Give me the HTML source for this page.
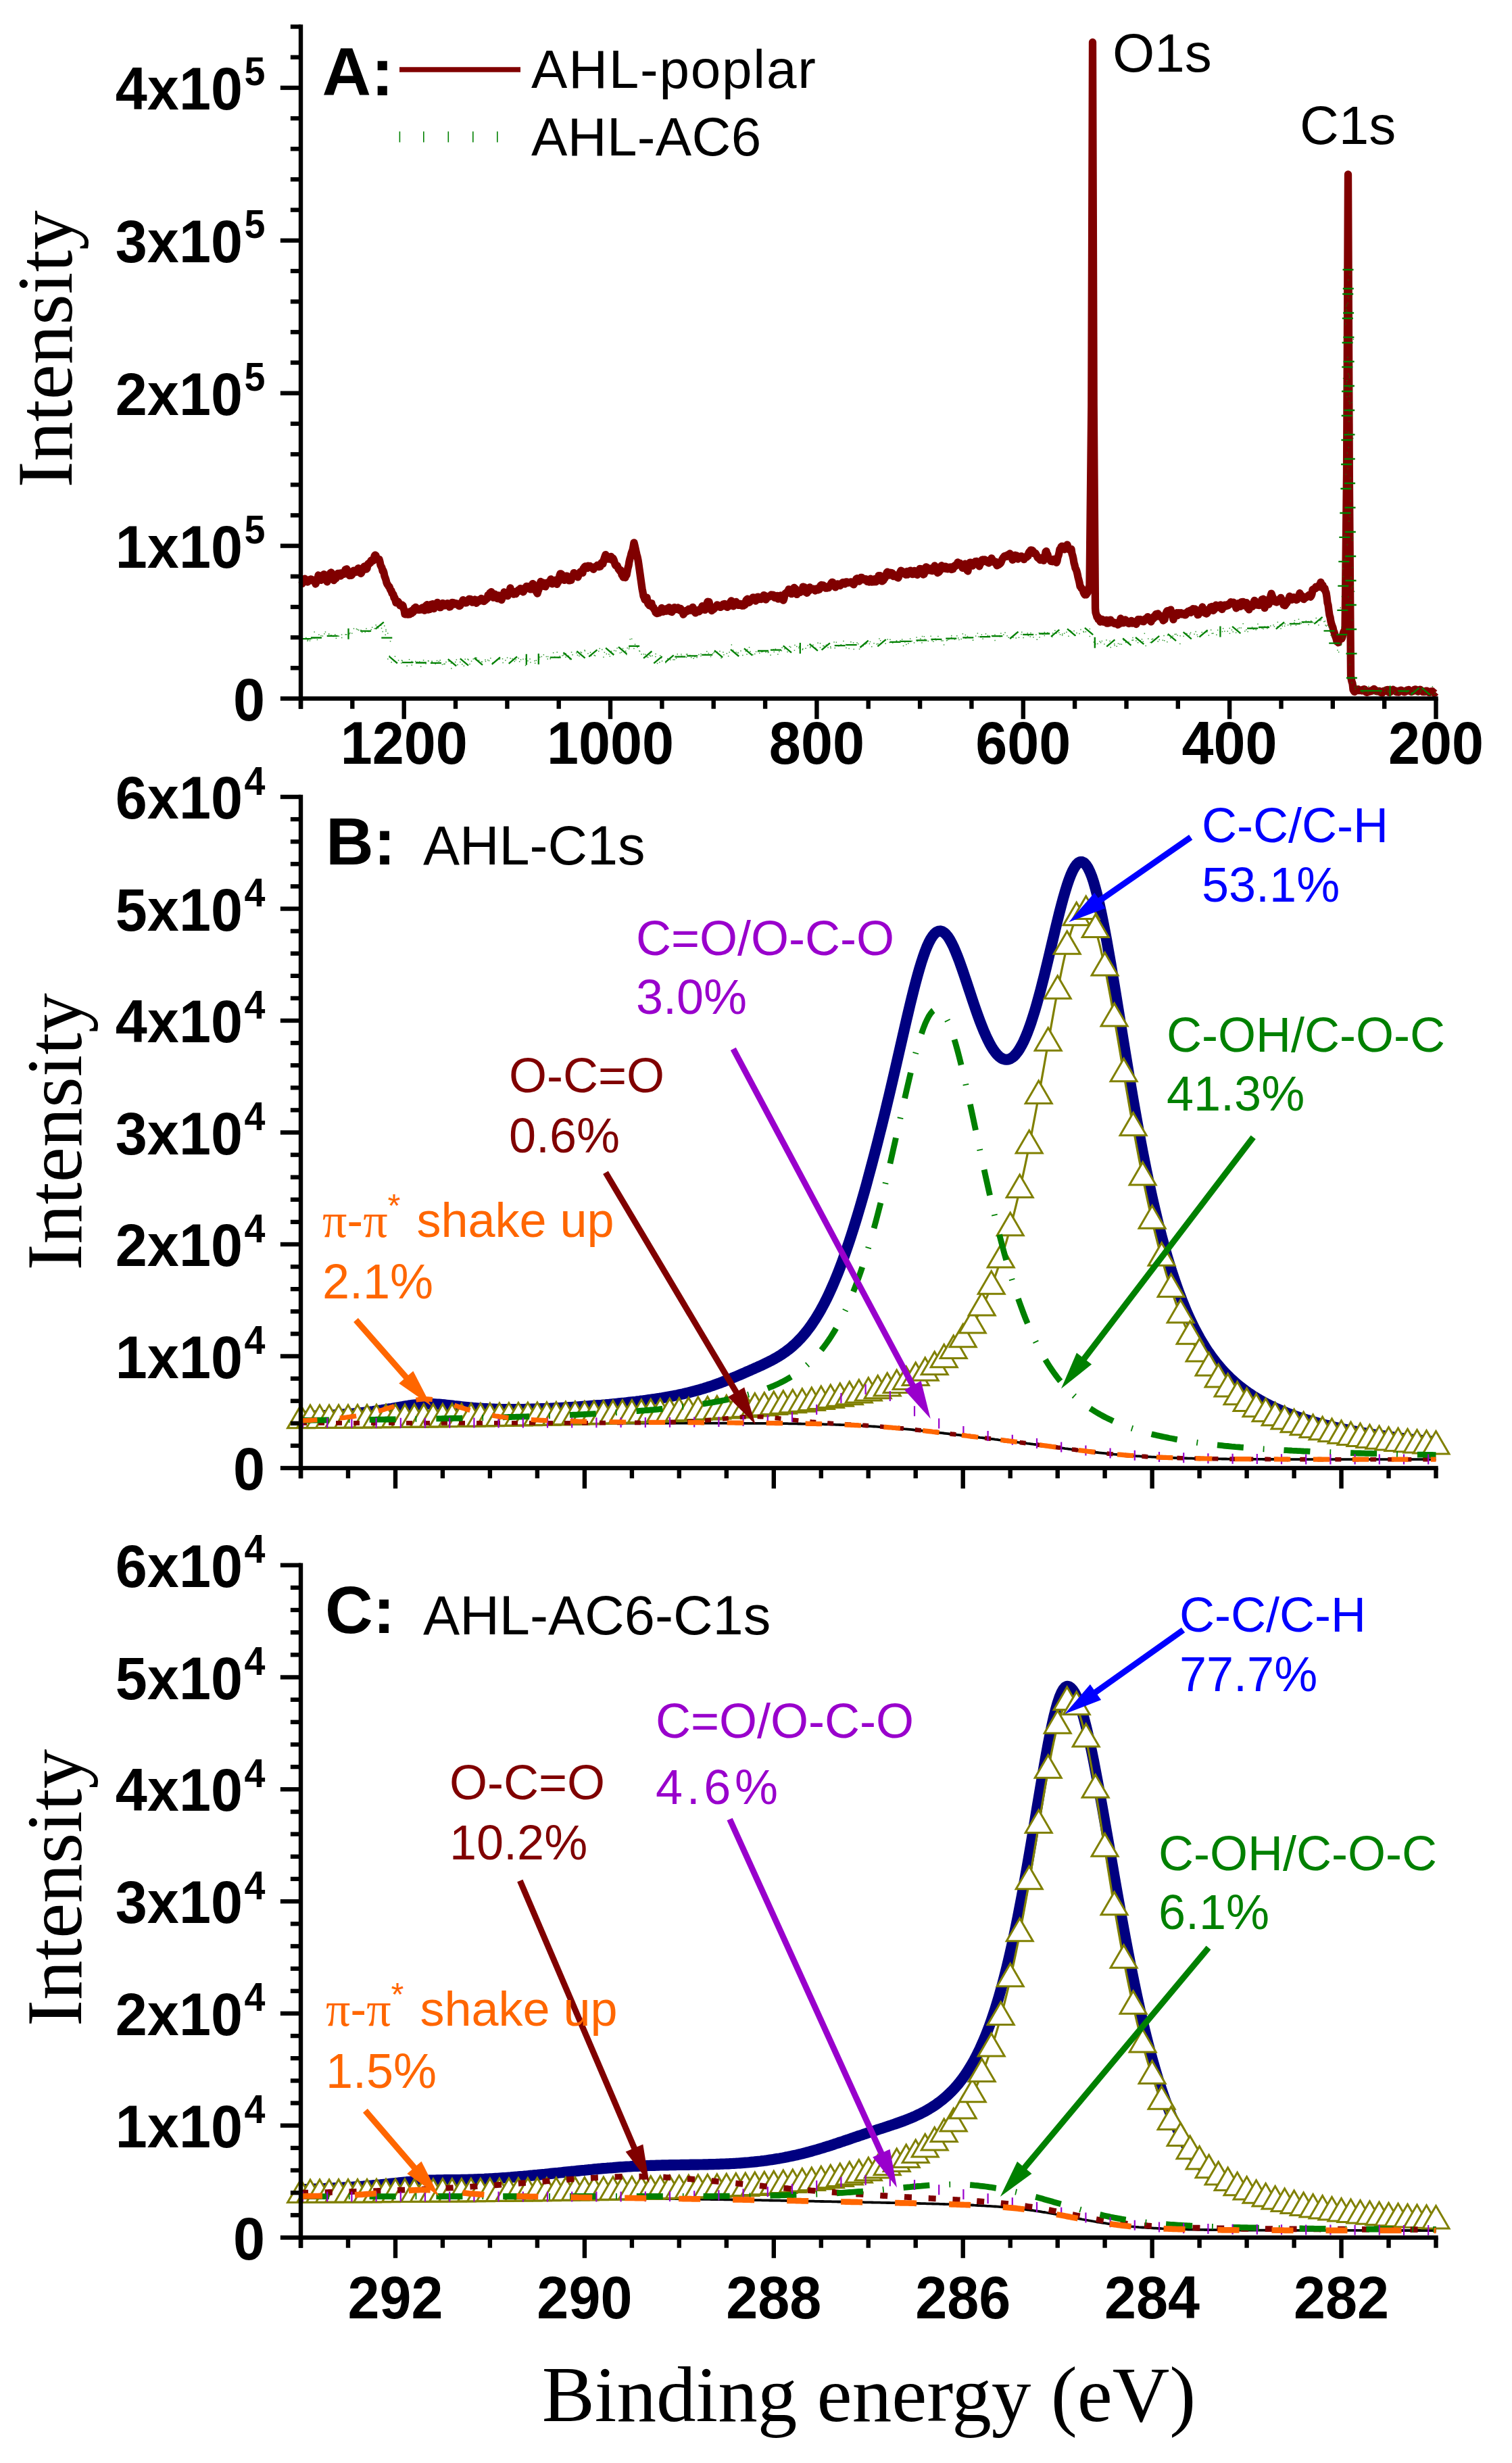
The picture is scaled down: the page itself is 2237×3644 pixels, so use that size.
<!DOCTYPE html>
<html lang="en"><head><meta charset="utf-8"><title>XPS spectra of AHL-poplar and AHL-AC6</title>
<style>html,body{margin:0;padding:0;background:#fff}svg{display:block}</style></head><body>
<svg width="2237" height="3644" viewBox="0 0 2237 3644">
<rect width="2237" height="3644" fill="#fff"/>
<polyline fill="none" stroke="#800000" stroke-width="11.3" stroke-linejoin="round" stroke-linecap="butt" points="445,863 446,862.9 447,863.5 448,859.3 449,860 450,859.8 451,856.1 452,859 453,859.8 454,858.7 455,861.1 456,860.2 457,858.7 458,859.2 459,857 460,856.9 461,857.4 462,858.1 463,857.9 464,859.6 465,859.5 466,858.3 467,864 468,861.1 469,858.4 470,858.2 471,851 472,852.5 473,854 474,853.2 475,858.4 476,853.8 477,855.1 478,852.7 479,849.7 480,850.1 481,851.4 482,857.4 483,857.7 484,860.8 485,857.9 486,855.7 487,854.8 488,850.4 489,847.6 490,847 491,851.7 492,854.6 493,856.5 494,858.7 495,855.2 496,854.7 497,855.8 498,852.2 499,851.1 500,848.4 501,848.5 502,848.4 503,850.6 504,852.1 505,847.9 506,847.7 507,848.3 508,848 509,849.4 510,847.4 511,842.7 512,842.6 513,841.9 514,846.1 515,847.1 516,847.5 517,851.5 518,851.3 519,851.2 520,851.3 521,849.9 522,846.9 523,844.2 524,844.5 525,844.5 526,845.2 527,846.4 528,844.8 529,842.1 530,840.7 531,843.8 532,846.1 533,847.6 534,848.5 535,846.9 536,843.9 537,842.1 538,839.6 539,837.9 540,841.1 541,842.1 542,842.1 543,840.9 544,835.3 545,833.9 546,834.6 547,832.5 548,832.7 549,829.2 550,828.8 551,829.4 552,829.4 553,827.6 554,822.8 555,821.1 556,821.8 557,825.3 558,825.6 559,827.3 560,827.4 561,827.6 562,831.1 563,836.2 564,838.1 565,840 566,844.6 567,844.5 568,847.6 569,852.8 570,855.1 571,858 572,862.2 573,864.4 574,865.6 575,867.4 576,868 577,870.9 578,873.2 579,873.8 580,877.8 581,878.2 582,879.8 583,884.5 584,884.3 585,888.4 586,891.8 587,890.5 588,890.7 589,890.2 590,891.7 591,893.3 592,895.9 593,894.9 594,896 595,895.1 596,895.8 597,900.1 598,902.5 599,908.8 600,907.3 601,908 602,908.8 603,908.3 604,909 605,908.1 606,908.9 607,904.6 608,906.6 609,907.4 610,903 611,906 612,903.2 613,899.8 614,899.3 615,898.4 616,899.7 617,902.3 618,901.8 619,901 620,902.4 621,901.6 622,900.8 623,902 624,899.5 625,899 626,901.5 627,902.3 628,903.1 629,899.3 630,896.4 631,895.5 632,894.7 633,899.4 634,902 635,899.4 636,901.4 637,898.1 638,894.2 639,898.6 640,893.6 641,895.8 642,900.5 643,897.2 644,897.5 645,897.9 646,893.9 647,891.3 648,893.3 649,892.8 650,895.5 651,898.8 652,898.6 653,896.9 654,894.4 655,892.4 656,893.9 657,893.6 658,896 659,895.5 660,893.4 661,893.8 662,892.6 663,894.3 664,895.4 665,898 666,897.8 667,896.3 668,894.2 669,891.3 670,892.6 671,891.6 672,893.1 673,894 674,892.6 675,892.8 676,894.3 677,893.1 678,893.8 679,896.4 680,896.6 681,895.7 682,894 683,892.5 684,890.2 685,887.6 686,890.3 687,889.8 688,891 689,892 690,891.9 691,890.8 692,889.3 693,888.7 694,886.2 695,886.7 696,886.4 697,889.2 698,889.4 699,891.2 700,890.6 701,888.1 702,887.8 703,887 704,889.6 705,892.3 706,889.2 707,888.6 708,888.8 709,887.3 710,889.1 711,888.8 712,885.4 713,886.2 714,886.8 715,888.3 716,889.7 717,887.3 718,888.1 719,887.1 720,885.2 721,885.5 722,880.5 723,880.3 724,880 725,877.1 726,877.7 727,875.7 728,877.7 729,880.8 730,884.2 731,882.6 732,878.9 733,880.3 734,880.1 735,881.7 736,885.7 737,882.5 738,880.8 739,882.3 740,883 741,884.4 742,887.6 743,884.7 744,882.1 745,881.6 746,876 747,877.2 748,878 749,877.8 750,880.1 751,881.7 752,878 753,875.6 754,874.4 755,870 756,874 757,876.7 758,876.2 759,876.9 760,879.1 761,877.4 762,877.4 763,878.7 764,874.9 765,876 766,875.6 767,873 768,872.7 769,872 770,870.6 771,874.2 772,874.3 773,873.8 774,875.8 775,874.1 776,871.5 777,869.5 778,870.2 779,867.3 780,868.8 781,868.5 782,867.6 783,869.5 784,871.5 785,871.9 786,869.6 787,868.5 788,863.6 789,864.2 790,866.9 791,869 792,873.4 793,872.9 794,876.3 795,878.1 796,874.8 797,872.1 798,867.5 799,864.1 800,860.5 801,864 802,863.5 803,861.8 804,866.2 805,867.4 806,866.6 807,867.9 808,865.5 809,862.2 810,862.8 811,863 812,862.8 813,860.1 814,860.6 815,856.8 816,857.6 817,863.8 818,862.5 819,862.8 820,859.9 821,858.6 822,858.2 823,860.7 824,864.3 825,861.9 826,861.1 827,858.4 828,851.5 829,848.8 830,848.9 831,849.8 832,855.1 833,857.1 834,857.1 835,858.3 836,855.9 837,855.3 838,852.1 839,852.1 840,853.2 841,854.2 842,858.9 843,858.8 844,858.3 845,858.4 846,853.3 847,851.9 848,851.9 849,847.6 850,851.8 851,849.6 852,850.2 853,851.8 854,850.9 855,853.8 856,851 857,848.9 858,846.7 859,845.7 860,846.1 861,847.1 862,847.6 863,841.3 864,840.3 865,838.6 866,837.8 867,840.6 868,839.4 869,840.6 870,837.2 871,837.9 872,838.1 873,837.6 874,838.4 875,839.4 876,839.8 877,840.8 878,842.3 879,839 880,839.6 881,838.9 882,838.1 883,838.3 884,836.2 885,836.4 886,838.7 887,837.3 888,838.1 889,835.5 890,832.5 891,833.9 892,834 893,829.3 894,826.3 895,823.3 896,820.6 897,823.3 898,822.5 899,824.4 900,827 901,824.3 902,825.7 903,825.8 904,823.5 905,828.3 906,827.4 907,826.2 908,828.1 909,831.2 910,835.1 911,836.8 912,837.3 913,836.7 914,839 915,842 916,842.4 917,844.6 918,843.4 919,846 920,850.5 921,849.8 922,854 923,852.5 924,853.9 925,854.5 926,850.6 927,851 928,845.7 929,840.3 930,836.9 931,830.7 932,826.5 933,823.4 934,819 935,816.1 936,813.9 937,808.5 938,802.8 939,806.9 940,811.2 941,815.9 942,820.3 943,823.8 944,828.6 945,835.1 946,842.3 947,849.4 948,856.6 949,863.7 950,870.9 951,875.8 952,881.9 953,883.9 954,887.2 955,886.4 956,884.7 957,884 958,890.6 959,893.6 960,894.6 961,896 962,892.2 963,892.6 964,892.7 965,898.1 966,899.1 967,898.9 968,902 969,902.2 970,906.1 971,907.1 972,907.5 973,906 974,905.2 975,906.9 976,904.9 977,902.5 978,901.9 979,899.5 980,903.1 981,905.2 982,903.1 983,904.5 984,901.3 985,901 986,904.1 987,902.2 988,899.9 989,900.6 990,898.7 991,901.2 992,904.9 993,904 994,905.5 995,903.7 996,903 997,901.8 998,898.6 999,901 1000,901.7 1001,899.8 1002,899.7 1003,899.1 1004,899.8 1005,901.8 1006,903.2 1007,900.3 1008,902.5 1009,904.3 1010,905.9 1011,909.2 1012,906.5 1013,906.6 1014,904.5 1015,904.5 1016,903 1017,904 1018,903.3 1019,901.1 1020,901.9 1021,901.8 1022,903.1 1023,902.7 1024,901.3 1025,898.3 1026,901.1 1027,903.6 1028,905.7 1029,906.9 1030,902.8 1031,903.1 1032,903.7 1033,904 1034,904.8 1035,904.5 1036,901.1 1037,901.3 1038,900.1 1039,896.6 1040,898 1041,897.2 1042,901.4 1043,902.4 1044,901.4 1045,898.9 1046,892.6 1047,890.1 1048,890.7 1049,890.5 1050,895.3 1051,900.4 1052,899 1053,903.5 1054,902 1055,901.4 1056,901.4 1057,900.1 1058,898.1 1059,897.2 1060,896.7 1061,894.8 1062,897.3 1063,896.4 1064,896.9 1065,898.2 1066,898.4 1067,895.7 1068,896.7 1069,896.5 1070,893.8 1071,896.6 1072,893.4 1073,894.6 1074,895.3 1075,894.4 1076,898.4 1077,895.7 1078,897 1079,895.3 1080,892.3 1081,890.2 1082,888.8 1083,892 1084,893.2 1085,896.8 1086,895.3 1087,892.1 1088,890.9 1089,890.3 1090,892.4 1091,893.7 1092,895.4 1093,894.1 1094,893.4 1095,895.4 1096,893.3 1097,893.8 1098,896.3 1099,894.2 1100,896.2 1101,894.7 1102,895.1 1103,891.1 1104,887.9 1105,887 1106,886.2 1107,890.2 1108,891.5 1109,890.9 1110,888.7 1111,888.1 1112,887.2 1113,886.6 1114,884 1115,884 1116,885.4 1117,887.8 1118,889.1 1119,885.7 1120,885.1 1121,883.1 1122,883.2 1123,886.6 1124,885.2 1125,885.1 1126,886.4 1127,886 1128,885.9 1129,882.5 1130,880.6 1131,880.8 1132,883.5 1133,887.1 1134,885.9 1135,884 1136,883.3 1137,882.3 1138,882.9 1139,882 1140,880.8 1141,880 1142,880.6 1143,881.1 1144,880.1 1145,883.3 1146,884.3 1147,882.2 1148,884 1149,883.8 1150,881.3 1151,886.1 1152,884.6 1153,885.6 1154,884.9 1155,881 1156,882.5 1157,883.7 1158,885.5 1159,888.2 1160,885.2 1161,879.4 1162,877.8 1163,878.5 1164,876.1 1165,877.2 1166,874.3 1167,871.8 1168,876.1 1169,874.7 1170,876.9 1171,878.7 1172,876.9 1173,876.7 1174,875.1 1175,869.4 1176,870.6 1177,871.2 1178,874.9 1179,879.4 1180,876.8 1181,877 1182,876.3 1183,875 1184,876.3 1185,874.3 1186,874.3 1187,872.4 1188,868.1 1189,869.5 1190,868.6 1191,873.2 1192,876.1 1193,874.7 1194,877.3 1195,873.9 1196,873.9 1197,874.1 1198,868.9 1199,870.8 1200,870.6 1201,871.3 1202,871.9 1203,871.9 1204,871.2 1205,872.9 1206,874 1207,871.7 1208,871.1 1209,870.9 1210,872.9 1211,872.3 1212,872.1 1213,868.7 1214,866.3 1215,865.7 1216,866.9 1217,868.8 1218,865.9 1219,867.5 1220,867.9 1221,867.6 1222,870.2 1223,870.2 1224,869.8 1225,868.3 1226,869.7 1227,867.3 1228,865.9 1229,864.5 1230,862.5 1231,861.3 1232,861.5 1233,864.6 1234,864.5 1235,867.6 1236,868.8 1237,867.3 1238,866.5 1239,863.8 1240,864.2 1241,864.8 1242,864.5 1243,866.5 1244,865.4 1245,864.5 1246,862.5 1247,861.7 1248,861.7 1249,862.4 1250,864 1251,861.7 1252,860.8 1253,860.9 1254,861.3 1255,862.2 1256,861.7 1257,861.7 1258,862.1 1259,860.9 1260,862.7 1261,863.3 1262,864.1 1263,864.9 1264,863.2 1265,859.9 1266,859.6 1267,856.2 1268,855.7 1269,856.8 1270,856.8 1271,860.1 1272,859 1273,857.1 1274,854.3 1275,854.4 1276,855.8 1277,857.7 1278,857.6 1279,856.9 1280,858.2 1281,856.6 1282,857.6 1283,860.4 1284,859.5 1285,860.4 1286,861.2 1287,857.2 1288,856.2 1289,859.3 1290,861.1 1291,859.4 1292,860.3 1293,860.8 1294,856.7 1295,859.7 1296,860.8 1297,856.7 1298,858.1 1299,857.5 1300,851.7 1301,852.9 1302,851.7 1303,853.1 1304,859.5 1305,859.9 1306,859.4 1307,858.5 1308,855.2 1309,855.6 1310,853.7 1311,850.9 1312,847.1 1313,846.2 1314,848.4 1315,849 1316,851 1317,848.9 1318,847.3 1319,847.6 1320,847.8 1321,850.9 1322,852.7 1323,851.7 1324,851.4 1325,850.9 1326,851 1327,852.6 1328,854.6 1329,855 1330,852.2 1331,850.3 1332,846.1 1333,844.2 1334,845.4 1335,845.3 1336,846.7 1337,846.9 1338,847.1 1339,847.2 1340,850.3 1341,847.3 1342,845.3 1343,850.2 1344,847.4 1345,848 1346,848.7 1347,844.1 1348,845.8 1349,847.8 1350,849.7 1351,849.3 1352,845.4 1353,844.5 1354,845.9 1355,847.9 1356,849.9 1357,850.5 1358,847.3 1359,845.3 1360,843.4 1361,841.4 1362,842.1 1363,841.7 1364,844.8 1365,848.2 1366,850 1367,849.6 1368,847 1369,842.7 1370,838.8 1371,839.1 1372,840.9 1373,842 1374,843.8 1375,843.8 1376,842.7 1377,841.1 1378,843.4 1379,844.7 1380,843.2 1381,842.8 1382,838.9 1383,837 1384,840.4 1385,843.3 1386,845.9 1387,847.4 1388,847 1389,846.4 1390,845.2 1391,843.1 1392,838.3 1393,836.7 1394,838.7 1395,837.9 1396,839.5 1397,841.2 1398,838.2 1399,838.2 1400,841.5 1401,840.8 1402,841.8 1403,841.5 1404,839.7 1405,839.1 1406,839 1407,841.7 1408,842.6 1409,842.2 1410,841.9 1411,838 1412,837.1 1413,837.9 1414,836 1415,836.5 1416,835.2 1417,832 1418,833.1 1419,834.7 1420,833.1 1421,835 1422,836.1 1423,837.2 1424,840.3 1425,839.9 1426,837.5 1427,835 1428,834.2 1429,838.1 1430,840.8 1431,843.9 1432,845 1433,838.5 1434,835.7 1435,832.3 1436,832.1 1437,837.3 1438,836.4 1439,837.1 1440,835.8 1441,832.2 1442,832.1 1443,830.8 1444,831.2 1445,830.4 1446,833.2 1447,834.3 1448,834 1449,837.8 1450,834.8 1451,833.2 1452,832.6 1453,828.2 1454,828 1455,829 1456,828.5 1457,828 1458,828.5 1459,829.5 1460,831.3 1461,830 1462,832.6 1463,833 1464,828.9 1465,829.6 1466,828 1467,825.8 1468,827.7 1469,831.3 1470,829.9 1471,830.8 1472,831.2 1473,831.1 1474,834.4 1475,836.8 1476,836.3 1477,834.4 1478,835.2 1479,833.4 1480,833.6 1481,832.1 1482,829.4 1483,827 1484,825.4 1485,824.9 1486,822.7 1487,823.9 1488,822.1 1489,822.7 1490,823.3 1491,821 1492,821.3 1493,821.3 1494,819 1495,822 1496,822.2 1497,824.7 1498,828.4 1499,825.3 1500,826.9 1501,824.7 1502,821.3 1503,822.5 1504,822 1505,823.8 1506,827.1 1507,825.8 1508,825.4 1509,825 1510,825.1 1511,822.8 1512,825.4 1513,824.1 1514,824.6 1515,827.7 1516,824.2 1517,824.4 1518,823.7 1519,824.3 1520,821.7 1521,822.6 1522,818 1523,816.2 1524,818 1525,813.8 1526,814.3 1527,814.1 1528,814.9 1529,817.7 1530,819 1531,818.1 1532,818.7 1533,820.2 1534,822.2 1535,824.7 1536,825.8 1537,825.6 1538,826.1 1539,828.6 1540,826.9 1541,825.4 1542,825.9 1543,826 1544,829.4 1545,826.4 1546,824 1547,816.5 1548,815.5 1549,819.8 1550,820.5 1551,826 1552,827.2 1553,827 1554,829 1555,830.4 1556,829.2 1557,830.8 1558,829.7 1559,827.3 1560,828.3 1561,829 1562,829 1563,832.3 1564,830.1 1565,824.5 1566,822 1567,817.7 1568,812.4 1569,812.5 1570,809 1571,808.1 1572,809.1 1573,808.3 1574,809.4 1575,812.8 1576,810.8 1577,809.7 1578,808 1579,805.9 1580,809.4 1581,811.7 1582,813.3 1583,812.9 1584,813.8 1585,812.4 1586,819.2 1587,822.3 1588,826.7 1589,832.8 1590,836.2 1591,840.7 1592,842.4 1593,845.2 1594,849.1 1595,854.1 1596,857.9 1597,861.9 1598,867.6 1599,868.4 1600,870.4 1601,871.5 1602,872 1603,876.3 1604,878.3 1605,879.8 1606,879.3 1607,879.9 1608,878.1 1609,877 1610,874 1611,869.9 1612,866 1613,771 1614,676 1614.8,600 1615,537.5 1616,225.2 1616.5,62.4 1617,225.2 1618,537.5 1618.2,600 1619,704.3 1620,834.8 1620.5,900 1621,906.2 1622,909.4 1623,913.1 1624,912.3 1625,916.5 1626,916.2 1627,915.1 1628,920 1629,916.2 1630,916.2 1631,919.3 1632,917.1 1633,920.2 1634,918.3 1635,918.3 1636,918.6 1637,917.3 1638,922.2 1639,922.2 1640,921.4 1641,921.6 1642,917.3 1643,917.2 1644,919.3 1645,919.8 1646,921.2 1647,920.4 1648,920.9 1649,922.6 1650,921.6 1651,922.2 1652,921.5 1653,921.7 1654,924.3 1655,923.1 1656,923 1657,918.4 1658,915 1659,916.1 1660,916.9 1661,920.7 1662,921.7 1663,919.3 1664,918.8 1665,916.9 1666,917.9 1667,920.3 1668,920.7 1669,921.9 1670,922.5 1671,921.3 1672,921.7 1673,919.7 1674,918.3 1675,922 1676,920.8 1677,919.6 1678,921.8 1679,920.3 1680,921.4 1681,923.5 1682,921.5 1683,919.4 1684,916.3 1685,918.3 1686,917.1 1687,916.5 1688,916.8 1689,917.2 1690,919.2 1691,919.2 1692,919.7 1693,917.4 1694,917.3 1695,915.2 1696,916.6 1697,915.3 1698,912.6 1699,914.5 1700,914.2 1701,917.2 1702,918.5 1703,919.8 1704,917.1 1705,914.9 1706,915.8 1707,912.3 1708,912.7 1709,913 1710,908.7 1711,910.3 1712,912 1713,907.8 1714,909.9 1715,910.4 1716,910.7 1717,911.3 1718,913.6 1719,913.8 1720,914.2 1721,918 1722,916.6 1723,916.7 1724,911.8 1725,907.6 1726,905.2 1727,903.7 1728,907.9 1729,907.1 1730,908 1731,906.3 1732,902.1 1733,907.3 1734,907.8 1735,912.4 1736,916.7 1737,912.7 1738,909.4 1739,909.9 1740,907.2 1741,906.7 1742,910.7 1743,907.4 1744,906.8 1745,907.9 1746,906.9 1747,906.7 1748,908.8 1749,908.7 1750,907.7 1751,908.4 1752,907.6 1753,909.8 1754,909.8 1755,908.5 1756,905.9 1757,906.4 1758,904.4 1759,904.8 1760,905.1 1761,903 1762,906.3 1763,903.2 1764,904.2 1765,900.6 1766,901.5 1767,903.3 1768,900.9 1769,902.5 1770,902.2 1771,905.2 1772,909.7 1773,909.4 1774,906.9 1775,906.9 1776,903.5 1777,904.1 1778,902.7 1779,898 1780,901 1781,902.4 1782,904.5 1783,907.2 1784,906.8 1785,908 1786,907.1 1787,905.5 1788,902 1789,901.2 1790,900.2 1791,898.2 1792,899.3 1793,897.4 1794,899.4 1795,903.3 1796,902.4 1797,900.9 1798,898.9 1799,895.2 1800,896 1801,897.9 1802,898.4 1803,897.6 1804,895.7 1805,896.9 1806,895 1807,898.7 1808,901.5 1809,898.8 1810,898.7 1811,897.7 1812,895.1 1813,895.2 1814,896.8 1815,895.2 1816,896.1 1817,895.8 1818,893.4 1819,894.2 1820,893.3 1821,890.7 1822,892.1 1823,891.8 1824,891.7 1825,891.2 1826,892.8 1827,894.3 1828,896.2 1829,899.9 1830,896.5 1831,895.4 1832,892.7 1833,895.6 1834,896.6 1835,897.4 1836,896.2 1837,890.6 1838,890.5 1839,890.4 1840,893.6 1841,895.9 1842,893.6 1843,894.2 1844,891.6 1845,893.6 1846,899.6 1847,898.9 1848,901.9 1849,897.1 1850,898.1 1851,897 1852,896.8 1853,897.4 1854,892.9 1855,890.5 1856,888.3 1857,889.6 1858,890 1859,894.1 1860,895.1 1861,895.3 1862,894.8 1863,895.7 1864,893.8 1865,895.2 1866,891.8 1867,887 1868,888.5 1869,886.1 1870,894.1 1871,899.5 1872,896.3 1873,894.6 1874,889.4 1875,887.9 1876,892.1 1877,894.2 1878,892 1879,887.6 1880,881.3 1881,878.1 1882,881 1883,883.5 1884,885.6 1885,888.2 1886,890 1887,888.8 1888,890.3 1889,891 1890,889 1891,888.8 1892,888.3 1893,886.4 1894,885.6 1895,884.4 1896,887.3 1897,889.3 1898,890.8 1899,894.9 1900,895.1 1901,895.9 1902,894.6 1903,890.9 1904,892 1905,888.5 1906,886.8 1907,885.6 1908,882.1 1909,883.8 1910,886.4 1911,887.4 1912,884.1 1913,883.9 1914,883.7 1915,884 1916,886.5 1917,886.8 1918,887.5 1919,887.2 1920,885 1921,883.1 1922,880.4 1923,877.5 1924,881 1925,880.6 1926,881.6 1927,884.7 1928,882.9 1929,886.7 1930,884.8 1931,883.3 1932,884.2 1933,882.8 1934,882.9 1935,881.6 1936,881.4 1937,880.2 1938,882.7 1939,883.1 1940,881.5 1941,878.8 1942,872.2 1943,871.8 1944,872 1945,870.4 1946,870.9 1947,868 1948,867.9 1949,867.6 1950,868.8 1951,868.4 1952,865.5 1953,864.6 1954,861.4 1955,864.4 1956,866.7 1957,865.8 1958,870.8 1959,871.5 1960,870.4 1961,874.9 1962,877 1963,883.1 1964,891.8 1965,895.1 1966,903.2 1967,910.1 1968,913.4 1969,919.6 1970,923.2 1971,926.2 1972,928.6 1973,933.4 1974,935.3 1975,939.6 1976,942.1 1977,945 1978,949.2 1979,948.2 1980,950.8 1981,945.9 1982,944.1 1983,945 1984,945.3 1985,944.9 1986,942.3 1987,938 1988,934.7 1989,933.7 1990,930 1991,838 1992,746 1992.5,700 1993,589.5 1994,368.5 1994.5,258 1995,380.8 1996,626.3 1996.3,700 1997,795.5 1998,931.8 1998.5,1000 1999,1003.8 2000,1008.4 2001,1011.4 2002,1020.3 2003,1022.2 2004,1023.5 2005,1021.7 2006,1019.9 2007,1020.6 2008,1020.1 2009,1019.8 2010,1021.7 2011,1020.5 2012,1021.1 2013,1021.5 2014,1021.1 2015,1022 2016,1021.1 2017,1020.1 2018,1019.7 2019,1019.8 2020,1023 2021,1023.8 2022,1024.4 2023,1024.2 2024,1022.6 2025,1022.9 2026,1022.3 2027,1023 2028,1022.4 2029,1022.5 2030,1022 2031,1020.5 2032,1020.9 2033,1019.4 2034,1020.8 2035,1021.9 2036,1021.6 2037,1022.9 2038,1022.8 2039,1022.9 2040,1022.6 2041,1022.4 2042,1023.9 2043,1024.3 2044,1024.9 2045,1025.1 2046,1023.1 2047,1022.5 2048,1022.1 2049,1022.4 2050,1022.3 2051,1020.8 2052,1020.7 2053,1020.5 2054,1022.5 2055,1024.4 2056,1024.2 2057,1023.7 2058,1021.7 2059,1021 2060,1021.1 2061,1020.3 2062,1021.1 2063,1021.3 2064,1021.8 2065,1022.9 2066,1023.8 2067,1023.8 2068,1023.7 2069,1024 2070,1021.9 2071,1022.3 2072,1022 2073,1021.1 2074,1022.1 2075,1022.6 2076,1022.7 2077,1023.7 2078,1023.8 2079,1022.1 2080,1023.1 2081,1022.1 2082,1021 2083,1021.4 2084,1020.4 2085,1021.3 2086,1021.7 2087,1023 2088,1023.5 2089,1022.8 2090,1022.8 2091,1022.1 2092,1020.8 2093,1020 2094,1019.9 2095,1020.2 2096,1021.4 2097,1022.7 2098,1023.1 2099,1021.5 2100,1021.2 2101,1020.2 2102,1020.8 2103,1022.1 2104,1022.2 2105,1023.5 2106,1023.2 2107,1023.3 2108,1023.6 2109,1023 2110,1022.1 2111,1022.2 2112,1022.8 2113,1023.7 2114,1024.4 2115,1024.5 2116,1023.5 2117,1023.1 2118,1022.9 2119,1022.7 2120,1024.1 2121,1024.3 2122,1025.5 2123,1025 2124,1023.9"/>
<path fill="none" stroke="#008000" stroke-width="1.5" stroke-opacity="0.8" d="M444.3 945.9h1.5M448.5 945h1.5M452 943.6h1.5M454.3 948.2h1.5M454.8 946.7h1.5M457.7 947.9h1.5M460.4 945.3h1.5M464.4 935.1h1.5M464 944.1h1.5M468.7 946.6h1.5M471.1 939.1h1.5M474.2 940.5h1.5M476.6 940.9h1.5M479.1 937.8h1.5M480.7 934.9h1.5M485.9 938.6h1.5M485.9 937.7h1.5M489.1 939.7h1.5M492.3 941.5h1.5M495 938.7h1.5M496.6 944.3h1.5M499.7 941h1.5M500.6 941.3h1.5M504.9 943.4h1.5M504.8 938.9h1.5M510.4 938.7h1.5M511.9 938.8h1.5M516.2 937.8h1.5M517.2 936.6h1.5M520 937h1.5M522.7 930.1h1.5M526.7 930.5h1.5M528.2 931.5h1.5M530 932.3h1.5M533.2 932.2h1.5M534.9 935.5h1.5M539.5 935.3h1.5M541.2 930.1h1.5M542.9 934.1h1.5M545.1 934.5h1.5M548.5 931.6h1.5M549.9 928.2h1.5M553.4 929.9h1.5M555.4 924.7h1.5M557.1 926.8h1.5M558.8 929.1h1.5M562.8 925.2h1.5M563.8 929.4h1.5M565.5 934.5h1.5M568 925.9h1.5M570.3 931.4h1.5M570.3 933.8h1.5M573 936.9h1.5M569.5 939.2h1.5M576.8 948.7h1.5M575.6 970.6h1.5M573.1 975.1h1.5M578.4 979.8h1.5M582.2 978.1h1.5M583.7 971.2h1.5M586.2 980.3h1.5M588.8 977.1h1.5M593 981.1h1.5M593.8 977h1.5M594.3 977.8h1.5M599.1 979.7h1.5M601.4 985.3h1.5M604.8 975.8h1.5M608.5 983.9h1.5M608.7 978.6h1.5M610.5 979.8h1.5M614.1 978.6h1.5M616.8 979.6h1.5M619.9 978.9h1.5M621.9 986.2h1.5M626.2 980.8h1.5M625.8 976.8h1.5M629.3 982h1.5M632.7 977.8h1.5M633.4 978h1.5M638.5 979.7h1.5M638.3 978.3h1.5M643.4 982.2h1.5M645.8 977.6h1.5M648.6 978.5h1.5M650.5 976.7h1.5M653.7 983.3h1.5M656 982.4h1.5M657.4 982.2h1.5M659.2 979.4h1.5M663.5 978.2h1.5M667 988.9h1.5M666.8 981.3h1.5M673 979.6h1.5M674.6 975.9h1.5M676.2 983.5h1.5M680.1 979.6h1.5M683 982.7h1.5M685.6 985.3h1.5M687.5 975.3h1.5M691.3 975.3h1.5M692.3 976.2h1.5M694.3 982.5h1.5M696.8 978.2h1.5M699.5 974.9h1.5M702.9 972.9h1.5M704.4 973.5h1.5M707.9 977.1h1.5M711.7 979.3h1.5M712.5 979.2h1.5M717.2 976.2h1.5M717.7 978.5h1.5M720.9 976.6h1.5M722.8 977.5h1.5M725.1 973.8h1.5M728.2 980.5h1.5M731.3 979h1.5M734.5 976.2h1.5M736.7 975.2h1.5M738.6 975.3h1.5M742.8 974.8h1.5M743.4 980.4h1.5M747.1 976.9h1.5M749.8 973h1.5M753.6 980.2h1.5M754.4 974h1.5M757.3 974.8h1.5M760.6 978.4h1.5M762.5 976.3h1.5M766.4 973.7h1.5M767.9 978.7h1.5M769.8 976h1.5M773.2 975.3h1.5M777 975h1.5M776.8 984.5h1.5M780.2 977.8h1.5M783.3 974.9h1.5M784.2 980.1h1.5M790.2 977.7h1.5M790.9 981.3h1.5M792.5 977.3h1.5M796.9 975h1.5M798 972.2h1.5M800.6 971.4h1.5M803.6 968.8h1.5M807.6 971.4h1.5M809.5 975.1h1.5M809.9 971.5h1.5M813.5 974.8h1.5M817.9 965.7h1.5M819.9 971.9h1.5M823.5 965h1.5M825.3 973.3h1.5M827.4 970.9h1.5M831.3 970h1.5M833 968.9h1.5M836.2 966.8h1.5M836.3 972.2h1.5M840.5 970.5h1.5M842.3 975h1.5M844.8 965.1h1.5M846.4 968.8h1.5M852 966h1.5M853.7 969.2h1.5M856.2 970.6h1.5M858.5 964.8h1.5M859.7 965.8h1.5M864.2 962.1h1.5M864.7 963h1.5M869.2 967h1.5M872 969.9h1.5M872.8 965.2h1.5M873.8 970.3h1.5M878.5 969.6h1.5M879.8 970.2h1.5M885 963.5h1.5M886.5 959.5h1.5M890 961.1h1.5M892.2 972.3h1.5M893.6 965.3h1.5M896.6 967.5h1.5M900.2 968.1h1.5M901.6 970.9h1.5M903.8 963.4h1.5M907.9 962.4h1.5M910.5 962.9h1.5M912.3 959h1.5M916.6 966.1h1.5M918.8 964.9h1.5M920.8 959.6h1.5M925 963.2h1.5M926.3 968.5h1.5M927.4 958.8h1.5M929.8 960h1.5M930.3 958.1h1.5M931.5 945.7h1.5M933.9 945.2h1.5M937.2 959.5h1.5M938.8 953.3h1.5M941.6 956.7h1.5M942.6 957.5h1.5M945.8 963.4h1.5M945.1 963.1h1.5M948.3 968.1h1.5M951.6 967.8h1.5M954 968.3h1.5M956.2 971.7h1.5M957.9 972.5h1.5M960.4 969.5h1.5M961.8 970.8h1.5M964.4 970.3h1.5M969.4 967.6h1.5M969.1 971.6h1.5M971.8 981.4h1.5M975.1 979.7h1.5M976 970h1.5M977.7 973.5h1.5M978.8 977.9h1.5M984 980.4h1.5M987.1 974.5h1.5M987.7 975.3h1.5M991.1 976.3h1.5M995.3 976h1.5M997.3 976.1h1.5M999.8 974.1h1.5M1001.5 967.7h1.5M1003.1 971.6h1.5M1007.7 970.4h1.5M1007.1 967.9h1.5M1014.9 968.1h1.5M1014.8 972.4h1.5M1016.2 967.9h1.5M1020 969.4h1.5M1021.9 972.7h1.5M1025.4 974.2h1.5M1027.3 971.8h1.5M1030.3 972.7h1.5M1033.1 968.4h1.5M1036.3 967.5h1.5M1036.2 970.4h1.5M1041.1 969h1.5M1042.6 968.2h1.5M1045 963.8h1.5M1047.6 966.5h1.5M1050.8 971.5h1.5M1053.8 967.1h1.5M1055.5 965.4h1.5M1056.7 964.2h1.5M1060.6 965.1h1.5M1064.2 963.4h1.5M1066.3 973.6h1.5M1069.2 964.9h1.5M1070.2 968.8h1.5M1074.6 966.8h1.5M1076.9 970.7h1.5M1078.4 964.9h1.5M1081.6 954h1.5M1083.9 962h1.5M1088.4 965.1h1.5M1091.2 965.6h1.5M1091.2 966.3h1.5M1095.2 963.1h1.5M1098.1 969.5h1.5M1102.6 963.6h1.5M1104.3 968h1.5M1104.9 960.9h1.5M1107.8 957.8h1.5M1109.3 963.7h1.5M1113.1 968.8h1.5M1116 967.4h1.5M1117.8 964.2h1.5M1120.7 964h1.5M1123 966.2h1.5M1126.1 964.5h1.5M1127.8 964.1h1.5M1132.3 965h1.5M1135.5 965.6h1.5M1136.3 964.7h1.5M1139.3 969.3h1.5M1143.7 960.9h1.5M1144.5 964.4h1.5M1146.6 960.3h1.5M1150.1 967.9h1.5M1152.1 964.1h1.5M1155.6 962.7h1.5M1156.4 958.3h1.5M1159.9 960h1.5M1161.6 959.6h1.5M1164.3 964.5h1.5M1167.4 956.4h1.5M1169 957.4h1.5M1174.7 962.2h1.5M1175.2 954.6h1.5M1178 956.6h1.5M1181.8 956.5h1.5M1181.1 958.4h1.5M1187 959.9h1.5M1186.6 961.3h1.5M1191.3 959.3h1.5M1194.4 954.9h1.5M1197.9 958.3h1.5M1198.4 956.4h1.5M1201.8 956.5h1.5M1202.2 954.2h1.5M1206.1 958.9h1.5M1209.3 951.3h1.5M1212.8 951.8h1.5M1212.7 958.1h1.5M1217.1 955.5h1.5M1218.6 955.9h1.5M1221.6 954.2h1.5M1224.3 957.9h1.5M1228.4 958.7h1.5M1228 956.8h1.5M1233.3 949.9h1.5M1234.5 958.7h1.5M1236.6 950.2h1.5M1240.1 955.8h1.5M1243.5 953.8h1.5M1245.7 954.9h1.5M1247.2 948.5h1.5M1251.2 958.5h1.5M1250.8 953.4h1.5M1255.4 959.5h1.5M1258.1 949.7h1.5M1261.8 951.1h1.5M1262.5 960.4h1.5M1267.3 951h1.5M1269.1 952.7h1.5M1270.8 960.3h1.5M1272.8 956.5h1.5M1276.3 955.6h1.5M1279.5 952.9h1.5M1281.5 952.1h1.5M1285.6 952.4h1.5M1286.7 949.5h1.5M1289 956.7h1.5M1292.3 951.8h1.5M1296.5 953h1.5M1298.3 952.6h1.5M1300.2 945.1h1.5M1301.9 947.8h1.5M1305.7 948.8h1.5M1309.4 952.2h1.5M1309.1 946.7h1.5M1312.5 946h1.5M1316.2 946.3h1.5M1315.4 950.6h1.5M1320 951.3h1.5M1325.6 948.3h1.5M1325.8 948h1.5M1328 949.7h1.5M1331.1 947.7h1.5M1333.9 946h1.5M1335.8 955.5h1.5M1338.1 949.9h1.5M1340 953.5h1.5M1343.2 952h1.5M1345.9 945h1.5M1348.6 948.4h1.5M1351.8 951h1.5M1355.4 942.9h1.5M1356.5 948.5h1.5M1361.1 944.9h1.5M1363.2 950.9h1.5M1363.8 941.5h1.5M1366.6 941.8h1.5M1367.7 945.7h1.5M1372.5 948.4h1.5M1376.4 941.3h1.5M1378.3 947.8h1.5M1380.2 949.3h1.5M1384.1 946.9h1.5M1383 945.2h1.5M1387.2 941.4h1.5M1392.2 948.1h1.5M1394.3 947.9h1.5M1395.8 954h1.5M1399.9 947.8h1.5M1400.9 947h1.5M1403 946.1h1.5M1406.9 943.2h1.5M1407 940.4h1.5M1411.7 946.1h1.5M1415 940.8h1.5M1417 944.1h1.5M1418.2 946.6h1.5M1421.4 945.5h1.5M1423.6 937.8h1.5M1427.6 939.4h1.5M1428.1 944.2h1.5M1430.7 941.5h1.5M1434.3 943.4h1.5M1438.9 947.1h1.5M1438.7 947.2h1.5M1442.9 941.1h1.5M1445.6 937h1.5M1446.9 942h1.5M1450.4 942.4h1.5M1451.6 939.1h1.5M1453.4 945.3h1.5M1457.7 937.7h1.5M1460.7 940.2h1.5M1463 941h1.5M1466.7 940.6h1.5M1468.9 940.6h1.5M1471.2 939h1.5M1471.3 947.6h1.5M1478 940.5h1.5M1478.8 941.8h1.5M1480.1 937h1.5M1484 938.9h1.5M1486.3 936h1.5M1489.3 940.8h1.5M1491.5 943.2h1.5M1494.7 943.9h1.5M1498.3 943.2h1.5M1497.9 940.9h1.5M1502.5 944h1.5M1505.5 935.5h1.5M1506.7 943.2h1.5M1510.3 938.6h1.5M1511 935.2h1.5M1513.4 943.5h1.5M1519.5 936.8h1.5M1520.6 940.4h1.5M1524.2 936.4h1.5M1523.5 942.1h1.5M1528.1 942.8h1.5M1532.1 938.9h1.5M1533.5 946.3h1.5M1537.3 942.7h1.5M1536.6 936.6h1.5M1542.1 938.2h1.5M1544.6 940.4h1.5M1544.6 935.4h1.5M1549.1 936.1h1.5M1551.5 937.2h1.5M1556.1 942.3h1.5M1556.8 936.8h1.5M1560.1 932.7h1.5M1562.3 936.9h1.5M1566.1 935.9h1.5M1567.8 938.8h1.5M1570.9 940h1.5M1571.1 938h1.5M1574 936.9h1.5M1577.2 935.2h1.5M1580.2 941.2h1.5M1582.7 932.7h1.5M1584.9 934.4h1.5M1588.3 933.6h1.5M1590.2 940.1h1.5M1592.2 936.4h1.5M1596.3 937.5h1.5M1598.2 931.4h1.5M1602.2 934.2h1.5M1602.7 935.3h1.5M1605.6 934.8h1.5M1610.3 934.1h1.5M1611.6 930.5h1.5M1611.6 941.5h1.5M1617.5 950h1.5M1620.2 952.7h1.5M1623.1 952.6h1.5M1626.5 948.9h1.5M1627.8 950.7h1.5M1629.6 948.4h1.5M1633.1 952.9h1.5M1636.2 947.1h1.5M1639 954.2h1.5M1641.4 948.6h1.5M1642.5 957.8h1.5M1648 952.8h1.5M1648.4 955.1h1.5M1651.5 956.2h1.5M1653.7 952.2h1.5M1656.1 952.9h1.5M1658.6 953.2h1.5M1661.9 947.2h1.5M1664.8 950.6h1.5M1665.1 949.5h1.5M1669.3 950.1h1.5M1674.3 947.2h1.5M1675.2 943.6h1.5M1675.8 947h1.5M1680.1 948h1.5M1682.8 950.8h1.5M1686.2 947.7h1.5M1688.7 945.7h1.5M1690.5 949.3h1.5M1692.6 937.3h1.5M1694.5 955.6h1.5M1698 945.1h1.5M1701.2 950.4h1.5M1703.4 946h1.5M1704.8 945.3h1.5M1706.9 947.2h1.5M1712.5 949h1.5M1713.4 942.2h1.5M1714.6 946.5h1.5M1719.6 947.2h1.5M1721.3 940.6h1.5M1722 947.7h1.5M1726.1 949.8h1.5M1726.8 940h1.5M1731 944h1.5M1734.5 941.1h1.5M1737.4 938.4h1.5M1739.3 938.3h1.5M1741.3 939.9h1.5M1745.1 952.6h1.5M1745.4 940.7h1.5M1750.4 941.2h1.5M1754.1 937.3h1.5M1755.5 937.9h1.5M1758.5 940.5h1.5M1759.9 937.9h1.5M1760.8 935.9h1.5M1766.3 938.2h1.5M1768.4 934.6h1.5M1771.2 941.7h1.5M1770.4 939.2h1.5M1777.5 935.5h1.5M1779.5 937.6h1.5M1781.4 936h1.5M1782.7 935.6h1.5M1785.1 934.8h1.5M1787.6 939.9h1.5M1790.9 932.1h1.5M1792.5 937.3h1.5M1794.2 937h1.5M1799.1 939.2h1.5M1800.9 932.2h1.5M1804.5 935h1.5M1807.7 934.5h1.5M1808.9 929.8h1.5M1811.1 934.1h1.5M1815.5 933.9h1.5M1818.7 937.2h1.5M1818.5 929.4h1.5M1821.7 932h1.5M1823.5 934.8h1.5M1827.9 936.1h1.5M1830.5 930.6h1.5M1832.7 928.9h1.5M1835.4 929h1.5M1838.4 922.8h1.5M1841.1 933.8h1.5M1843.2 931.8h1.5M1845.4 934.6h1.5M1849.8 930.2h1.5M1851.8 927.9h1.5M1853.6 931.1h1.5M1854.9 930.4h1.5M1857.5 931.7h1.5M1860.2 923.2h1.5M1861.8 928.8h1.5M1866.4 929.5h1.5M1868.3 930.6h1.5M1870.5 927.2h1.5M1875 927.1h1.5M1874.2 929.7h1.5M1879 925.9h1.5M1883.3 924.8h1.5M1884.6 927h1.5M1889.6 920.5h1.5M1889.2 927.2h1.5M1893 924.5h1.5M1894.3 929.9h1.5M1896.5 926.2h1.5M1899.9 926.2h1.5M1900.5 923h1.5M1904.8 924.7h1.5M1908.9 925.5h1.5M1910.4 923.5h1.5M1914 921.3h1.5M1914.7 918.2h1.5M1916.7 925.3h1.5M1920.7 916.2h1.5M1922.6 921.1h1.5M1924.5 922.5h1.5M1927.4 921.2h1.5M1931.6 918.8h1.5M1934.7 919.5h1.5M1935.3 924.2h1.5M1938.9 918.4h1.5M1940.4 920.1h1.5M1942 921.1h1.5M1946.5 914.4h1.5M1947.5 921.1h1.5M1950.2 924.7h1.5M1952.3 918.3h1.5M1953.8 917h1.5M1958.1 919.7h1.5M1959.7 918.9h1.5M1963.1 925h1.5M1961.6 926.3h1.5M1960.3 925.1h1.5M1965.9 927.9h1.5M1965.7 927.7h1.5M1967.7 934.4h1.5M1968.3 939.7h1.5M1970.9 941h1.5M1978.1 961.9h1.5M1979.9 964.7h1.5M1981.5 951.9h1.5M1983.4 954.4h1.5M1984 953.3h1.5M1986.1 944.1h1.5M1984.2 928h1.5M1982.5 899.3h1.5M1984.6 882.4h1.5M1986.7 852.9h1.5M1986.6 841.3h1.5M1988.9 827.7h1.5M1988.8 791.7h1.5M1990.6 701.8h1.5M1993.4 693.5h1.5M1990.1 686.2h1.5M1997.4 678.9h1.5M1992.5 670.3h1.5M1989.4 644.8h1.5M1994.5 639.6h1.5M1995.2 593.7h1.5M1991.9 587h1.5M1995.1 570.6h1.5M1991.1 566.4h1.5M1992.1 563.4h1.5M1991.9 562.8h1.5M1986.8 559.7h1.5M1995.9 556.3h1.5M1994.1 553.2h1.5M1998.4 544.7h1.5M1995.6 537.8h1.5M1991.1 457.8h1.5M1990.9 453.3h1.5M1991.7 451.1h1.5M1994.1 440.5h1.5M1997.3 399.9h1.5M1996.5 406.2h1.5M1994.1 414.2h1.5M1998.6 442.4h1.5M1993.4 448.4h1.5M1991.6 460.3h1.5M1993.5 462.1h1.5M1989.8 479.3h1.5M2001.6 501.9h1.5M1993.2 528.8h1.5M1999.3 535.1h1.5M1995.6 558.7h1.5M1995.9 573.2h1.5M1988.2 574.6h1.5M1996.1 586.1h1.5M1999.3 595.5h1.5M1996.3 596.9h1.5M1995.5 605.9h1.5M1995.6 609.4h1.5M1995.1 623.4h1.5M1990.6 638.1h1.5M2001 648.6h1.5M1994.5 662.3h1.5M1997.1 707.3h1.5M1998.7 715.1h1.5M1997 719.2h1.5M1997.3 741.3h1.5M1996.6 764h1.5M1995 771.2h1.5M2000.7 795.5h1.5M2000.1 799.3h1.5M1992.6 806.1h1.5M2000 839.7h1.5M1998.2 854.3h1.5M2001.3 867.3h1.5M1999 870h1.5M2002.9 875h1.5M1994 883h1.5M1998 888.4h1.5M1999.7 917.4h1.5M2001.4 930.9h1.5M1996.2 957.6h1.5M1996.3 982.9h1.5M1999.3 1010h1.5M2004.6 1019.7h1.5M2003.8 1016.8h1.5M2006.1 1013.7h1.5M2007.8 1017h1.5M2013.1 1022.7h1.5M2015.5 1024.2h1.5M2018.1 1017.6h1.5M2019.7 1022.7h1.5M2023.2 1025.3h1.5M2024.1 1015.6h1.5M2030.5 1021h1.5M2031.5 1022h1.5M2032.1 1026.4h1.5M2036 1026.7h1.5M2039.1 1018.8h1.5M2041.5 1025.2h1.5M2042.8 1022.7h1.5M2047.7 1018.1h1.5M2048.2 1022.7h1.5M2052.5 1021.9h1.5M2053.8 1024h1.5M2055.9 1023.6h1.5M2059.9 1021.6h1.5M2062.4 1026.1h1.5M2063.2 1024h1.5M2067.4 1021.4h1.5M2069.6 1026.2h1.5M2072.4 1021.4h1.5M2073.3 1021.9h1.5M2077.6 1019.4h1.5M2080.3 1024h1.5M2084 1021.6h1.5M2087.6 1025.8h1.5M2088.4 1024.5h1.5M2090.7 1020.7h1.5M2093.5 1022.9h1.5M2095.8 1027.7h1.5M2100.6 1024.5h1.5M2101.6 1020.7h1.5M2101.6 1022.6h1.5M2106.9 1027.4h1.5M2111 1023.8h1.5M2112.9 1026.6h1.5M2113.8 1025.7h1.5M2117 1028.1h1.5M2118.6 1015.7h1.5M2121.8 1026.1h1.5"/>
<path fill="none" stroke="#008000" stroke-width="2.3" d="M444 945.2L460 945.2M459.9 943.5L475.9 943.5M483.7 940.9L499.7 940.9M515.5 945.7L515.5 929.7M533.1 933.6L549.1 933.6M555.5 930.7L567.8 920.4M564.3 943.6L580.3 943.6M575.7 971.1L587.9 981.3M594.9 980.2L610.9 980.2M614.9 980.5L630.9 980.5M636.9 980.9L652.9 980.9M662.8 975.1L675.1 985.4M680.8 974.4L693 984.7M701.8 973.5L714 983.8M727.7 982.8L740 972.5M752.7 981.8L765 971.5M778.8 983.8L778.8 967.8M796.8 983.1L796.8 967.1M813.7 972.6L829.7 972.6M833.4 965.5L845.7 975.8M853.3 963.3L865.6 973.6M871.2 971.6L883.5 961.3M896.1 958.7L908.3 969M915 957.2L927.3 967.5M930.2 955.8L946.2 955.8M952.1 973.8L964.4 963.5M967.3 981.4L979.6 971.1M984.5 979.6L996.7 969.3M998.3 971.6L1014.3 971.6M1016.2 970.3L1032.2 970.3M1038.2 968.8L1054.2 968.8M1057 962.4L1069.2 972.7M1080.9 960.8L1093.2 971M1100.9 959.4L1113.1 969.7M1121 963L1137 963M1139.9 961.6L1155.9 961.6M1158.7 955.3L1171 965.6M1183.8 967.1L1183.8 951.1M1197.6 952.6L1209.9 962.9M1215.6 961.7L1227.9 951.4M1234.7 955.2L1250.7 955.2M1251.7 954.1L1267.7 954.1M1272.5 958L1284.7 947.7M1298.4 956.3L1310.7 946.1M1316.5 949.9L1332.5 949.9M1332.5 948.9L1348.5 948.9M1355.4 947.4L1371.4 947.4M1377.4 945.9L1393.4 945.9M1399.3 944.6L1415.3 944.6M1424.3 943.3L1440.3 943.3M1449.3 942.1L1465.3 942.1M1467.3 941.1L1483.3 941.1M1494.1 945L1506.4 934.7M1513.2 938.8L1529.2 938.8M1537.2 937.5L1553.2 937.5M1555 941.9L1567.3 931.6M1579 930.3L1591.2 940.6M1604.9 928.9L1617.2 939.2M1619.8 958.8L1619.8 942.8M1637.2 956.7L1649.4 946.4M1661.1 944.5L1673.4 954.8M1680 943L1692.3 953.2M1702.9 951.1L1715.2 940.8M1727.8 937.8L1740 948.1M1750.6 935.1L1762.8 945.3M1774.4 942.5L1786.7 932.2M1805.4 942.5L1805.4 926.5M1823.1 926.9L1835.4 937.2M1845.1 929.7L1861.1 929.7M1862.1 928L1878.1 928M1887.8 930.7L1900.1 920.5M1907.8 922.8L1923.8 922.8M1925.6 920.4L1941.6 920.4M1944.3 923.2L1956.6 912.9M1958.5 933.3L1974.5 933.3M1966.2 951.7L1982.2 951.7M1977.3 938.9L1993.3 938.9M1978.3 902.9L1994.3 902.9M1979.3 866.9L1995.3 866.9M1980.3 830.9L1996.3 830.9M1981.3 794.9L1997.3 794.9M1982.3 759L1998.3 759M1983.4 723L1999.4 723M1984.1 687L2000.1 687M1984.4 651L2000.4 651M1984.7 615L2000.7 615M1985 579L2001 579M1985.3 543L2001.3 543M1985.6 507L2001.6 507M1985.9 471L2001.9 471M1986.2 435L2002.2 435M1986.5 399L2002.5 399M1986.8 427L2002.8 427M1987.1 463L2003.1 463M1987.4 499L2003.4 499M1987.6 535L2003.6 535M1987.9 571L2003.9 571M1988.2 607L2004.2 607M1988.5 643L2004.5 643M1988.8 679L2004.8 679M1989.1 715L2005.1 715M1989.5 751L2005.5 751M1989.8 787L2005.8 787M1990.2 823L2006.2 823M1990.5 859L2006.5 859M1990.8 895L2006.8 895M1991.2 931L2007.2 931M1991.5 967L2007.5 967M1991.9 1003L2007.9 1003M2012.6 1022L2028.6 1022M2028.6 1022.2L2044.6 1022.2M2056.6 1030.4L2056.6 1014.4M2068.6 1022.5L2084.6 1022.5M2087.5 1027.8L2099.7 1017.6M2103.5 1017.7L2115.7 1028"/>
<rect x="441.8" y="36.3" width="6.4" height="1012.4"/>
<rect x="414.8" y="1030.3" width="1712.9" height="6.4"/>
<rect x="414.8" y="804.4" width="30.2" height="6.4"/>
<rect x="414.8" y="578.5" width="30.2" height="6.4"/>
<rect x="414.8" y="352.6" width="30.2" height="6.4"/>
<rect x="414.8" y="126.7" width="30.2" height="6.4"/>
<rect x="429.8" y="985.1" width="15.2" height="6.4"/>
<rect x="429.8" y="939.9" width="15.2" height="6.4"/>
<rect x="429.8" y="894.8" width="15.2" height="6.4"/>
<rect x="429.8" y="849.6" width="15.2" height="6.4"/>
<rect x="429.8" y="759.2" width="15.2" height="6.4"/>
<rect x="429.8" y="714" width="15.2" height="6.4"/>
<rect x="429.8" y="668.9" width="15.2" height="6.4"/>
<rect x="429.8" y="623.7" width="15.2" height="6.4"/>
<rect x="429.8" y="533.3" width="15.2" height="6.4"/>
<rect x="429.8" y="488.1" width="15.2" height="6.4"/>
<rect x="429.8" y="443" width="15.2" height="6.4"/>
<rect x="429.8" y="397.8" width="15.2" height="6.4"/>
<rect x="429.8" y="307.4" width="15.2" height="6.4"/>
<rect x="429.8" y="262.2" width="15.2" height="6.4"/>
<rect x="429.8" y="217.1" width="15.2" height="6.4"/>
<rect x="429.8" y="171.9" width="15.2" height="6.4"/>
<rect x="429.8" y="81.5" width="15.2" height="6.4"/>
<rect x="429.8" y="36.3" width="15.2" height="6.4"/>
<rect x="594.5" y="1033.5" width="6.4" height="30.3"/>
<rect x="899.8" y="1033.5" width="6.4" height="30.3"/>
<rect x="1205.2" y="1033.5" width="6.4" height="30.3"/>
<rect x="1510.6" y="1033.5" width="6.4" height="30.3"/>
<rect x="1815.9" y="1033.5" width="6.4" height="30.3"/>
<rect x="2121.3" y="1033.5" width="6.4" height="30.3"/>
<rect x="2045" y="1033.5" width="6.4" height="15.2"/>
<rect x="1968.6" y="1033.5" width="6.4" height="15.2"/>
<rect x="1892.3" y="1033.5" width="6.4" height="15.2"/>
<rect x="1739.6" y="1033.5" width="6.4" height="15.2"/>
<rect x="1663.3" y="1033.5" width="6.4" height="15.2"/>
<rect x="1586.9" y="1033.5" width="6.4" height="15.2"/>
<rect x="1434.2" y="1033.5" width="6.4" height="15.2"/>
<rect x="1357.9" y="1033.5" width="6.4" height="15.2"/>
<rect x="1281.5" y="1033.5" width="6.4" height="15.2"/>
<rect x="1128.9" y="1033.5" width="6.4" height="15.2"/>
<rect x="1052.5" y="1033.5" width="6.4" height="15.2"/>
<rect x="976.2" y="1033.5" width="6.4" height="15.2"/>
<rect x="823.5" y="1033.5" width="6.4" height="15.2"/>
<rect x="747.2" y="1033.5" width="6.4" height="15.2"/>
<rect x="670.8" y="1033.5" width="6.4" height="15.2"/>
<rect x="518.1" y="1033.5" width="6.4" height="15.2"/>
<rect x="441.8" y="1033.5" width="6.4" height="15.2"/>
<text transform="translate(392 1065.5) scale(0.95 1)" text-anchor="end" font-family='"Liberation Sans", Arial, Helvetica, sans-serif' font-weight="bold" font-size="89">0</text>
<text transform="translate(392.3 839.6) scale(0.95 1)" text-anchor="end" font-family='"Liberation Sans", Arial, Helvetica, sans-serif' font-weight="bold" font-size="89">1x10<tspan font-size="58.5" dx="2.6" dy="-35.5">5</tspan></text>
<text transform="translate(392.3 613.7) scale(0.95 1)" text-anchor="end" font-family='"Liberation Sans", Arial, Helvetica, sans-serif' font-weight="bold" font-size="89">2x10<tspan font-size="58.5" dx="2.6" dy="-35.5">5</tspan></text>
<text transform="translate(392.3 387.8) scale(0.95 1)" text-anchor="end" font-family='"Liberation Sans", Arial, Helvetica, sans-serif' font-weight="bold" font-size="89">3x10<tspan font-size="58.5" dx="2.6" dy="-35.5">5</tspan></text>
<text transform="translate(392.3 161.9) scale(0.95 1)" text-anchor="end" font-family='"Liberation Sans", Arial, Helvetica, sans-serif' font-weight="bold" font-size="89">4x10<tspan font-size="58.5" dx="2.6" dy="-35.5">5</tspan></text>
<text transform="translate(597.7 1130) scale(0.95 1)" text-anchor="middle" font-family='"Liberation Sans", Arial, Helvetica, sans-serif' font-weight="bold" font-size="89">1200</text>
<text transform="translate(903 1130) scale(0.95 1)" text-anchor="middle" font-family='"Liberation Sans", Arial, Helvetica, sans-serif' font-weight="bold" font-size="89">1000</text>
<text transform="translate(1208.4 1130) scale(0.95 1)" text-anchor="middle" font-family='"Liberation Sans", Arial, Helvetica, sans-serif' font-weight="bold" font-size="89">800</text>
<text transform="translate(1513.8 1130) scale(0.95 1)" text-anchor="middle" font-family='"Liberation Sans", Arial, Helvetica, sans-serif' font-weight="bold" font-size="89">600</text>
<text transform="translate(1819.1 1130) scale(0.95 1)" text-anchor="middle" font-family='"Liberation Sans", Arial, Helvetica, sans-serif' font-weight="bold" font-size="89">400</text>
<text transform="translate(2124.5 1130) scale(0.95 1)" text-anchor="middle" font-family='"Liberation Sans", Arial, Helvetica, sans-serif' font-weight="bold" font-size="89">200</text>
<text transform="translate(105.7 516.5) rotate(-90)" text-anchor="middle" font-family='"Liberation Serif", "Times New Roman", Times, serif' font-size="117.2">Intensity</text>
<text x="476.5" y="140.6" fill="#000" font-family='"Liberation Sans", Arial, Helvetica, sans-serif' font-size="100.5" font-weight="bold" text-anchor="start">A:</text>
<line x1="591" y1="103" x2="770" y2="103" stroke="#800000" stroke-width="7.5"/>
<path stroke="#008000" stroke-width="1.6" fill="none" d="M591.4 194.5V210.5M626.8 194.5V210.5M663.3 194.5V210.5M699.8 194.5V210.5M735.8 194.5V210.5"/>
<text x="786" y="130" font-family='"Liberation Sans", Arial, Helvetica, sans-serif' font-size="80" letter-spacing="1.8">AHL-poplar</text>
<text x="786" y="230" font-family='"Liberation Sans", Arial, Helvetica, sans-serif' font-size="80" letter-spacing="0.4">AHL-AC6</text>
<text x="1646" y="105.7" fill="#000" font-family='"Liberation Sans", Arial, Helvetica, sans-serif' font-size="80" font-weight="normal" text-anchor="start">O1s</text>
<text x="1923" y="213.3" fill="#000" font-family='"Liberation Sans", Arial, Helvetica, sans-serif' font-size="80" font-weight="normal" text-anchor="start">C1s</text>
<polyline fill="none" stroke="#000080" stroke-width="16.2" stroke-linejoin="round" points="445,2095.5 447.8,2095.5 450.6,2095.4 453.4,2095.3 456.2,2095.2 459,2095.1 461.8,2095 464.6,2094.8 467.4,2094.7 470.2,2094.6 473,2094.5 475.8,2094.4 478.6,2094.2 481.4,2094.1 484.2,2094 487,2093.8 489.8,2093.7 492.6,2093.5 495.4,2093.3 498.2,2093.2 501,2093 503.8,2092.8 506.6,2092.6 509.4,2092.4 512.2,2092.2 515,2092 517.8,2091.7 520.6,2091.5 523.4,2091.3 526.2,2091 529,2090.7 531.8,2090.4 534.6,2090.2 537.4,2089.9 540.2,2089.5 543,2089.2 545.8,2088.9 548.6,2088.5 551.4,2088.2 554.2,2087.8 557,2087.4 559.8,2087 562.6,2086.6 565.4,2086.1 568.2,2085.7 571,2085.3 573.8,2084.8 576.6,2084.3 579.4,2083.9 582.2,2083.4 585,2082.9 587.8,2082.4 590.6,2081.9 593.4,2081.4 596.2,2081 599,2080.5 601.8,2080.1 604.6,2079.6 607.4,2079.2 610.2,2078.8 612.9,2078.5 615.7,2078.2 618.5,2077.9 621.3,2077.6 624.1,2077.4 626.9,2077.3 629.7,2077.2 632.5,2077.1 635.3,2077.1 638.1,2077.1 640.9,2077.2 643.7,2077.3 646.5,2077.5 649.3,2077.7 652.1,2077.9 654.9,2078.2 657.7,2078.4 660.5,2078.7 663.3,2079 666.1,2079.3 668.9,2079.6 671.7,2080 674.5,2080.3 677.3,2080.6 680.1,2080.9 682.9,2081.2 685.7,2081.5 688.5,2081.8 691.3,2082.1 694.1,2082.4 696.9,2082.6 699.7,2082.9 702.5,2083.1 705.3,2083.3 708.1,2083.5 710.9,2083.7 713.7,2083.9 716.5,2084.1 719.3,2084.2 722.1,2084.4 724.9,2084.5 727.7,2084.6 730.5,2084.7 733.3,2084.8 736.1,2084.9 738.9,2084.9 741.7,2085 744.5,2085 747.3,2085.1 750.1,2085.1 752.9,2085.1 755.7,2085.1 758.5,2085.1 761.3,2085.1 764.1,2085.1 766.9,2085.1 769.7,2085 772.5,2085 775.3,2085 778.1,2084.9 780.9,2084.8 783.7,2084.8 786.5,2084.7 789.3,2084.6 792.1,2084.5 794.9,2084.4 797.7,2084.3 800.5,2084.2 803.3,2084.1 806.1,2084 808.9,2083.9 811.7,2083.8 814.5,2083.7 817.3,2083.5 820.1,2083.4 822.9,2083.3 825.7,2083.1 828.5,2083 831.3,2082.8 834.1,2082.7 836.9,2082.5 839.7,2082.4 842.5,2082.2 845.3,2082 848.1,2081.8 850.9,2081.7 853.7,2081.5 856.5,2081.3 859.3,2081.1 862.1,2080.9 864.9,2080.7 867.7,2080.5 870.5,2080.3 873.3,2080.1 876.1,2079.9 878.9,2079.7 881.7,2079.4 884.5,2079.2 887.3,2079 890.1,2078.8 892.9,2078.5 895.7,2078.3 898.5,2078 901.3,2077.8 904.1,2077.5 906.9,2077.2 909.7,2077 912.5,2076.7 915.3,2076.4 918.1,2076.1 920.9,2075.8 923.7,2075.6 926.5,2075.3 929.3,2074.9 932.1,2074.6 934.9,2074.3 937.7,2074 940.5,2073.7 943.3,2073.3 946.1,2073 948.8,2072.6 951.6,2072.3 954.4,2071.9 957.2,2071.5 960,2071.1 962.8,2070.7 965.6,2070.3 968.4,2069.9 971.2,2069.5 974,2069.1 976.8,2068.6 979.6,2068.2 982.4,2067.7 985.2,2067.2 988,2066.7 990.8,2066.2 993.6,2065.7 996.4,2065.2 999.2,2064.6 1002,2064.1 1004.8,2063.5 1007.6,2062.9 1010.4,2062.3 1013.2,2061.6 1016,2061 1018.8,2060.3 1021.6,2059.6 1024.4,2058.9 1027.2,2058.2 1030,2057.4 1032.8,2056.7 1035.6,2055.9 1038.4,2055 1041.2,2054.2 1044,2053.3 1046.8,2052.5 1049.6,2051.5 1052.4,2050.6 1055.2,2049.7 1058,2048.7 1060.8,2047.7 1063.6,2046.7 1066.4,2045.6 1069.2,2044.5 1072,2043.5 1074.8,2042.4 1077.6,2041.2 1080.4,2040.1 1083.2,2038.9 1086,2037.8 1088.8,2036.6 1091.6,2035.4 1094.4,2034.2 1097.2,2033 1100,2031.8 1102.8,2030.5 1105.6,2029.3 1108.4,2028.1 1111.2,2026.8 1114,2025.6 1116.8,2024.3 1119.6,2023.1 1122.4,2021.8 1125.2,2020.6 1128,2019.3 1130.8,2017.9 1133.6,2016.6 1136.4,2015.2 1139.2,2013.8 1142,2012.4 1144.8,2010.9 1147.6,2009.3 1150.4,2007.7 1153.2,2006 1156,2004.2 1158.8,2002.3 1161.6,2000.4 1164.4,1998.3 1167.2,1996.2 1170,1993.9 1172.8,1991.5 1175.6,1989 1178.4,1986.4 1181.2,1983.6 1184,1980.7 1186.8,1977.6 1189.6,1974.4 1192.4,1971 1195.2,1967.4 1198,1963.7 1200.8,1959.8 1203.6,1955.6 1206.4,1951.3 1209.2,1946.8 1212,1942.1 1214.8,1937.2 1217.6,1932 1220.4,1926.7 1223.2,1921.1 1226,1915.3 1228.8,1909.2 1231.6,1902.9 1234.4,1896.4 1237.2,1889.7 1240,1882.7 1242.8,1875.5 1245.6,1868 1248.4,1860.3 1251.2,1852.4 1254,1844.2 1256.8,1835.9 1259.6,1827.3 1262.4,1818.5 1265.2,1809.5 1268,1800.3 1270.8,1791 1273.6,1781.4 1276.4,1771.7 1279.2,1761.9 1282,1751.9 1284.7,1741.7 1287.5,1731.4 1290.3,1720.9 1293.1,1710.3 1295.9,1699.6 1298.7,1688.7 1301.5,1677.6 1304.3,1666.5 1307.1,1655.1 1309.9,1643.7 1312.7,1632 1315.5,1620.3 1318.3,1608.4 1321.1,1596.4 1323.9,1584.2 1326.7,1572 1329.5,1559.8 1332.3,1547.5 1335.1,1535.2 1337.9,1523 1340.7,1510.8 1343.5,1498.8 1346.3,1487 1349.1,1475.5 1351.9,1464.3 1354.7,1453.4 1357.5,1443.1 1360.3,1433.2 1363.1,1424 1365.9,1415.4 1368.7,1407.6 1371.5,1400.5 1374.3,1394.4 1377.1,1389.1 1379.9,1384.8 1382.7,1381.4 1385.5,1379.1 1388.3,1377.8 1391.1,1377.4 1393.9,1378.1 1396.7,1379.7 1399.5,1382.3 1402.3,1385.7 1405.1,1390 1407.9,1395.1 1410.7,1400.8 1413.5,1407.2 1416.3,1414.1 1419.1,1421.4 1421.9,1429.2 1424.7,1437.2 1427.5,1445.5 1430.3,1453.9 1433.1,1462.4 1435.9,1470.8 1438.7,1479.3 1441.5,1487.5 1444.3,1495.6 1447.1,1503.5 1449.9,1511.1 1452.7,1518.3 1455.5,1525.2 1458.3,1531.6 1461.1,1537.6 1463.9,1543.2 1466.7,1548.2 1469.5,1552.7 1472.3,1556.6 1475.1,1560 1477.9,1562.8 1480.7,1565 1483.5,1566.5 1486.3,1567.4 1489.1,1567.7 1491.9,1567.4 1494.7,1566.4 1497.5,1564.7 1500.3,1562.4 1503.1,1559.4 1505.9,1555.8 1508.7,1551.5 1511.5,1546.6 1514.3,1541.1 1517.1,1534.9 1519.9,1528.1 1522.7,1520.7 1525.5,1512.7 1528.3,1504.1 1531.1,1495.1 1533.9,1485.5 1536.7,1475.4 1539.5,1465 1542.3,1454.1 1545.1,1443 1547.9,1431.5 1550.7,1419.9 1553.5,1408.1 1556.3,1396.2 1559.1,1384.4 1561.9,1372.6 1564.7,1361.1 1567.5,1349.8 1570.3,1339 1573.1,1328.6 1575.9,1318.9 1578.7,1309.9 1581.5,1301.7 1584.3,1294.4 1587.1,1288.2 1589.9,1283.1 1592.7,1279.1 1595.5,1276.5 1598.3,1275.1 1601.1,1275.2 1603.9,1276.6 1606.7,1279.4 1609.5,1283.7 1612.3,1289.3 1615.1,1296.2 1617.9,1304.5 1620.6,1314 1623.4,1324.6 1626.2,1336.3 1629,1349 1631.8,1362.6 1634.6,1377 1637.4,1392.1 1640.2,1407.8 1643,1424 1645.8,1440.5 1648.6,1457.4 1651.4,1474.5 1654.2,1491.8 1657,1509.1 1659.8,1526.4 1662.6,1543.7 1665.4,1560.9 1668.2,1577.9 1671,1594.7 1673.8,1611.2 1676.6,1627.5 1679.4,1643.5 1682.2,1659.2 1685,1674.6 1687.8,1689.5 1690.6,1704.2 1693.4,1718.4 1696.2,1732.3 1699,1745.7 1701.8,1758.8 1704.6,1771.5 1707.4,1783.8 1710.2,1795.7 1713,1807.3 1715.8,1818.4 1718.6,1829.2 1721.4,1839.6 1724.2,1849.7 1727,1859.4 1729.8,1868.8 1732.6,1877.8 1735.4,1886.5 1738.2,1894.9 1741,1903 1743.8,1910.7 1746.6,1918.2 1749.4,1925.4 1752.2,1932.3 1755,1939 1757.8,1945.4 1760.6,1951.6 1763.4,1957.5 1766.2,1963.2 1769,1968.7 1771.8,1973.9 1774.6,1979 1777.4,1983.8 1780.2,1988.5 1783,1993 1785.8,1997.3 1788.6,2001.5 1791.4,2005.5 1794.2,2009.3 1797,2013 1799.8,2016.6 1802.6,2020 1805.4,2023.3 1808.2,2026.5 1811,2029.5 1813.8,2032.5 1816.6,2035.3 1819.4,2038.1 1822.2,2040.7 1825,2043.3 1827.8,2045.8 1830.6,2048.2 1833.4,2050.5 1836.2,2052.7 1839,2054.9 1841.8,2056.9 1844.6,2059 1847.4,2060.9 1850.2,2062.8 1853,2064.7 1855.8,2066.5 1858.6,2068.2 1861.4,2069.9 1864.2,2071.5 1867,2073.1 1869.8,2074.6 1872.6,2076.1 1875.4,2077.6 1878.2,2079 1881,2080.4 1883.8,2081.7 1886.6,2083 1889.4,2084.3 1892.2,2085.5 1895,2086.7 1897.8,2087.9 1900.6,2089 1903.4,2090.2 1906.2,2091.3 1909,2092.3 1911.8,2093.4 1914.6,2094.4 1917.4,2095.4 1920.2,2096.3 1923,2097.3 1925.8,2098.2 1928.6,2099.1 1931.4,2100 1934.2,2100.9 1937,2101.7 1939.8,2102.5 1942.6,2103.3 1945.4,2104.1 1948.2,2104.9 1951,2105.7 1953.8,2106.4 1956.5,2107.1 1959.3,2107.8 1962.1,2108.5 1964.9,2109.2 1967.7,2109.9 1970.5,2110.6 1973.3,2111.2 1976.1,2111.8 1978.9,2112.4 1981.7,2113 1984.5,2113.6 1987.3,2114.2 1990.1,2114.8 1992.9,2115.3 1995.7,2115.9 1998.5,2116.4 2001.3,2117 2004.1,2117.5 2006.9,2118 2009.7,2118.5 2012.5,2119 2015.3,2119.5 2018.1,2119.9 2020.9,2120.4 2023.7,2120.9 2026.5,2121.3 2029.3,2121.7 2032.1,2122.2 2034.9,2122.6 2037.7,2123 2040.5,2123.4 2043.3,2123.8 2046.1,2124.2 2048.9,2124.6 2051.7,2125 2054.5,2125.4 2057.3,2125.8 2060.1,2126.1 2062.9,2126.5 2065.7,2126.8 2068.5,2127.2 2071.3,2127.5 2074.1,2127.9 2076.9,2128.2 2079.7,2128.5 2082.5,2128.8 2085.3,2129.2 2088.1,2129.5 2090.9,2129.8 2093.7,2130.1 2096.5,2130.4 2099.3,2130.7 2102.1,2130.9 2104.9,2131.2 2107.7,2131.5 2110.5,2131.8 2113.3,2132 2116.1,2132.3 2118.9,2132.6 2121.7,2132.8 2124.5,2133.1"/>
<polyline fill="none" stroke="#000" stroke-width="3.8" points="445,2105.5 447.8,2105.5 450.6,2105.5 453.4,2105.5 456.2,2105.5 459,2105.5 461.8,2105.5 464.6,2105.5 467.4,2105.5 470.2,2105.5 473,2105.5 475.8,2105.5 478.6,2105.5 481.4,2105.5 484.2,2105.5 487,2105.5 489.8,2105.5 492.6,2105.5 495.4,2105.5 498.2,2105.5 501,2105.5 503.8,2105.5 506.6,2105.5 509.4,2105.5 512.2,2105.5 515,2105.5 517.8,2105.5 520.6,2105.5 523.4,2105.5 526.2,2105.5 529,2105.5 531.8,2105.5 534.6,2105.5 537.4,2105.5 540.2,2105.5 543,2105.5 545.8,2105.5 548.6,2105.5 551.4,2105.5 554.2,2105.5 557,2105.5 559.8,2105.5 562.6,2105.5 565.4,2105.5 568.2,2105.5 571,2105.5 573.8,2105.5 576.6,2105.5 579.4,2105.5 582.2,2105.5 585,2105.5 587.8,2105.5 590.6,2105.5 593.4,2105.5 596.2,2105.5 599,2105.5 601.8,2105.5 604.6,2105.5 607.4,2105.5 610.2,2105.5 612.9,2105.5 615.7,2105.5 618.5,2105.5 621.3,2105.5 624.1,2105.5 626.9,2105.5 629.7,2105.5 632.5,2105.5 635.3,2105.5 638.1,2105.5 640.9,2105.5 643.7,2105.5 646.5,2105.5 649.3,2105.5 652.1,2105.5 654.9,2105.5 657.7,2105.5 660.5,2105.5 663.3,2105.5 666.1,2105.5 668.9,2105.5 671.7,2105.5 674.5,2105.5 677.3,2105.5 680.1,2105.5 682.9,2105.5 685.7,2105.5 688.5,2105.5 691.3,2105.5 694.1,2105.5 696.9,2105.5 699.7,2105.5 702.5,2105.5 705.3,2105.5 708.1,2105.5 710.9,2105.5 713.7,2105.5 716.5,2105.5 719.3,2105.5 722.1,2105.5 724.9,2105.5 727.7,2105.5 730.5,2105.5 733.3,2105.5 736.1,2105.5 738.9,2105.5 741.7,2105.5 744.5,2105.5 747.3,2105.5 750.1,2105.5 752.9,2105.5 755.7,2105.5 758.5,2105.5 761.3,2105.5 764.1,2105.5 766.9,2105.5 769.7,2105.5 772.5,2105.5 775.3,2105.5 778.1,2105.5 780.9,2105.5 783.7,2105.5 786.5,2105.5 789.3,2105.5 792.1,2105.5 794.9,2105.5 797.7,2105.5 800.5,2105.5 803.3,2105.5 806.1,2105.5 808.9,2105.5 811.7,2105.5 814.5,2105.5 817.3,2105.5 820.1,2105.5 822.9,2105.5 825.7,2105.5 828.5,2105.5 831.3,2105.5 834.1,2105.5 836.9,2105.5 839.7,2105.5 842.5,2105.5 845.3,2105.5 848.1,2105.5 850.9,2105.5 853.7,2105.5 856.5,2105.5 859.3,2105.5 862.1,2105.5 864.9,2105.5 867.7,2105.5 870.5,2105.5 873.3,2105.5 876.1,2105.5 878.9,2105.5 881.7,2105.5 884.5,2105.5 887.3,2105.5 890.1,2105.5 892.9,2105.5 895.7,2105.5 898.5,2105.5 901.3,2105.5 904.1,2105.5 906.9,2105.5 909.7,2105.5 912.5,2105.5 915.3,2105.5 918.1,2105.5 920.9,2105.5 923.7,2105.5 926.5,2105.5 929.3,2105.5 932.1,2105.5 934.9,2105.5 937.7,2105.5 940.5,2105.5 943.3,2105.5 946.1,2105.5 948.8,2105.5 951.6,2105.5 954.4,2105.5 957.2,2105.5 960,2105.5 962.8,2105.5 965.6,2105.5 968.4,2105.5 971.2,2105.5 974,2105.5 976.8,2105.5 979.6,2105.5 982.4,2105.5 985.2,2105.5 988,2105.5 990.8,2105.5 993.6,2105.5 996.4,2105.5 999.2,2105.5 1002,2105.5 1004.8,2105.5 1007.6,2105.5 1010.4,2105.5 1013.2,2105.5 1016,2105.5 1018.8,2105.5 1021.6,2105.6 1024.4,2105.6 1027.2,2105.6 1030,2105.6 1032.8,2105.6 1035.6,2105.6 1038.4,2105.6 1041.2,2105.6 1044,2105.6 1046.8,2105.6 1049.6,2105.6 1052.4,2105.6 1055.2,2105.6 1058,2105.6 1060.8,2105.6 1063.6,2105.6 1066.4,2105.6 1069.2,2105.6 1072,2105.7 1074.8,2105.7 1077.6,2105.7 1080.4,2105.7 1083.2,2105.7 1086,2105.7 1088.8,2105.7 1091.6,2105.7 1094.4,2105.7 1097.2,2105.7 1100,2105.8 1102.8,2105.8 1105.6,2105.8 1108.4,2105.8 1111.2,2105.8 1114,2105.8 1116.8,2105.8 1119.6,2105.9 1122.4,2105.9 1125.2,2105.9 1128,2105.9 1130.8,2105.9 1133.6,2105.9 1136.4,2106 1139.2,2106 1142,2106 1144.8,2106 1147.6,2106.1 1150.4,2106.1 1153.2,2106.1 1156,2106.1 1158.8,2106.2 1161.6,2106.2 1164.4,2106.2 1167.2,2106.3 1170,2106.3 1172.8,2106.3 1175.6,2106.4 1178.4,2106.4 1181.2,2106.5 1184,2106.5 1186.8,2106.6 1189.6,2106.6 1192.4,2106.7 1195.2,2106.7 1198,2106.8 1200.8,2106.8 1203.6,2106.9 1206.4,2106.9 1209.2,2107 1212,2107.1 1214.8,2107.1 1217.6,2107.2 1220.4,2107.3 1223.2,2107.4 1226,2107.4 1228.8,2107.5 1231.6,2107.6 1234.4,2107.7 1237.2,2107.8 1240,2107.9 1242.8,2108 1245.6,2108.1 1248.4,2108.2 1251.2,2108.3 1254,2108.4 1256.8,2108.5 1259.6,2108.7 1262.4,2108.8 1265.2,2108.9 1268,2109 1270.8,2109.2 1273.6,2109.3 1276.4,2109.5 1279.2,2109.6 1282,2109.8 1284.7,2110 1287.5,2110.1 1290.3,2110.3 1293.1,2110.5 1295.9,2110.7 1298.7,2110.9 1301.5,2111.1 1304.3,2111.3 1307.1,2111.5 1309.9,2111.7 1312.7,2111.9 1315.5,2112.1 1318.3,2112.3 1321.1,2112.6 1323.9,2112.8 1326.7,2113.1 1329.5,2113.3 1332.3,2113.6 1335.1,2113.8 1337.9,2114.1 1340.7,2114.3 1343.5,2114.6 1346.3,2114.9 1349.1,2115.2 1351.9,2115.5 1354.7,2115.7 1357.5,2116 1360.3,2116.3 1363.1,2116.6 1365.9,2116.9 1368.7,2117.3 1371.5,2117.6 1374.3,2117.9 1377.1,2118.2 1379.9,2118.5 1382.7,2118.8 1385.5,2119.2 1388.3,2119.5 1391.1,2119.8 1393.9,2120.1 1396.7,2120.5 1399.5,2120.8 1402.3,2121.1 1405.1,2121.5 1407.9,2121.8 1410.7,2122.1 1413.5,2122.5 1416.3,2122.8 1419.1,2123.1 1421.9,2123.5 1424.7,2123.8 1427.5,2124.2 1430.3,2124.5 1433.1,2124.8 1435.9,2125.2 1438.7,2125.5 1441.5,2125.9 1444.3,2126.2 1447.1,2126.5 1449.9,2126.9 1452.7,2127.2 1455.5,2127.5 1458.3,2127.9 1461.1,2128.2 1463.9,2128.6 1466.7,2128.9 1469.5,2129.2 1472.3,2129.6 1475.1,2129.9 1477.9,2130.3 1480.7,2130.6 1483.5,2131 1486.3,2131.3 1489.1,2131.6 1491.9,2132 1494.7,2132.3 1497.5,2132.7 1500.3,2133 1503.1,2133.4 1505.9,2133.8 1508.7,2134.1 1511.5,2134.5 1514.3,2134.8 1517.1,2135.2 1519.9,2135.6 1522.7,2135.9 1525.5,2136.3 1528.3,2136.7 1531.1,2137 1533.9,2137.4 1536.7,2137.8 1539.5,2138.2 1542.3,2138.5 1545.1,2138.9 1547.9,2139.3 1550.7,2139.7 1553.5,2140 1556.3,2140.4 1559.1,2140.8 1561.9,2141.2 1564.7,2141.6 1567.5,2141.9 1570.3,2142.3 1573.1,2142.7 1575.9,2143.1 1578.7,2143.4 1581.5,2143.8 1584.3,2144.2 1587.1,2144.5 1589.9,2144.9 1592.7,2145.3 1595.5,2145.6 1598.3,2146 1601.1,2146.3 1603.9,2146.7 1606.7,2147 1609.5,2147.4 1612.3,2147.7 1615.1,2148 1617.9,2148.4 1620.6,2148.7 1623.4,2149 1626.2,2149.3 1629,2149.6 1631.8,2149.9 1634.6,2150.2 1637.4,2150.5 1640.2,2150.8 1643,2151 1645.8,2151.3 1648.6,2151.6 1651.4,2151.8 1654.2,2152.1 1657,2152.3 1659.8,2152.6 1662.6,2152.8 1665.4,2153 1668.2,2153.3 1671,2153.5 1673.8,2153.7 1676.6,2153.9 1679.4,2154.1 1682.2,2154.3 1685,2154.4 1687.8,2154.6 1690.6,2154.8 1693.4,2155 1696.2,2155.1 1699,2155.3 1701.8,2155.4 1704.6,2155.6 1707.4,2155.7 1710.2,2155.9 1713,2156 1715.8,2156.1 1718.6,2156.2 1721.4,2156.4 1724.2,2156.5 1727,2156.6 1729.8,2156.7 1732.6,2156.8 1735.4,2156.9 1738.2,2157 1741,2157.1 1743.8,2157.2 1746.6,2157.3 1749.4,2157.3 1752.2,2157.4 1755,2157.5 1757.8,2157.6 1760.6,2157.6 1763.4,2157.7 1766.2,2157.8 1769,2157.8 1771.8,2157.9 1774.6,2157.9 1777.4,2158 1780.2,2158.1 1783,2158.1 1785.8,2158.2 1788.6,2158.2 1791.4,2158.2 1794.2,2158.3 1797,2158.3 1799.8,2158.4 1802.6,2158.4 1805.4,2158.4 1808.2,2158.5 1811,2158.5 1813.8,2158.5 1816.6,2158.6 1819.4,2158.6 1822.2,2158.6 1825,2158.7 1827.8,2158.7 1830.6,2158.7 1833.4,2158.7 1836.2,2158.8 1839,2158.8 1841.8,2158.8 1844.6,2158.8 1847.4,2158.8 1850.2,2158.9 1853,2158.9 1855.8,2158.9 1858.6,2158.9 1861.4,2158.9 1864.2,2158.9 1867,2158.9 1869.8,2159 1872.6,2159 1875.4,2159 1878.2,2159 1881,2159 1883.8,2159 1886.6,2159 1889.4,2159 1892.2,2159 1895,2159.1 1897.8,2159.1 1900.6,2159.1 1903.4,2159.1 1906.2,2159.1 1909,2159.1 1911.8,2159.1 1914.6,2159.1 1917.4,2159.1 1920.2,2159.1 1923,2159.1 1925.8,2159.1 1928.6,2159.1 1931.4,2159.1 1934.2,2159.1 1937,2159.2 1939.8,2159.2 1942.6,2159.2 1945.4,2159.2 1948.2,2159.2 1951,2159.2 1953.8,2159.2 1956.5,2159.2 1959.3,2159.2 1962.1,2159.2 1964.9,2159.2 1967.7,2159.2 1970.5,2159.2 1973.3,2159.2 1976.1,2159.2 1978.9,2159.2 1981.7,2159.2 1984.5,2159.2 1987.3,2159.2 1990.1,2159.2 1992.9,2159.2 1995.7,2159.2 1998.5,2159.2 2001.3,2159.2 2004.1,2159.2 2006.9,2159.2 2009.7,2159.2 2012.5,2159.2 2015.3,2159.2 2018.1,2159.2 2020.9,2159.2 2023.7,2159.2 2026.5,2159.2 2029.3,2159.2 2032.1,2159.2 2034.9,2159.2 2037.7,2159.2 2040.5,2159.2 2043.3,2159.2 2046.1,2159.2 2048.9,2159.2 2051.7,2159.2 2054.5,2159.2 2057.3,2159.2 2060.1,2159.2 2062.9,2159.2 2065.7,2159.2 2068.5,2159.2 2071.3,2159.2 2074.1,2159.2 2076.9,2159.2 2079.7,2159.2 2082.5,2159.2 2085.3,2159.2 2088.1,2159.2 2090.9,2159.2 2093.7,2159.2 2096.5,2159.2 2099.3,2159.2 2102.1,2159.2 2104.9,2159.2 2107.7,2159.2 2110.5,2159.2 2113.3,2159.3 2116.1,2159.3 2118.9,2159.3 2121.7,2159.3 2124.5,2159.3"/>
<polyline fill="none" stroke="#808000" stroke-width="3.2" stroke-linejoin="round" points="445,2101.5 447.8,2101.5 450.6,2101.4 453.4,2101.4 456.2,2101.4 459,2101.4 461.8,2101.4 464.6,2101.3 467.4,2101.3 470.2,2101.3 473,2101.3 475.8,2101.3 478.6,2101.2 481.4,2101.2 484.2,2101.2 487,2101.2 489.8,2101.2 492.6,2101.1 495.4,2101.1 498.2,2101.1 501,2101.1 503.8,2101 506.6,2101 509.4,2101 512.2,2101 515,2101 517.8,2100.9 520.6,2100.9 523.4,2100.9 526.2,2100.9 529,2100.8 531.8,2100.8 534.6,2100.8 537.4,2100.8 540.2,2100.7 543,2100.7 545.8,2100.7 548.6,2100.7 551.4,2100.6 554.2,2100.6 557,2100.6 559.8,2100.6 562.6,2100.5 565.4,2100.5 568.2,2100.5 571,2100.5 573.8,2100.4 576.6,2100.4 579.4,2100.4 582.2,2100.3 585,2100.3 587.8,2100.3 590.6,2100.3 593.4,2100.2 596.2,2100.2 599,2100.2 601.8,2100.1 604.6,2100.1 607.4,2100.1 610.2,2100.1 612.9,2100 615.7,2100 618.5,2100 621.3,2099.9 624.1,2099.9 626.9,2099.9 629.7,2099.8 632.5,2099.8 635.3,2099.8 638.1,2099.7 640.9,2099.7 643.7,2099.7 646.5,2099.6 649.3,2099.6 652.1,2099.6 654.9,2099.5 657.7,2099.5 660.5,2099.5 663.3,2099.4 666.1,2099.4 668.9,2099.4 671.7,2099.3 674.5,2099.3 677.3,2099.3 680.1,2099.2 682.9,2099.2 685.7,2099.1 688.5,2099.1 691.3,2099.1 694.1,2099 696.9,2099 699.7,2098.9 702.5,2098.9 705.3,2098.9 708.1,2098.8 710.9,2098.8 713.7,2098.7 716.5,2098.7 719.3,2098.7 722.1,2098.6 724.9,2098.6 727.7,2098.5 730.5,2098.5 733.3,2098.4 736.1,2098.4 738.9,2098.3 741.7,2098.3 744.5,2098.3 747.3,2098.2 750.1,2098.2 752.9,2098.1 755.7,2098.1 758.5,2098 761.3,2098 764.1,2097.9 766.9,2097.9 769.7,2097.8 772.5,2097.8 775.3,2097.7 778.1,2097.7 780.9,2097.6 783.7,2097.6 786.5,2097.5 789.3,2097.4 792.1,2097.4 794.9,2097.3 797.7,2097.3 800.5,2097.2 803.3,2097.2 806.1,2097.1 808.9,2097.1 811.7,2097 814.5,2096.9 817.3,2096.9 820.1,2096.8 822.9,2096.8 825.7,2096.7 828.5,2096.6 831.3,2096.6 834.1,2096.5 836.9,2096.4 839.7,2096.4 842.5,2096.3 845.3,2096.2 848.1,2096.2 850.9,2096.1 853.7,2096 856.5,2096 859.3,2095.9 862.1,2095.8 864.9,2095.8 867.7,2095.7 870.5,2095.6 873.3,2095.5 876.1,2095.5 878.9,2095.4 881.7,2095.3 884.5,2095.2 887.3,2095.1 890.1,2095.1 892.9,2095 895.7,2094.9 898.5,2094.8 901.3,2094.7 904.1,2094.7 906.9,2094.6 909.7,2094.5 912.5,2094.4 915.3,2094.3 918.1,2094.2 920.9,2094.1 923.7,2094 926.5,2093.9 929.3,2093.9 932.1,2093.8 934.9,2093.7 937.7,2093.6 940.5,2093.5 943.3,2093.4 946.1,2093.3 948.8,2093.2 951.6,2093.1 954.4,2093 957.2,2092.9 960,2092.7 962.8,2092.6 965.6,2092.5 968.4,2092.4 971.2,2092.3 974,2092.2 976.8,2092.1 979.6,2092 982.4,2091.8 985.2,2091.7 988,2091.6 990.8,2091.5 993.6,2091.4 996.4,2091.2 999.2,2091.1 1002,2091 1004.8,2090.8 1007.6,2090.7 1010.4,2090.6 1013.2,2090.4 1016,2090.3 1018.8,2090.2 1021.6,2090 1024.4,2089.9 1027.2,2089.7 1030,2089.6 1032.8,2089.4 1035.6,2089.3 1038.4,2089.1 1041.2,2089 1044,2088.8 1046.8,2088.7 1049.6,2088.5 1052.4,2088.3 1055.2,2088.2 1058,2088 1060.8,2087.8 1063.6,2087.7 1066.4,2087.5 1069.2,2087.3 1072,2087.1 1074.8,2086.9 1077.6,2086.8 1080.4,2086.6 1083.2,2086.4 1086,2086.2 1088.8,2086 1091.6,2085.8 1094.4,2085.6 1097.2,2085.4 1100,2085.2 1102.8,2085 1105.6,2084.8 1108.4,2084.5 1111.2,2084.3 1114,2084.1 1116.8,2083.9 1119.6,2083.6 1122.4,2083.4 1125.2,2083.2 1128,2082.9 1130.8,2082.7 1133.6,2082.4 1136.4,2082.2 1139.2,2081.9 1142,2081.7 1144.8,2081.4 1147.6,2081.1 1150.4,2080.9 1153.2,2080.6 1156,2080.3 1158.8,2080 1161.6,2079.8 1164.4,2079.5 1167.2,2079.2 1170,2078.9 1172.8,2078.6 1175.6,2078.2 1178.4,2077.9 1181.2,2077.6 1184,2077.3 1186.8,2077 1189.6,2076.6 1192.4,2076.3 1195.2,2075.9 1198,2075.6 1200.8,2075.2 1203.6,2074.9 1206.4,2074.5 1209.2,2074.1 1212,2073.7 1214.8,2073.3 1217.6,2072.9 1220.4,2072.5 1223.2,2072.1 1226,2071.7 1228.8,2071.3 1231.6,2070.9 1234.4,2070.4 1237.2,2070 1240,2069.5 1242.8,2069.1 1245.6,2068.6 1248.4,2068.1 1251.2,2067.6 1254,2067.1 1256.8,2066.6 1259.6,2066.1 1262.4,2065.6 1265.2,2065 1268,2064.5 1270.8,2063.9 1273.6,2063.3 1276.4,2062.7 1279.2,2062.1 1282,2061.5 1284.7,2060.9 1287.5,2060.3 1290.3,2059.6 1293.1,2058.9 1295.9,2058.2 1298.7,2057.5 1301.5,2056.8 1304.3,2056.1 1307.1,2055.3 1309.9,2054.5 1312.7,2053.7 1315.5,2052.9 1318.3,2052.1 1321.1,2051.2 1323.9,2050.3 1326.7,2049.4 1329.5,2048.4 1332.3,2047.4 1335.1,2046.4 1337.9,2045.4 1340.7,2044.3 1343.5,2043.2 1346.3,2042 1349.1,2040.8 1351.9,2039.6 1354.7,2038.3 1357.5,2036.9 1360.3,2035.6 1363.1,2034.1 1365.9,2032.6 1368.7,2031.1 1371.5,2029.5 1374.3,2027.8 1377.1,2026 1379.9,2024.2 1382.7,2022.3 1385.5,2020.3 1388.3,2018.3 1391.1,2016.1 1393.9,2013.9 1396.7,2011.5 1399.5,2009.1 1402.3,2006.5 1405.1,2003.9 1407.9,2001.1 1410.7,1998.2 1413.5,1995.1 1416.3,1992 1419.1,1988.6 1421.9,1985.2 1424.7,1981.5 1427.5,1977.7 1430.3,1973.8 1433.1,1969.6 1435.9,1965.3 1438.7,1960.8 1441.5,1956 1444.3,1951.1 1447.1,1945.9 1449.9,1940.5 1452.7,1934.9 1455.5,1929.1 1458.3,1922.9 1461.1,1916.6 1463.9,1909.9 1466.7,1903 1469.5,1895.7 1472.3,1888.2 1475.1,1880.4 1477.9,1872.3 1480.7,1863.8 1483.5,1855 1486.3,1845.9 1489.1,1836.5 1491.9,1826.7 1494.7,1816.5 1497.5,1806 1500.3,1795.1 1503.1,1783.8 1505.9,1772.2 1508.7,1760.2 1511.5,1747.9 1514.3,1735.2 1517.1,1722.1 1519.9,1708.6 1522.7,1694.9 1525.5,1680.8 1528.3,1666.3 1531.1,1651.6 1533.9,1636.7 1536.7,1621.4 1539.5,1606 1542.3,1590.4 1545.1,1574.7 1547.9,1558.9 1550.7,1543 1553.5,1527.3 1556.3,1511.6 1559.1,1496.1 1561.9,1480.8 1564.7,1466 1567.5,1451.5 1570.3,1437.6 1573.1,1424.3 1575.9,1411.8 1578.7,1400.1 1581.5,1389.4 1584.3,1379.6 1587.1,1371.1 1589.9,1363.7 1592.7,1357.6 1595.5,1352.9 1598.3,1349.6 1601.1,1347.7 1603.9,1347.3 1606.7,1348.4 1609.5,1351 1612.3,1355 1615.1,1360.4 1617.9,1367.1 1620.6,1375.2 1623.4,1384.5 1626.2,1394.9 1629,1406.3 1631.8,1418.7 1634.6,1431.9 1637.4,1445.8 1640.2,1460.4 1643,1475.4 1645.8,1491 1648.6,1506.9 1651.4,1523 1654.2,1539.3 1657,1555.7 1659.8,1572.2 1662.6,1588.6 1665.4,1604.9 1668.2,1621.1 1671,1637.1 1673.8,1652.9 1676.6,1668.5 1679.4,1683.8 1682.2,1698.7 1685,1713.4 1687.8,1727.7 1690.6,1741.7 1693.4,1755.3 1696.2,1768.5 1699,1781.4 1701.8,1793.9 1704.6,1806 1707.4,1817.8 1710.2,1829.1 1713,1840.1 1715.8,1850.8 1718.6,1861.1 1721.4,1871 1724.2,1880.6 1727,1889.8 1729.8,1898.7 1732.6,1907.3 1735.4,1915.6 1738.2,1923.5 1741,1931.2 1743.8,1938.5 1746.6,1945.6 1749.4,1952.4 1752.2,1958.9 1755,1965.2 1757.8,1971.2 1760.6,1977 1763.4,1982.6 1766.2,1988 1769,1993.1 1771.8,1998 1774.6,2002.7 1777.4,2007.3 1780.2,2011.6 1783,2015.8 1785.8,2019.8 1788.6,2023.7 1791.4,2027.4 1794.2,2031 1797,2034.4 1799.8,2037.7 1802.6,2040.8 1805.4,2043.9 1808.2,2046.8 1811,2049.6 1813.8,2052.3 1816.6,2054.9 1819.4,2057.4 1822.2,2059.8 1825,2062.1 1827.8,2064.4 1830.6,2066.5 1833.4,2068.6 1836.2,2070.7 1839,2072.6 1841.8,2074.5 1844.6,2076.3 1847.4,2078.1 1850.2,2079.8 1853,2081.4 1855.8,2083 1858.6,2084.5 1861.4,2086 1864.2,2087.5 1867,2088.9 1869.8,2090.3 1872.6,2091.6 1875.4,2092.9 1878.2,2094.1 1881,2095.3 1883.8,2096.5 1886.6,2097.6 1889.4,2098.8 1892.2,2099.8 1895,2100.9 1897.8,2101.9 1900.6,2102.9 1903.4,2103.9 1906.2,2104.8 1909,2105.8 1911.8,2106.7 1914.6,2107.6 1917.4,2108.4 1920.2,2109.2 1923,2110.1 1925.8,2110.9 1928.6,2111.6 1931.4,2112.4 1934.2,2113.1 1937,2113.9 1939.8,2114.6 1942.6,2115.3 1945.4,2115.9 1948.2,2116.6 1951,2117.2 1953.8,2117.9 1956.5,2118.5 1959.3,2119.1 1962.1,2119.7 1964.9,2120.3 1967.7,2120.8 1970.5,2121.4 1973.3,2121.9 1976.1,2122.5 1978.9,2123 1981.7,2123.5 1984.5,2124 1987.3,2124.5 1990.1,2124.9 1992.9,2125.4 1995.7,2125.9 1998.5,2126.3 2001.3,2126.8 2004.1,2127.2 2006.9,2127.6 2009.7,2128 2012.5,2128.4 2015.3,2128.8 2018.1,2129.2 2020.9,2129.6 2023.7,2130 2026.5,2130.4 2029.3,2130.7 2032.1,2131.1 2034.9,2131.4 2037.7,2131.8 2040.5,2132.1 2043.3,2132.5 2046.1,2132.8 2048.9,2133.1 2051.7,2133.4 2054.5,2133.7 2057.3,2134 2060.1,2134.3 2062.9,2134.6 2065.7,2134.9 2068.5,2135.2 2071.3,2135.5 2074.1,2135.7 2076.9,2136 2079.7,2136.3 2082.5,2136.5 2085.3,2136.8 2088.1,2137 2090.9,2137.3 2093.7,2137.5 2096.5,2137.8 2099.3,2138 2102.1,2138.2 2104.9,2138.5 2107.7,2138.7 2110.5,2138.9 2113.3,2139.1 2116.1,2139.3 2118.9,2139.5 2121.7,2139.7 2124.5,2139.9"/>
<g fill="#fff" stroke="#808000" stroke-width="3" stroke-linejoin="miter"><path d="M425.5 2112.7L445 2079.2L464.5 2112.7Z"/><path d="M439.5 2112.6L459 2079.1L478.5 2112.6Z"/><path d="M453.5 2112.5L473 2079L492.5 2112.5Z"/><path d="M467.5 2112.4L487 2078.9L506.5 2112.4Z"/><path d="M481.5 2112.3L501 2078.8L520.5 2112.3Z"/><path d="M495.5 2112.2L515 2078.7L534.5 2112.2Z"/><path d="M509.5 2112L529 2078.5L548.5 2112Z"/><path d="M523.5 2111.9L543 2078.4L562.5 2111.9Z"/><path d="M537.5 2111.8L557 2078.3L576.5 2111.8Z"/><path d="M551.5 2111.7L571 2078.2L590.5 2111.7Z"/><path d="M565.5 2111.5L585 2078L604.5 2111.5Z"/><path d="M579.5 2111.4L599 2077.9L618.5 2111.4Z"/><path d="M593.5 2111.2L613 2077.7L632.5 2111.2Z"/><path d="M607.4 2111.1L626.9 2077.6L646.4 2111.1Z"/><path d="M621.4 2110.9L640.9 2077.4L660.4 2110.9Z"/><path d="M635.4 2110.7L654.9 2077.2L674.4 2110.7Z"/><path d="M649.4 2110.6L668.9 2077.1L688.4 2110.6Z"/><path d="M663.4 2110.4L682.9 2076.9L702.4 2110.4Z"/><path d="M677.4 2110.2L696.9 2076.7L716.4 2110.2Z"/><path d="M691.4 2110L710.9 2076.5L730.4 2110Z"/><path d="M705.4 2109.8L724.9 2076.3L744.4 2109.8Z"/><path d="M719.4 2109.5L738.9 2076L758.4 2109.5Z"/><path d="M733.4 2109.3L752.9 2075.8L772.4 2109.3Z"/><path d="M747.4 2109.1L766.9 2075.6L786.4 2109.1Z"/><path d="M761.4 2108.8L780.9 2075.3L800.4 2108.8Z"/><path d="M775.4 2108.5L794.9 2075L814.4 2108.5Z"/><path d="M789.4 2108.3L808.9 2074.8L828.4 2108.3Z"/><path d="M803.4 2108L822.9 2074.5L842.4 2108Z"/><path d="M817.4 2107.6L836.9 2074.1L856.4 2107.6Z"/><path d="M831.4 2107.3L850.9 2073.8L870.4 2107.3Z"/><path d="M845.4 2107L864.9 2073.5L884.4 2107Z"/><path d="M859.4 2106.6L878.9 2073.1L898.4 2106.6Z"/><path d="M873.4 2106.2L892.9 2072.7L912.4 2106.2Z"/><path d="M887.4 2105.8L906.9 2072.3L926.4 2105.8Z"/><path d="M901.4 2105.3L920.9 2071.8L940.4 2105.3Z"/><path d="M915.4 2104.9L934.9 2071.4L954.4 2104.9Z"/><path d="M929.4 2104.4L948.9 2070.9L968.4 2104.4Z"/><path d="M943.3 2103.8L962.8 2070.3L982.3 2103.8Z"/><path d="M957.3 2103.3L976.8 2069.8L996.3 2103.3Z"/><path d="M971.3 2102.7L990.8 2069.2L1010.3 2102.7Z"/><path d="M985.3 2102L1004.8 2068.5L1024.3 2102Z"/><path d="M999.3 2101.4L1018.8 2067.9L1038.3 2101.4Z"/><path d="M1013.3 2100.6L1032.8 2067.1L1052.3 2100.6Z"/><path d="M1027.3 2099.9L1046.8 2066.4L1066.3 2099.9Z"/><path d="M1041.3 2099L1060.8 2065.5L1080.3 2099Z"/><path d="M1055.3 2098.1L1074.8 2064.6L1094.3 2098.1Z"/><path d="M1069.3 2097.2L1088.8 2063.7L1108.3 2097.2Z"/><path d="M1083.3 2096.2L1102.8 2062.7L1122.3 2096.2Z"/><path d="M1097.3 2095.1L1116.8 2061.6L1136.3 2095.1Z"/><path d="M1111.3 2093.9L1130.8 2060.4L1150.3 2093.9Z"/><path d="M1125.3 2092.6L1144.8 2059.1L1164.3 2092.6Z"/><path d="M1139.3 2091.2L1158.8 2057.7L1178.3 2091.2Z"/><path d="M1153.3 2089.8L1172.8 2056.3L1192.3 2089.8Z"/><path d="M1167.3 2088.2L1186.8 2054.7L1206.3 2088.2Z"/><path d="M1181.3 2086.4L1200.8 2052.9L1220.3 2086.4Z"/><path d="M1195.3 2084.5L1214.8 2051L1234.3 2084.5Z"/><path d="M1209.3 2082.5L1228.8 2049L1248.3 2082.5Z"/><path d="M1223.3 2080.3L1242.8 2046.8L1262.3 2080.3Z"/><path d="M1237.3 2077.8L1256.8 2044.3L1276.3 2077.8Z"/><path d="M1251.3 2075.1L1270.8 2041.6L1290.3 2075.1Z"/><path d="M1265.3 2072.1L1284.8 2038.6L1304.3 2072.1Z"/><path d="M1279.2 2068.7L1298.7 2035.2L1318.2 2068.7Z"/><path d="M1293.2 2064.9L1312.7 2031.4L1332.2 2064.9Z"/><path d="M1307.2 2060.6L1326.7 2027.1L1346.2 2060.6Z"/><path d="M1321.2 2055.5L1340.7 2022L1360.2 2055.5Z"/><path d="M1335.2 2049.5L1354.7 2016L1374.2 2049.5Z"/><path d="M1349.2 2042.3L1368.7 2008.8L1388.2 2042.3Z"/><path d="M1363.2 2033.5L1382.7 2000L1402.2 2033.5Z"/><path d="M1377.2 2022.7L1396.7 1989.2L1416.2 2022.7Z"/><path d="M1391.2 2009.4L1410.7 1975.9L1430.2 2009.4Z"/><path d="M1405.2 1992.7L1424.7 1959.2L1444.2 1992.7Z"/><path d="M1419.2 1972L1438.7 1938.5L1458.2 1972Z"/><path d="M1433.2 1946.1L1452.7 1912.6L1472.2 1946.1Z"/><path d="M1447.2 1914.2L1466.7 1880.7L1486.2 1914.2Z"/><path d="M1461.2 1875L1480.7 1841.5L1500.2 1875Z"/><path d="M1475.2 1827.7L1494.7 1794.2L1514.2 1827.7Z"/><path d="M1489.2 1771.4L1508.7 1737.9L1528.2 1771.4Z"/><path d="M1503.2 1706.1L1522.7 1672.6L1542.2 1706.1Z"/><path d="M1517.2 1632.6L1536.7 1599.1L1556.2 1632.6Z"/><path d="M1531.2 1554.2L1550.7 1520.7L1570.2 1554.2Z"/><path d="M1545.2 1477.2L1564.7 1443.7L1584.2 1477.2Z"/><path d="M1559.2 1411.3L1578.7 1377.8L1598.2 1411.3Z"/><path d="M1573.2 1368.8L1592.7 1335.3L1612.2 1368.8Z"/><path d="M1587.2 1359.6L1606.7 1326.1L1626.2 1359.6Z"/><path d="M1601.2 1386.4L1620.7 1352.9L1640.2 1386.4Z"/><path d="M1615.1 1443.1L1634.6 1409.6L1654.1 1443.1Z"/><path d="M1629.1 1518.1L1648.6 1484.6L1668.1 1518.1Z"/><path d="M1643.1 1599.8L1662.6 1566.3L1682.1 1599.8Z"/><path d="M1657.1 1679.7L1676.6 1646.2L1696.1 1679.7Z"/><path d="M1671.1 1752.9L1690.6 1719.4L1710.1 1752.9Z"/><path d="M1685.1 1817.2L1704.6 1783.7L1724.1 1817.2Z"/><path d="M1699.1 1872.3L1718.6 1838.8L1738.1 1872.3Z"/><path d="M1713.1 1918.5L1732.6 1885L1752.1 1918.5Z"/><path d="M1727.1 1956.8L1746.6 1923.3L1766.1 1956.8Z"/><path d="M1741.1 1988.2L1760.6 1954.7L1780.1 1988.2Z"/><path d="M1755.1 2013.9L1774.6 1980.4L1794.1 2013.9Z"/><path d="M1769.1 2034.9L1788.6 2001.4L1808.1 2034.9Z"/><path d="M1783.1 2052L1802.6 2018.5L1822.1 2052Z"/><path d="M1797.1 2066.1L1816.6 2032.6L1836.1 2066.1Z"/><path d="M1811.1 2077.7L1830.6 2044.2L1850.1 2077.7Z"/><path d="M1825.1 2087.5L1844.6 2054L1864.1 2087.5Z"/><path d="M1839.1 2095.7L1858.6 2062.2L1878.1 2095.7Z"/><path d="M1853.1 2102.8L1872.6 2069.3L1892.1 2102.8Z"/><path d="M1867.1 2108.8L1886.6 2075.3L1906.1 2108.8Z"/><path d="M1881.1 2114.1L1900.6 2080.6L1920.1 2114.1Z"/><path d="M1895.1 2118.8L1914.6 2085.3L1934.1 2118.8Z"/><path d="M1909.1 2122.8L1928.6 2089.3L1948.1 2122.8Z"/><path d="M1923.1 2126.5L1942.6 2093L1962.1 2126.5Z"/><path d="M1937.1 2129.7L1956.6 2096.2L1976.1 2129.7Z"/><path d="M1951 2132.6L1970.5 2099.1L1990 2132.6Z"/><path d="M1965 2135.2L1984.5 2101.7L2004 2135.2Z"/><path d="M1979 2137.5L1998.5 2104L2018 2137.5Z"/><path d="M1993 2139.6L2012.5 2106.1L2032 2139.6Z"/><path d="M2007 2141.6L2026.5 2108.1L2046 2141.6Z"/><path d="M2021 2143.3L2040.5 2109.8L2060 2143.3Z"/><path d="M2035 2144.9L2054.5 2111.4L2074 2144.9Z"/><path d="M2049 2146.4L2068.5 2112.9L2088 2146.4Z"/><path d="M2063 2147.7L2082.5 2114.2L2102 2147.7Z"/><path d="M2077 2149L2096.5 2115.5L2116 2149Z"/><path d="M2091 2150.1L2110.5 2116.6L2130 2150.1Z"/><path d="M2105 2151.1L2124.5 2117.6L2144 2151.1Z"/></g>
<polyline fill="none" stroke="#800000" stroke-width="6.6" stroke-dasharray="9 17" points="445,2105.4 447.8,2105.4 450.6,2105.4 453.4,2105.4 456.2,2105.4 459,2105.4 461.8,2105.4 464.6,2105.4 467.4,2105.4 470.2,2105.4 473,2105.4 475.8,2105.4 478.6,2105.4 481.4,2105.4 484.2,2105.4 487,2105.4 489.8,2105.4 492.6,2105.4 495.4,2105.4 498.2,2105.4 501,2105.4 503.8,2105.4 506.6,2105.4 509.4,2105.4 512.2,2105.4 515,2105.4 517.8,2105.4 520.6,2105.4 523.4,2105.4 526.2,2105.4 529,2105.4 531.8,2105.4 534.6,2105.4 537.4,2105.4 540.2,2105.4 543,2105.4 545.8,2105.4 548.6,2105.4 551.4,2105.4 554.2,2105.4 557,2105.4 559.8,2105.4 562.6,2105.4 565.4,2105.4 568.2,2105.4 571,2105.4 573.8,2105.4 576.6,2105.4 579.4,2105.4 582.2,2105.4 585,2105.4 587.8,2105.4 590.6,2105.4 593.4,2105.4 596.2,2105.4 599,2105.4 601.8,2105.4 604.6,2105.4 607.4,2105.4 610.2,2105.4 612.9,2105.4 615.7,2105.4 618.5,2105.4 621.3,2105.4 624.1,2105.4 626.9,2105.4 629.7,2105.4 632.5,2105.4 635.3,2105.4 638.1,2105.4 640.9,2105.4 643.7,2105.4 646.5,2105.4 649.3,2105.4 652.1,2105.4 654.9,2105.4 657.7,2105.4 660.5,2105.4 663.3,2105.4 666.1,2105.4 668.9,2105.4 671.7,2105.4 674.5,2105.4 677.3,2105.4 680.1,2105.4 682.9,2105.4 685.7,2105.4 688.5,2105.4 691.3,2105.4 694.1,2105.4 696.9,2105.4 699.7,2105.4 702.5,2105.4 705.3,2105.4 708.1,2105.4 710.9,2105.4 713.7,2105.4 716.5,2105.3 719.3,2105.3 722.1,2105.3 724.9,2105.3 727.7,2105.3 730.5,2105.3 733.3,2105.3 736.1,2105.3 738.9,2105.3 741.7,2105.3 744.5,2105.3 747.3,2105.3 750.1,2105.3 752.9,2105.3 755.7,2105.3 758.5,2105.3 761.3,2105.3 764.1,2105.3 766.9,2105.3 769.7,2105.3 772.5,2105.3 775.3,2105.3 778.1,2105.3 780.9,2105.3 783.7,2105.3 786.5,2105.3 789.3,2105.3 792.1,2105.3 794.9,2105.3 797.7,2105.3 800.5,2105.3 803.3,2105.3 806.1,2105.3 808.9,2105.3 811.7,2105.3 814.5,2105.3 817.3,2105.3 820.1,2105.3 822.9,2105.3 825.7,2105.3 828.5,2105.2 831.3,2105.2 834.1,2105.2 836.9,2105.2 839.7,2105.2 842.5,2105.2 845.3,2105.2 848.1,2105.2 850.9,2105.2 853.7,2105.2 856.5,2105.2 859.3,2105.2 862.1,2105.2 864.9,2105.2 867.7,2105.2 870.5,2105.2 873.3,2105.2 876.1,2105.2 878.9,2105.2 881.7,2105.1 884.5,2105.1 887.3,2105.1 890.1,2105.1 892.9,2105.1 895.7,2105.1 898.5,2105.1 901.3,2105.1 904.1,2105.1 906.9,2105.1 909.7,2105.1 912.5,2105 915.3,2105 918.1,2105 920.9,2105 923.7,2105 926.5,2105 929.3,2105 932.1,2105 934.9,2104.9 937.7,2104.9 940.5,2104.9 943.3,2104.9 946.1,2104.9 948.8,2104.8 951.6,2104.8 954.4,2104.8 957.2,2104.8 960,2104.7 962.8,2104.7 965.6,2104.7 968.4,2104.6 971.2,2104.6 974,2104.6 976.8,2104.5 979.6,2104.5 982.4,2104.4 985.2,2104.3 988,2104.3 990.8,2104.2 993.6,2104.1 996.4,2104.1 999.2,2104 1002,2103.9 1004.8,2103.8 1007.6,2103.7 1010.4,2103.6 1013.2,2103.4 1016,2103.3 1018.8,2103.2 1021.6,2103 1024.4,2102.9 1027.2,2102.7 1030,2102.5 1032.8,2102.3 1035.6,2102.1 1038.4,2101.9 1041.2,2101.7 1044,2101.5 1046.8,2101.3 1049.6,2101 1052.4,2100.8 1055.2,2100.5 1058,2100.2 1060.8,2100 1063.6,2099.7 1066.4,2099.4 1069.2,2099.1 1072,2098.9 1074.8,2098.6 1077.6,2098.3 1080.4,2098 1083.2,2097.7 1086,2097.5 1088.8,2097.2 1091.6,2097 1094.4,2096.8 1097.2,2096.6 1100,2096.4 1102.8,2096.2 1105.6,2096.1 1108.4,2096 1111.2,2095.9 1114,2095.9 1116.8,2095.9 1119.6,2095.9 1122.4,2096 1125.2,2096.1 1128,2096.2 1130.8,2096.4 1133.6,2096.6 1136.4,2096.8 1139.2,2097 1142,2097.3 1144.8,2097.6 1147.6,2097.9 1150.4,2098.2 1153.2,2098.5 1156,2098.8 1158.8,2099.1 1161.6,2099.4 1164.4,2099.7 1167.2,2100.1 1170,2100.4 1172.8,2100.7 1175.6,2101 1178.4,2101.3 1181.2,2101.6 1184,2101.9 1186.8,2102.2 1189.6,2102.5 1192.4,2102.8 1195.2,2103.1 1198,2103.3 1200.8,2103.6 1203.6,2103.8 1206.4,2104.1 1209.2,2104.3 1212,2104.5 1214.8,2104.8 1217.6,2105 1220.4,2105.2 1223.2,2105.4 1226,2105.6 1228.8,2105.8 1231.6,2106 1234.4,2106.1 1237.2,2106.3 1240,2106.5 1242.8,2106.7 1245.6,2106.8 1248.4,2107 1251.2,2107.2 1254,2107.4 1256.8,2107.5 1259.6,2107.7 1262.4,2107.9 1265.2,2108 1268,2108.2 1270.8,2108.4 1273.6,2108.6 1276.4,2108.8 1279.2,2108.9 1282,2109.1 1284.7,2109.3 1287.5,2109.5 1290.3,2109.7 1293.1,2109.9 1295.9,2110.1 1298.7,2110.3 1301.5,2110.5 1304.3,2110.7 1307.1,2111 1309.9,2111.2 1312.7,2111.4 1315.5,2111.7 1318.3,2111.9 1321.1,2112.1 1323.9,2112.4 1326.7,2112.6 1329.5,2112.9 1332.3,2113.2 1335.1,2113.4 1337.9,2113.7 1340.7,2114 1343.5,2114.3 1346.3,2114.5 1349.1,2114.8 1351.9,2115.1 1354.7,2115.4 1357.5,2115.7 1360.3,2116 1363.1,2116.3 1365.9,2116.6 1368.7,2117 1371.5,2117.3 1374.3,2117.6 1377.1,2117.9 1379.9,2118.2 1382.7,2118.6 1385.5,2118.9 1388.3,2119.2 1391.1,2119.6 1393.9,2119.9 1396.7,2120.2 1399.5,2120.6 1402.3,2120.9 1405.1,2121.2 1407.9,2121.6 1410.7,2121.9 1413.5,2122.3 1416.3,2122.6 1419.1,2122.9 1421.9,2123.3 1424.7,2123.6 1427.5,2124 1430.3,2124.3 1433.1,2124.6 1435.9,2125 1438.7,2125.3 1441.5,2125.7 1444.3,2126 1447.1,2126.4 1449.9,2126.7 1452.7,2127 1455.5,2127.4 1458.3,2127.7 1461.1,2128.1 1463.9,2128.4 1466.7,2128.7 1469.5,2129.1 1472.3,2129.4 1475.1,2129.8 1477.9,2130.1 1480.7,2130.5 1483.5,2130.8 1486.3,2131.2 1489.1,2131.5 1491.9,2131.9 1494.7,2132.2 1497.5,2132.6 1500.3,2132.9 1503.1,2133.3 1505.9,2133.6 1508.7,2134 1511.5,2134.4 1514.3,2134.7 1517.1,2135.1 1519.9,2135.4 1522.7,2135.8 1525.5,2136.2 1528.3,2136.5 1531.1,2136.9 1533.9,2137.3 1536.7,2137.7 1539.5,2138 1542.3,2138.4 1545.1,2138.8 1547.9,2139.2 1550.7,2139.6 1553.5,2139.9 1556.3,2140.3 1559.1,2140.7 1561.9,2141.1 1564.7,2141.5 1567.5,2141.8 1570.3,2142.2 1573.1,2142.6 1575.9,2143 1578.7,2143.3 1581.5,2143.7 1584.3,2144.1 1587.1,2144.5 1589.9,2144.8 1592.7,2145.2 1595.5,2145.5 1598.3,2145.9 1601.1,2146.3 1603.9,2146.6 1606.7,2146.9 1609.5,2147.3 1612.3,2147.6 1615.1,2148 1617.9,2148.3 1620.6,2148.6 1623.4,2148.9 1626.2,2149.2 1629,2149.5 1631.8,2149.8 1634.6,2150.1 1637.4,2150.4 1640.2,2150.7 1643,2151 1645.8,2151.2 1648.6,2151.5 1651.4,2151.8 1654.2,2152 1657,2152.3 1659.8,2152.5 1662.6,2152.7 1665.4,2153 1668.2,2153.2 1671,2153.4 1673.8,2153.6 1676.6,2153.8 1679.4,2154 1682.2,2154.2 1685,2154.4 1687.8,2154.6 1690.6,2154.7 1693.4,2154.9 1696.2,2155.1 1699,2155.2 1701.8,2155.4 1704.6,2155.5 1707.4,2155.7 1710.2,2155.8 1713,2155.9 1715.8,2156.1 1718.6,2156.2 1721.4,2156.3 1724.2,2156.4 1727,2156.5 1729.8,2156.6 1732.6,2156.7 1735.4,2156.8 1738.2,2156.9 1741,2157 1743.8,2157.1 1746.6,2157.2 1749.4,2157.3 1752.2,2157.4 1755,2157.4 1757.8,2157.5 1760.6,2157.6 1763.4,2157.7 1766.2,2157.7 1769,2157.8 1771.8,2157.8 1774.6,2157.9 1777.4,2158 1780.2,2158 1783,2158.1 1785.8,2158.1 1788.6,2158.2 1791.4,2158.2 1794.2,2158.2 1797,2158.3 1799.8,2158.3 1802.6,2158.4 1805.4,2158.4 1808.2,2158.4 1811,2158.5 1813.8,2158.5 1816.6,2158.5 1819.4,2158.6 1822.2,2158.6 1825,2158.6 1827.8,2158.6 1830.6,2158.7 1833.4,2158.7 1836.2,2158.7 1839,2158.7 1841.8,2158.8 1844.6,2158.8 1847.4,2158.8 1850.2,2158.8 1853,2158.8 1855.8,2158.8 1858.6,2158.9 1861.4,2158.9 1864.2,2158.9 1867,2158.9 1869.8,2158.9 1872.6,2158.9 1875.4,2158.9 1878.2,2159 1881,2159 1883.8,2159 1886.6,2159 1889.4,2159 1892.2,2159 1895,2159 1897.8,2159 1900.6,2159 1903.4,2159 1906.2,2159.1 1909,2159.1 1911.8,2159.1 1914.6,2159.1 1917.4,2159.1 1920.2,2159.1 1923,2159.1 1925.8,2159.1 1928.6,2159.1 1931.4,2159.1 1934.2,2159.1 1937,2159.1 1939.8,2159.1 1942.6,2159.1 1945.4,2159.1 1948.2,2159.1 1951,2159.1 1953.8,2159.1 1956.5,2159.2 1959.3,2159.2 1962.1,2159.2 1964.9,2159.2 1967.7,2159.2 1970.5,2159.2 1973.3,2159.2 1976.1,2159.2 1978.9,2159.2 1981.7,2159.2 1984.5,2159.2 1987.3,2159.2 1990.1,2159.2 1992.9,2159.2 1995.7,2159.2 1998.5,2159.2 2001.3,2159.2 2004.1,2159.2 2006.9,2159.2 2009.7,2159.2 2012.5,2159.2 2015.3,2159.2 2018.1,2159.2 2020.9,2159.2 2023.7,2159.2 2026.5,2159.2 2029.3,2159.2 2032.1,2159.2 2034.9,2159.2 2037.7,2159.2 2040.5,2159.2 2043.3,2159.2 2046.1,2159.2 2048.9,2159.2 2051.7,2159.2 2054.5,2159.2 2057.3,2159.2 2060.1,2159.2 2062.9,2159.2 2065.7,2159.2 2068.5,2159.2 2071.3,2159.2 2074.1,2159.2 2076.9,2159.2 2079.7,2159.2 2082.5,2159.2 2085.3,2159.2 2088.1,2159.2 2090.9,2159.2 2093.7,2159.2 2096.5,2159.2 2099.3,2159.2 2102.1,2159.2 2104.9,2159.2 2107.7,2159.2 2110.5,2159.2 2113.3,2159.2 2116.1,2159.2 2118.9,2159.2 2121.7,2159.2 2124.5,2159.2"/>
<polyline fill="none" stroke="#008000" stroke-width="8.8" stroke-dasharray="39 29 1.8 29" stroke-dashoffset="96" points="445,2101.4 447.8,2101.4 450.6,2101.3 453.4,2101.3 456.2,2101.3 459,2101.3 461.8,2101.2 464.6,2101.2 467.4,2101.2 470.2,2101.2 473,2101.1 475.8,2101.1 478.6,2101.1 481.4,2101 484.2,2101 487,2101 489.8,2101 492.6,2100.9 495.4,2100.9 498.2,2100.9 501,2100.9 503.8,2100.8 506.6,2100.8 509.4,2100.8 512.2,2100.7 515,2100.7 517.8,2100.7 520.6,2100.6 523.4,2100.6 526.2,2100.6 529,2100.6 531.8,2100.5 534.6,2100.5 537.4,2100.5 540.2,2100.4 543,2100.4 545.8,2100.4 548.6,2100.3 551.4,2100.3 554.2,2100.3 557,2100.2 559.8,2100.2 562.6,2100.1 565.4,2100.1 568.2,2100.1 571,2100 573.8,2100 576.6,2100 579.4,2099.9 582.2,2099.9 585,2099.8 587.8,2099.8 590.6,2099.8 593.4,2099.7 596.2,2099.7 599,2099.7 601.8,2099.6 604.6,2099.6 607.4,2099.5 610.2,2099.5 612.9,2099.4 615.7,2099.4 618.5,2099.4 621.3,2099.3 624.1,2099.3 626.9,2099.2 629.7,2099.2 632.5,2099.1 635.3,2099.1 638.1,2099 640.9,2099 643.7,2098.9 646.5,2098.9 649.3,2098.8 652.1,2098.8 654.9,2098.7 657.7,2098.7 660.5,2098.6 663.3,2098.6 666.1,2098.5 668.9,2098.5 671.7,2098.4 674.5,2098.4 677.3,2098.3 680.1,2098.3 682.9,2098.2 685.7,2098.1 688.5,2098.1 691.3,2098 694.1,2098 696.9,2097.9 699.7,2097.8 702.5,2097.8 705.3,2097.7 708.1,2097.7 710.9,2097.6 713.7,2097.5 716.5,2097.5 719.3,2097.4 722.1,2097.3 724.9,2097.3 727.7,2097.2 730.5,2097.1 733.3,2097.1 736.1,2097 738.9,2096.9 741.7,2096.8 744.5,2096.8 747.3,2096.7 750.1,2096.6 752.9,2096.5 755.7,2096.5 758.5,2096.4 761.3,2096.3 764.1,2096.2 766.9,2096.1 769.7,2096.1 772.5,2096 775.3,2095.9 778.1,2095.8 780.9,2095.7 783.7,2095.6 786.5,2095.5 789.3,2095.5 792.1,2095.4 794.9,2095.3 797.7,2095.2 800.5,2095.1 803.3,2095 806.1,2094.9 808.9,2094.8 811.7,2094.7 814.5,2094.6 817.3,2094.5 820.1,2094.4 822.9,2094.3 825.7,2094.1 828.5,2094 831.3,2093.9 834.1,2093.8 836.9,2093.7 839.7,2093.6 842.5,2093.5 845.3,2093.3 848.1,2093.2 850.9,2093.1 853.7,2093 856.5,2092.8 859.3,2092.7 862.1,2092.6 864.9,2092.4 867.7,2092.3 870.5,2092.2 873.3,2092 876.1,2091.9 878.9,2091.7 881.7,2091.6 884.5,2091.4 887.3,2091.3 890.1,2091.1 892.9,2091 895.7,2090.8 898.5,2090.6 901.3,2090.5 904.1,2090.3 906.9,2090.1 909.7,2090 912.5,2089.8 915.3,2089.6 918.1,2089.4 920.9,2089.2 923.7,2089.1 926.5,2088.9 929.3,2088.7 932.1,2088.5 934.9,2088.3 937.7,2088.1 940.5,2087.8 943.3,2087.6 946.1,2087.4 948.8,2087.2 951.6,2087 954.4,2086.7 957.2,2086.5 960,2086.3 962.8,2086 965.6,2085.8 968.4,2085.5 971.2,2085.3 974,2085 976.8,2084.7 979.6,2084.5 982.4,2084.2 985.2,2083.9 988,2083.6 990.8,2083.3 993.6,2083 996.4,2082.7 999.2,2082.4 1002,2082.1 1004.8,2081.8 1007.6,2081.4 1010.4,2081.1 1013.2,2080.8 1016,2080.4 1018.8,2080 1021.6,2079.7 1024.4,2079.3 1027.2,2078.9 1030,2078.5 1032.8,2078.1 1035.6,2077.7 1038.4,2077.3 1041.2,2076.9 1044,2076.4 1046.8,2076 1049.6,2075.5 1052.4,2075.1 1055.2,2074.6 1058,2074.1 1060.8,2073.6 1063.6,2073.1 1066.4,2072.6 1069.2,2072 1072,2071.5 1074.8,2070.9 1077.6,2070.3 1080.4,2069.7 1083.2,2069.1 1086,2068.5 1088.8,2067.9 1091.6,2067.2 1094.4,2066.5 1097.2,2065.8 1100,2065.1 1102.8,2064.4 1105.6,2063.6 1108.4,2062.9 1111.2,2062.1 1114,2061.2 1116.8,2060.4 1119.6,2059.5 1122.4,2058.6 1125.2,2057.7 1128,2056.7 1130.8,2055.7 1133.6,2054.7 1136.4,2053.6 1139.2,2052.5 1142,2051.4 1144.8,2050.2 1147.6,2048.9 1150.4,2047.7 1153.2,2046.4 1156,2045 1158.8,2043.6 1161.6,2042.1 1164.4,2040.5 1167.2,2038.9 1170,2037.2 1172.8,2035.5 1175.6,2033.7 1178.4,2031.8 1181.2,2029.8 1184,2027.7 1186.8,2025.6 1189.6,2023.3 1192.4,2021 1195.2,2018.5 1198,2016 1200.8,2013.3 1203.6,2010.5 1206.4,2007.5 1209.2,2004.4 1212,2001.2 1214.8,1997.8 1217.6,1994.3 1220.4,1990.6 1223.2,1986.8 1226,1982.8 1228.8,1978.6 1231.6,1974.2 1234.4,1969.6 1237.2,1964.8 1240,1959.8 1242.8,1954.6 1245.6,1949.1 1248.4,1943.4 1251.2,1937.5 1254,1931.4 1256.8,1925 1259.6,1918.3 1262.4,1911.4 1265.2,1904.2 1268,1896.7 1270.8,1889 1273.6,1881 1276.4,1872.7 1279.2,1864.1 1282,1855.2 1284.7,1846.1 1287.5,1836.6 1290.3,1826.9 1293.1,1816.9 1295.9,1806.6 1298.7,1796 1301.5,1785.2 1304.3,1774.1 1307.1,1762.8 1309.9,1751.2 1312.7,1739.4 1315.5,1727.4 1318.3,1715.3 1321.1,1702.9 1323.9,1690.5 1326.7,1678 1329.5,1665.4 1332.3,1652.9 1335.1,1640.3 1337.9,1627.9 1340.7,1615.5 1343.5,1603.4 1346.3,1591.6 1349.1,1580.1 1351.9,1569 1354.7,1558.3 1357.5,1548.2 1360.3,1538.8 1363.1,1530 1365.9,1522 1368.7,1514.8 1371.5,1508.6 1374.3,1503.3 1377.1,1499.1 1379.9,1495.9 1382.7,1493.9 1385.5,1492.9 1388.3,1493.2 1391.1,1494.5 1393.9,1497 1396.7,1500.6 1399.5,1505.3 1402.3,1511 1405.1,1517.7 1407.9,1525.3 1410.7,1533.8 1413.5,1543 1416.3,1553 1419.1,1563.6 1421.9,1574.8 1424.7,1586.4 1427.5,1598.5 1430.3,1610.9 1433.1,1623.6 1435.9,1636.4 1438.7,1649.5 1441.5,1662.6 1444.3,1675.8 1447.1,1688.9 1449.9,1702 1452.7,1715.1 1455.5,1728 1458.3,1740.7 1461.1,1753.3 1463.9,1765.7 1466.7,1777.9 1469.5,1789.8 1472.3,1801.5 1475.1,1812.9 1477.9,1824.1 1480.7,1834.9 1483.5,1845.5 1486.3,1855.8 1489.1,1865.9 1491.9,1875.6 1494.7,1885 1497.5,1894.2 1500.3,1903 1503.1,1911.6 1505.9,1919.9 1508.7,1927.9 1511.5,1935.6 1514.3,1943.1 1517.1,1950.3 1519.9,1957.2 1522.7,1963.9 1525.5,1970.4 1528.3,1976.6 1531.1,1982.5 1533.9,1988.3 1536.7,1993.8 1539.5,1999.1 1542.3,2004.2 1545.1,2009.1 1547.9,2013.8 1550.7,2018.3 1553.5,2022.6 1556.3,2026.8 1559.1,2030.8 1561.9,2034.6 1564.7,2038.3 1567.5,2041.9 1570.3,2045.3 1573.1,2048.6 1575.9,2051.7 1578.7,2054.7 1581.5,2057.6 1584.3,2060.4 1587.1,2063.1 1589.9,2065.7 1592.7,2068.2 1595.5,2070.6 1598.3,2072.9 1601.1,2075.1 1603.9,2077.3 1606.7,2079.3 1609.5,2081.3 1612.3,2083.3 1615.1,2085.1 1617.9,2086.9 1620.6,2088.6 1623.4,2090.3 1626.2,2091.9 1629,2093.5 1631.8,2095 1634.6,2096.5 1637.4,2097.9 1640.2,2099.3 1643,2100.6 1645.8,2101.9 1648.6,2103.2 1651.4,2104.4 1654.2,2105.6 1657,2106.7 1659.8,2107.8 1662.6,2108.9 1665.4,2109.9 1668.2,2110.9 1671,2111.9 1673.8,2112.9 1676.6,2113.8 1679.4,2114.7 1682.2,2115.6 1685,2116.5 1687.8,2117.3 1690.6,2118.1 1693.4,2118.9 1696.2,2119.7 1699,2120.4 1701.8,2121.2 1704.6,2121.9 1707.4,2122.6 1710.2,2123.2 1713,2123.9 1715.8,2124.5 1718.6,2125.1 1721.4,2125.7 1724.2,2126.3 1727,2126.9 1729.8,2127.5 1732.6,2128 1735.4,2128.5 1738.2,2129.1 1741,2129.6 1743.8,2130.1 1746.6,2130.5 1749.4,2131 1752.2,2131.5 1755,2131.9 1757.8,2132.4 1760.6,2132.8 1763.4,2133.2 1766.2,2133.6 1769,2134 1771.8,2134.4 1774.6,2134.8 1777.4,2135.1 1780.2,2135.5 1783,2135.9 1785.8,2136.2 1788.6,2136.5 1791.4,2136.9 1794.2,2137.2 1797,2137.5 1799.8,2137.8 1802.6,2138.1 1805.4,2138.4 1808.2,2138.7 1811,2139 1813.8,2139.3 1816.6,2139.5 1819.4,2139.8 1822.2,2140.1 1825,2140.3 1827.8,2140.6 1830.6,2140.8 1833.4,2141 1836.2,2141.3 1839,2141.5 1841.8,2141.7 1844.6,2141.9 1847.4,2142.2 1850.2,2142.4 1853,2142.6 1855.8,2142.8 1858.6,2143 1861.4,2143.2 1864.2,2143.4 1867,2143.6 1869.8,2143.8 1872.6,2143.9 1875.4,2144.1 1878.2,2144.3 1881,2144.5 1883.8,2144.6 1886.6,2144.8 1889.4,2145 1892.2,2145.1 1895,2145.3 1897.8,2145.4 1900.6,2145.6 1903.4,2145.7 1906.2,2145.9 1909,2146 1911.8,2146.2 1914.6,2146.3 1917.4,2146.4 1920.2,2146.6 1923,2146.7 1925.8,2146.8 1928.6,2147 1931.4,2147.1 1934.2,2147.2 1937,2147.3 1939.8,2147.5 1942.6,2147.6 1945.4,2147.7 1948.2,2147.8 1951,2147.9 1953.8,2148 1956.5,2148.2 1959.3,2148.3 1962.1,2148.4 1964.9,2148.5 1967.7,2148.6 1970.5,2148.7 1973.3,2148.8 1976.1,2148.9 1978.9,2149 1981.7,2149.1 1984.5,2149.2 1987.3,2149.3 1990.1,2149.4 1992.9,2149.4 1995.7,2149.5 1998.5,2149.6 2001.3,2149.7 2004.1,2149.8 2006.9,2149.9 2009.7,2150 2012.5,2150 2015.3,2150.1 2018.1,2150.2 2020.9,2150.3 2023.7,2150.4 2026.5,2150.4 2029.3,2150.5 2032.1,2150.6 2034.9,2150.7 2037.7,2150.7 2040.5,2150.8 2043.3,2150.9 2046.1,2151 2048.9,2151 2051.7,2151.1 2054.5,2151.2 2057.3,2151.2 2060.1,2151.3 2062.9,2151.4 2065.7,2151.4 2068.5,2151.5 2071.3,2151.6 2074.1,2151.6 2076.9,2151.7 2079.7,2151.7 2082.5,2151.8 2085.3,2151.9 2088.1,2151.9 2090.9,2152 2093.7,2152 2096.5,2152.1 2099.3,2152.1 2102.1,2152.2 2104.9,2152.2 2107.7,2152.3 2110.5,2152.4 2113.3,2152.4 2116.1,2152.5 2118.9,2152.5 2121.7,2152.6 2124.5,2152.6"/>
<path fill="none" stroke="#9900CC" stroke-width="2.2" d="M448 2097.8v15M484.2 2097.8v15M520.4 2097.8v15M556.6 2097.7v15M592.8 2097.7v15M629 2097.7v15M665.2 2097.7v15M701.4 2097.6v15M737.6 2097.6v15M773.8 2097.5v15M810 2097.5v15M846.2 2097.4v15M882.4 2097.3v15M918.6 2097.1v15M954.8 2096.9v15M991 2096.7v15M1027.2 2096.4v15M1063.4 2095.9v15M1099.6 2095.1v15M1135.8 2093.3v15M1172 2088.7v15M1208.2 2078v15M1244.4 2060.9v15M1280.6 2048.1v15M1316.8 2058v15M1353 2080.2v15M1389.2 2098.5v15M1425.4 2109.9v15M1461.6 2117.1v15M1497.8 2122.7v15M1534 2128.1v15M1570.2 2133.4v15M1606.4 2138.4v15M1642.6 2142.6v15M1678.8 2145.8v15M1715 2147.9v15M1751.2 2149.3v15M1787.4 2150.2v15M1823.6 2150.7v15M1859.8 2151v15M1896 2151.2v15M1932.2 2151.4v15M1968.4 2151.4v15M2004.6 2151.5v15M2040.8 2151.5v15M2077 2151.6v15M2113.2 2151.6v15"/>
<polyline fill="none" stroke="#FF6600" stroke-width="7.2" stroke-dasharray="24.5 33.5" points="445,2101.8 447.8,2101.7 450.6,2101.6 453.4,2101.5 456.2,2101.4 459,2101.3 461.8,2101.1 464.6,2101 467.4,2100.8 470.2,2100.7 473,2100.5 475.8,2100.3 478.6,2100.2 481.4,2100 484.2,2099.8 487,2099.6 489.8,2099.3 492.6,2099.1 495.4,2098.8 498.2,2098.6 501,2098.3 503.8,2098 506.6,2097.7 509.4,2097.4 512.2,2097 515,2096.7 517.8,2096.3 520.6,2095.9 523.4,2095.4 526.2,2095 529,2094.5 531.8,2094 534.6,2093.5 537.4,2093 540.2,2092.4 543,2091.8 545.8,2091.2 548.6,2090.5 551.4,2089.9 554.2,2089.2 557,2088.4 559.8,2087.7 562.6,2086.9 565.4,2086.1 568.2,2085.3 571,2084.4 573.8,2083.5 576.6,2082.7 579.4,2081.8 582.2,2080.8 585,2079.9 587.8,2079 590.6,2078.1 593.4,2077.2 596.2,2076.3 599,2075.4 601.8,2074.6 604.6,2073.8 607.4,2073 610.2,2072.3 612.9,2071.7 615.7,2071.2 618.5,2070.7 621.3,2070.4 624.1,2070.1 626.9,2069.9 629.7,2069.9 632.5,2069.9 635.3,2070.1 638.1,2070.4 640.9,2070.7 643.7,2071.2 646.5,2071.7 649.3,2072.3 652.1,2073 654.9,2073.8 657.7,2074.6 660.5,2075.4 663.3,2076.3 666.1,2077.2 668.9,2078.1 671.7,2079 674.5,2079.9 677.3,2080.8 680.1,2081.8 682.9,2082.7 685.7,2083.5 688.5,2084.4 691.3,2085.3 694.1,2086.1 696.9,2086.9 699.7,2087.7 702.5,2088.4 705.3,2089.2 708.1,2089.9 710.9,2090.5 713.7,2091.2 716.5,2091.8 719.3,2092.4 722.1,2093 724.9,2093.5 727.7,2094 730.5,2094.5 733.3,2095 736.1,2095.4 738.9,2095.9 741.7,2096.3 744.5,2096.7 747.3,2097 750.1,2097.4 752.9,2097.7 755.7,2098 758.5,2098.3 761.3,2098.6 764.1,2098.8 766.9,2099.1 769.7,2099.3 772.5,2099.6 775.3,2099.8 778.1,2100 780.9,2100.2 783.7,2100.3 786.5,2100.5 789.3,2100.7 792.1,2100.8 794.9,2101 797.7,2101.1 800.5,2101.3 803.3,2101.4 806.1,2101.5 808.9,2101.6 811.7,2101.7 814.5,2101.8 817.3,2101.9 820.1,2102 822.9,2102.1 825.7,2102.2 828.5,2102.3 831.3,2102.4 834.1,2102.5 836.9,2102.5 839.7,2102.6 842.5,2102.7 845.3,2102.7 848.1,2102.8 850.9,2102.9 853.7,2102.9 856.5,2103 859.3,2103.1 862.1,2103.1 864.9,2103.2 867.7,2103.2 870.5,2103.3 873.3,2103.3 876.1,2103.4 878.9,2103.4 881.7,2103.4 884.5,2103.5 887.3,2103.5 890.1,2103.6 892.9,2103.6 895.7,2103.6 898.5,2103.7 901.3,2103.7 904.1,2103.7 906.9,2103.8 909.7,2103.8 912.5,2103.8 915.3,2103.9 918.1,2103.9 920.9,2103.9 923.7,2104 926.5,2104 929.3,2104 932.1,2104 934.9,2104.1 937.7,2104.1 940.5,2104.1 943.3,2104.1 946.1,2104.2 948.8,2104.2 951.6,2104.2 954.4,2104.2 957.2,2104.3 960,2104.3 962.8,2104.3 965.6,2104.3 968.4,2104.3 971.2,2104.4 974,2104.4 976.8,2104.4 979.6,2104.4 982.4,2104.4 985.2,2104.5 988,2104.5 990.8,2104.5 993.6,2104.5 996.4,2104.5 999.2,2104.5 1002,2104.6 1004.8,2104.6 1007.6,2104.6 1010.4,2104.6 1013.2,2104.6 1016,2104.6 1018.8,2104.7 1021.6,2104.7 1024.4,2104.7 1027.2,2104.7 1030,2104.7 1032.8,2104.7 1035.6,2104.7 1038.4,2104.8 1041.2,2104.8 1044,2104.8 1046.8,2104.8 1049.6,2104.8 1052.4,2104.8 1055.2,2104.9 1058,2104.9 1060.8,2104.9 1063.6,2104.9 1066.4,2104.9 1069.2,2104.9 1072,2105 1074.8,2105 1077.6,2105 1080.4,2105 1083.2,2105 1086,2105 1088.8,2105.1 1091.6,2105.1 1094.4,2105.1 1097.2,2105.1 1100,2105.1 1102.8,2105.2 1105.6,2105.2 1108.4,2105.2 1111.2,2105.2 1114,2105.2 1116.8,2105.3 1119.6,2105.3 1122.4,2105.3 1125.2,2105.3 1128,2105.4 1130.8,2105.4 1133.6,2105.4 1136.4,2105.4 1139.2,2105.5 1142,2105.5 1144.8,2105.5 1147.6,2105.6 1150.4,2105.6 1153.2,2105.6 1156,2105.7 1158.8,2105.7 1161.6,2105.7 1164.4,2105.8 1167.2,2105.8 1170,2105.8 1172.8,2105.9 1175.6,2105.9 1178.4,2106 1181.2,2106 1184,2106.1 1186.8,2106.1 1189.6,2106.2 1192.4,2106.2 1195.2,2106.3 1198,2106.3 1200.8,2106.4 1203.6,2106.5 1206.4,2106.5 1209.2,2106.6 1212,2106.7 1214.8,2106.7 1217.6,2106.8 1220.4,2106.9 1223.2,2107 1226,2107 1228.8,2107.1 1231.6,2107.2 1234.4,2107.3 1237.2,2107.4 1240,2107.5 1242.8,2107.6 1245.6,2107.7 1248.4,2107.8 1251.2,2107.9 1254,2108.1 1256.8,2108.2 1259.6,2108.3 1262.4,2108.4 1265.2,2108.6 1268,2108.7 1270.8,2108.9 1273.6,2109 1276.4,2109.2 1279.2,2109.3 1282,2109.5 1284.7,2109.6 1287.5,2109.8 1290.3,2110 1293.1,2110.2 1295.9,2110.4 1298.7,2110.6 1301.5,2110.8 1304.3,2111 1307.1,2111.2 1309.9,2111.4 1312.7,2111.6 1315.5,2111.8 1318.3,2112 1321.1,2112.3 1323.9,2112.5 1326.7,2112.8 1329.5,2113 1332.3,2113.3 1335.1,2113.5 1337.9,2113.8 1340.7,2114.1 1343.5,2114.3 1346.3,2114.6 1349.1,2114.9 1351.9,2115.2 1354.7,2115.5 1357.5,2115.8 1360.3,2116.1 1363.1,2116.4 1365.9,2116.7 1368.7,2117 1371.5,2117.3 1374.3,2117.6 1377.1,2117.9 1379.9,2118.3 1382.7,2118.6 1385.5,2118.9 1388.3,2119.2 1391.1,2119.6 1393.9,2119.9 1396.7,2120.2 1399.5,2120.6 1402.3,2120.9 1405.1,2121.2 1407.9,2121.6 1410.7,2121.9 1413.5,2122.3 1416.3,2122.6 1419.1,2122.9 1421.9,2123.3 1424.7,2123.6 1427.5,2123.9 1430.3,2124.3 1433.1,2124.6 1435.9,2125 1438.7,2125.3 1441.5,2125.6 1444.3,2126 1447.1,2126.3 1449.9,2126.7 1452.7,2127 1455.5,2127.3 1458.3,2127.7 1461.1,2128 1463.9,2128.4 1466.7,2128.7 1469.5,2129 1472.3,2129.4 1475.1,2129.7 1477.9,2130.1 1480.7,2130.4 1483.5,2130.8 1486.3,2131.1 1489.1,2131.5 1491.9,2131.8 1494.7,2132.2 1497.5,2132.5 1500.3,2132.9 1503.1,2133.2 1505.9,2133.6 1508.7,2133.9 1511.5,2134.3 1514.3,2134.7 1517.1,2135 1519.9,2135.4 1522.7,2135.8 1525.5,2136.1 1528.3,2136.5 1531.1,2136.9 1533.9,2137.2 1536.7,2137.6 1539.5,2138 1542.3,2138.4 1545.1,2138.7 1547.9,2139.1 1550.7,2139.5 1553.5,2139.9 1556.3,2140.3 1559.1,2140.6 1561.9,2141 1564.7,2141.4 1567.5,2141.8 1570.3,2142.2 1573.1,2142.5 1575.9,2142.9 1578.7,2143.3 1581.5,2143.7 1584.3,2144 1587.1,2144.4 1589.9,2144.8 1592.7,2145.1 1595.5,2145.5 1598.3,2145.8 1601.1,2146.2 1603.9,2146.5 1606.7,2146.9 1609.5,2147.2 1612.3,2147.6 1615.1,2147.9 1617.9,2148.2 1620.6,2148.5 1623.4,2148.9 1626.2,2149.2 1629,2149.5 1631.8,2149.8 1634.6,2150.1 1637.4,2150.4 1640.2,2150.6 1643,2150.9 1645.8,2151.2 1648.6,2151.4 1651.4,2151.7 1654.2,2152 1657,2152.2 1659.8,2152.4 1662.6,2152.7 1665.4,2152.9 1668.2,2153.1 1671,2153.3 1673.8,2153.5 1676.6,2153.7 1679.4,2153.9 1682.2,2154.1 1685,2154.3 1687.8,2154.5 1690.6,2154.7 1693.4,2154.8 1696.2,2155 1699,2155.2 1701.8,2155.3 1704.6,2155.5 1707.4,2155.6 1710.2,2155.7 1713,2155.9 1715.8,2156 1718.6,2156.1 1721.4,2156.3 1724.2,2156.4 1727,2156.5 1729.8,2156.6 1732.6,2156.7 1735.4,2156.8 1738.2,2156.9 1741,2157 1743.8,2157.1 1746.6,2157.1 1749.4,2157.2 1752.2,2157.3 1755,2157.4 1757.8,2157.5 1760.6,2157.5 1763.4,2157.6 1766.2,2157.7 1769,2157.7 1771.8,2157.8 1774.6,2157.8 1777.4,2157.9 1780.2,2157.9 1783,2158 1785.8,2158 1788.6,2158.1 1791.4,2158.1 1794.2,2158.2 1797,2158.2 1799.8,2158.3 1802.6,2158.3 1805.4,2158.3 1808.2,2158.4 1811,2158.4 1813.8,2158.4 1816.6,2158.5 1819.4,2158.5 1822.2,2158.5 1825,2158.6 1827.8,2158.6 1830.6,2158.6 1833.4,2158.6 1836.2,2158.7 1839,2158.7 1841.8,2158.7 1844.6,2158.7 1847.4,2158.7 1850.2,2158.8 1853,2158.8 1855.8,2158.8 1858.6,2158.8 1861.4,2158.8 1864.2,2158.8 1867,2158.9 1869.8,2158.9 1872.6,2158.9 1875.4,2158.9 1878.2,2158.9 1881,2158.9 1883.8,2158.9 1886.6,2158.9 1889.4,2158.9 1892.2,2159 1895,2159 1897.8,2159 1900.6,2159 1903.4,2159 1906.2,2159 1909,2159 1911.8,2159 1914.6,2159 1917.4,2159 1920.2,2159 1923,2159 1925.8,2159.1 1928.6,2159.1 1931.4,2159.1 1934.2,2159.1 1937,2159.1 1939.8,2159.1 1942.6,2159.1 1945.4,2159.1 1948.2,2159.1 1951,2159.1 1953.8,2159.1 1956.5,2159.1 1959.3,2159.1 1962.1,2159.1 1964.9,2159.1 1967.7,2159.1 1970.5,2159.1 1973.3,2159.1 1976.1,2159.1 1978.9,2159.1 1981.7,2159.1 1984.5,2159.1 1987.3,2159.1 1990.1,2159.1 1992.9,2159.1 1995.7,2159.1 1998.5,2159.1 2001.3,2159.1 2004.1,2159.1 2006.9,2159.1 2009.7,2159.2 2012.5,2159.2 2015.3,2159.2 2018.1,2159.2 2020.9,2159.2 2023.7,2159.2 2026.5,2159.2 2029.3,2159.2 2032.1,2159.2 2034.9,2159.2 2037.7,2159.2 2040.5,2159.2 2043.3,2159.2 2046.1,2159.2 2048.9,2159.2 2051.7,2159.2 2054.5,2159.2 2057.3,2159.2 2060.1,2159.2 2062.9,2159.2 2065.7,2159.2 2068.5,2159.2 2071.3,2159.2 2074.1,2159.2 2076.9,2159.2 2079.7,2159.2 2082.5,2159.2 2085.3,2159.2 2088.1,2159.2 2090.9,2159.2 2093.7,2159.2 2096.5,2159.2 2099.3,2159.2 2102.1,2159.2 2104.9,2159.2 2107.7,2159.2 2110.5,2159.2 2113.3,2159.2 2116.1,2159.2 2118.9,2159.2 2121.7,2159.2 2124.5,2159.2"/>
<rect x="441.8" y="1175.8" width="6.4" height="1011.4"/>
<rect x="414.8" y="2168.8" width="1712.9" height="6.4"/>
<rect x="414.8" y="2003.3" width="30.2" height="6.4"/>
<rect x="414.8" y="1837.8" width="30.2" height="6.4"/>
<rect x="414.8" y="1672.3" width="30.2" height="6.4"/>
<rect x="414.8" y="1506.8" width="30.2" height="6.4"/>
<rect x="414.8" y="1341.3" width="30.2" height="6.4"/>
<rect x="414.8" y="1175.8" width="30.2" height="6.4"/>
<rect x="429.8" y="2135.7" width="15.2" height="6.4"/>
<rect x="429.8" y="2102.6" width="15.2" height="6.4"/>
<rect x="429.8" y="2069.5" width="15.2" height="6.4"/>
<rect x="429.8" y="2036.4" width="15.2" height="6.4"/>
<rect x="429.8" y="1970.2" width="15.2" height="6.4"/>
<rect x="429.8" y="1937.1" width="15.2" height="6.4"/>
<rect x="429.8" y="1904" width="15.2" height="6.4"/>
<rect x="429.8" y="1870.9" width="15.2" height="6.4"/>
<rect x="429.8" y="1804.7" width="15.2" height="6.4"/>
<rect x="429.8" y="1771.6" width="15.2" height="6.4"/>
<rect x="429.8" y="1738.5" width="15.2" height="6.4"/>
<rect x="429.8" y="1705.4" width="15.2" height="6.4"/>
<rect x="429.8" y="1639.2" width="15.2" height="6.4"/>
<rect x="429.8" y="1606.1" width="15.2" height="6.4"/>
<rect x="429.8" y="1573" width="15.2" height="6.4"/>
<rect x="429.8" y="1539.9" width="15.2" height="6.4"/>
<rect x="429.8" y="1473.7" width="15.2" height="6.4"/>
<rect x="429.8" y="1440.6" width="15.2" height="6.4"/>
<rect x="429.8" y="1407.5" width="15.2" height="6.4"/>
<rect x="429.8" y="1374.4" width="15.2" height="6.4"/>
<rect x="429.8" y="1308.2" width="15.2" height="6.4"/>
<rect x="429.8" y="1275.1" width="15.2" height="6.4"/>
<rect x="429.8" y="1242" width="15.2" height="6.4"/>
<rect x="429.8" y="1208.9" width="15.2" height="6.4"/>
<rect x="581.8" y="2172" width="6.4" height="30.3"/>
<rect x="861.7" y="2172" width="6.4" height="30.3"/>
<rect x="1141.6" y="2172" width="6.4" height="30.3"/>
<rect x="1421.5" y="2172" width="6.4" height="30.3"/>
<rect x="1701.4" y="2172" width="6.4" height="30.3"/>
<rect x="1981.3" y="2172" width="6.4" height="30.3"/>
<rect x="2121.3" y="2172" width="6.4" height="15.2"/>
<rect x="2051.3" y="2172" width="6.4" height="15.2"/>
<rect x="1911.4" y="2172" width="6.4" height="15.2"/>
<rect x="1841.4" y="2172" width="6.4" height="15.2"/>
<rect x="1771.4" y="2172" width="6.4" height="15.2"/>
<rect x="1631.4" y="2172" width="6.4" height="15.2"/>
<rect x="1561.5" y="2172" width="6.4" height="15.2"/>
<rect x="1491.5" y="2172" width="6.4" height="15.2"/>
<rect x="1351.5" y="2172" width="6.4" height="15.2"/>
<rect x="1281.5" y="2172" width="6.4" height="15.2"/>
<rect x="1211.6" y="2172" width="6.4" height="15.2"/>
<rect x="1071.6" y="2172" width="6.4" height="15.2"/>
<rect x="1001.6" y="2172" width="6.4" height="15.2"/>
<rect x="931.7" y="2172" width="6.4" height="15.2"/>
<rect x="791.7" y="2172" width="6.4" height="15.2"/>
<rect x="721.7" y="2172" width="6.4" height="15.2"/>
<rect x="651.7" y="2172" width="6.4" height="15.2"/>
<rect x="511.8" y="2172" width="6.4" height="15.2"/>
<rect x="441.8" y="2172" width="6.4" height="15.2"/>
<text transform="translate(392 2204) scale(0.95 1)" text-anchor="end" font-family='"Liberation Sans", Arial, Helvetica, sans-serif' font-weight="bold" font-size="89">0</text>
<text transform="translate(392.3 2038.5) scale(0.95 1)" text-anchor="end" font-family='"Liberation Sans", Arial, Helvetica, sans-serif' font-weight="bold" font-size="89">1x10<tspan font-size="58.5" dx="2.6" dy="-35.5">4</tspan></text>
<text transform="translate(392.3 1873) scale(0.95 1)" text-anchor="end" font-family='"Liberation Sans", Arial, Helvetica, sans-serif' font-weight="bold" font-size="89">2x10<tspan font-size="58.5" dx="2.6" dy="-35.5">4</tspan></text>
<text transform="translate(392.3 1707.5) scale(0.95 1)" text-anchor="end" font-family='"Liberation Sans", Arial, Helvetica, sans-serif' font-weight="bold" font-size="89">3x10<tspan font-size="58.5" dx="2.6" dy="-35.5">4</tspan></text>
<text transform="translate(392.3 1542) scale(0.95 1)" text-anchor="end" font-family='"Liberation Sans", Arial, Helvetica, sans-serif' font-weight="bold" font-size="89">4x10<tspan font-size="58.5" dx="2.6" dy="-35.5">4</tspan></text>
<text transform="translate(392.3 1376.5) scale(0.95 1)" text-anchor="end" font-family='"Liberation Sans", Arial, Helvetica, sans-serif' font-weight="bold" font-size="89">5x10<tspan font-size="58.5" dx="2.6" dy="-35.5">4</tspan></text>
<text transform="translate(392.3 1211) scale(0.95 1)" text-anchor="end" font-family='"Liberation Sans", Arial, Helvetica, sans-serif' font-weight="bold" font-size="89">6x10<tspan font-size="58.5" dx="2.6" dy="-35.5">4</tspan></text>
<text transform="translate(120 1674.5) rotate(-90)" text-anchor="middle" font-family='"Liberation Serif", "Times New Roman", Times, serif' font-size="117.2">Intensity</text>
<text x="482" y="1278.8" fill="#000" font-family='"Liberation Sans", Arial, Helvetica, sans-serif' font-size="98" font-weight="bold" text-anchor="start">B:</text>
<text x="626" y="1279" fill="#000" font-family='"Liberation Sans", Arial, Helvetica, sans-serif' font-size="81" font-weight="normal" text-anchor="start">AHL-C1s</text>
<text x="1778" y="1246.3" fill="#0000FF" font-family='"Liberation Sans", Arial, Helvetica, sans-serif' font-size="72" font-weight="normal" text-anchor="start">C-C/C-H</text>
<text x="1778" y="1334.2" fill="#0000FF" font-family='"Liberation Sans", Arial, Helvetica, sans-serif' font-size="72" font-weight="normal" text-anchor="start">53.1%</text>
<line x1="1761.7" y1="1238.7" x2="1625.6" y2="1333.4" stroke="#0000FF" stroke-width="9"/>
<polygon fill="#0000FF" points="1581.3,1364.3 1619.3,1320.8 1635.3,1343.8"/>
<text x="1726" y="1556" fill="#008000" font-family='"Liberation Sans", Arial, Helvetica, sans-serif' font-size="72" font-weight="normal" text-anchor="start">C-OH/C-O-C</text>
<text x="1726" y="1642.6" fill="#008000" font-family='"Liberation Sans", Arial, Helvetica, sans-serif' font-size="72" font-weight="normal" text-anchor="start">41.3%</text>
<line x1="1854.2" y1="1682.4" x2="1602.8" y2="2011.7" stroke="#008000" stroke-width="9"/>
<polygon fill="#008000" points="1570,2054.6 1592.9,2001.6 1615.1,2018.6"/>
<text x="941" y="1413" fill="#9900CC" font-family='"Liberation Sans", Arial, Helvetica, sans-serif' font-size="72" font-weight="normal" text-anchor="start">C=O/O-C-O</text>
<text x="941" y="1499.7" fill="#9900CC" font-family='"Liberation Sans", Arial, Helvetica, sans-serif' font-size="72" font-weight="normal" text-anchor="start">3.0%</text>
<line x1="1084.8" y1="1551.8" x2="1351.3" y2="2051.4" stroke="#9900CC" stroke-width="9"/>
<polygon fill="#9900CC" points="1376.7,2099 1338,2056.2 1362.7,2043"/>
<text x="753" y="1616.3" fill="#800000" font-family='"Liberation Sans", Arial, Helvetica, sans-serif' font-size="72" font-weight="normal" text-anchor="start">O-C=O</text>
<text x="753" y="1704.6" fill="#800000" font-family='"Liberation Sans", Arial, Helvetica, sans-serif' font-size="72" font-weight="normal" text-anchor="start">0.6%</text>
<line x1="896" y1="1734.7" x2="1090.2" y2="2061.3" stroke="#800000" stroke-width="9"/>
<polygon fill="#800000" points="1117.8,2107.7 1077.1,2066.7 1101.2,2052.4"/>
<text x="477" y="1830" fill="#FF6600" font-size="72" font-family='"Liberation Sans", Arial, Helvetica, sans-serif'><tspan font-family='"Liberation Serif", "Times New Roman", Times, serif'>π</tspan>-<tspan font-family='"Liberation Serif", "Times New Roman", Times, serif'>π</tspan><tspan font-size="48" dy="-30">*</tspan><tspan dy="30" dx="4"> shake up</tspan></text>
<text x="477" y="1920.7" fill="#FF6600" font-family='"Liberation Sans", Arial, Helvetica, sans-serif' font-size="72" font-weight="normal" text-anchor="start">2.1%</text>
<line x1="526.5" y1="1953" x2="602.1" y2="2039.1" stroke="#FF6600" stroke-width="9"/>
<polygon fill="#FF6600" points="637.7,2079.7 590.2,2046.8 611.3,2028.4"/>
<polyline fill="none" stroke="#000080" stroke-width="16.2" stroke-linejoin="round" points="445,3239.3 447.8,3239.2 450.6,3239.1 453.4,3239 456.2,3238.9 459,3238.8 461.8,3238.7 464.6,3238.6 467.4,3238.5 470.2,3238.4 473,3238.2 475.8,3238.1 478.6,3238 481.4,3237.9 484.2,3237.7 487,3237.6 489.8,3237.5 492.6,3237.3 495.4,3237.2 498.2,3237.1 501,3236.9 503.8,3236.8 506.6,3236.6 509.4,3236.4 512.2,3236.3 515,3236.1 517.8,3235.9 520.6,3235.8 523.4,3235.6 526.2,3235.4 529,3235.2 531.8,3235 534.6,3234.8 537.4,3234.6 540.2,3234.3 543,3234.1 545.8,3233.9 548.6,3233.7 551.4,3233.4 554.2,3233.2 557,3232.9 559.8,3232.6 562.6,3232.4 565.4,3232.1 568.2,3231.8 571,3231.5 573.8,3231.2 576.6,3230.9 579.4,3230.6 582.2,3230.3 585,3230 587.8,3229.7 590.6,3229.4 593.4,3229.1 596.2,3228.8 599,3228.5 601.8,3228.2 604.6,3228 607.4,3227.7 610.2,3227.4 612.9,3227.2 615.7,3226.9 618.5,3226.7 621.3,3226.5 624.1,3226.3 626.9,3226.1 629.7,3226 632.5,3225.9 635.3,3225.7 638.1,3225.6 640.9,3225.5 643.7,3225.5 646.5,3225.4 649.3,3225.3 652.1,3225.3 654.9,3225.3 657.7,3225.2 660.5,3225.2 663.3,3225.2 666.1,3225.1 668.9,3225.1 671.7,3225.1 674.5,3225 677.3,3225 680.1,3225 682.9,3224.9 685.7,3224.9 688.5,3224.8 691.3,3224.8 694.1,3224.7 696.9,3224.6 699.7,3224.5 702.5,3224.4 705.3,3224.3 708.1,3224.2 710.9,3224.1 713.7,3224 716.5,3223.9 719.3,3223.7 722.1,3223.6 724.9,3223.4 727.7,3223.3 730.5,3223.1 733.3,3222.9 736.1,3222.8 738.9,3222.6 741.7,3222.4 744.5,3222.2 747.3,3222 750.1,3221.8 752.9,3221.6 755.7,3221.4 758.5,3221.1 761.3,3220.9 764.1,3220.7 766.9,3220.4 769.7,3220.2 772.5,3220 775.3,3219.7 778.1,3219.5 780.9,3219.2 783.7,3218.9 786.5,3218.7 789.3,3218.4 792.1,3218.1 794.9,3217.9 797.7,3217.6 800.5,3217.3 803.3,3217 806.1,3216.8 808.9,3216.5 811.7,3216.2 814.5,3215.9 817.3,3215.6 820.1,3215.3 822.9,3215 825.7,3214.8 828.5,3214.5 831.3,3214.2 834.1,3213.9 836.9,3213.6 839.7,3213.3 842.5,3213 845.3,3212.7 848.1,3212.5 850.9,3212.2 853.7,3211.9 856.5,3211.6 859.3,3211.3 862.1,3211 864.9,3210.8 867.7,3210.5 870.5,3210.2 873.3,3210 876.1,3209.7 878.9,3209.4 881.7,3209.2 884.5,3208.9 887.3,3208.7 890.1,3208.4 892.9,3208.2 895.7,3208 898.5,3207.7 901.3,3207.5 904.1,3207.3 906.9,3207.1 909.7,3206.8 912.5,3206.6 915.3,3206.4 918.1,3206.2 920.9,3206.1 923.7,3205.9 926.5,3205.7 929.3,3205.5 932.1,3205.4 934.9,3205.2 937.7,3205 940.5,3204.9 943.3,3204.8 946.1,3204.6 948.8,3204.5 951.6,3204.4 954.4,3204.3 957.2,3204.1 960,3204 962.8,3203.9 965.6,3203.8 968.4,3203.8 971.2,3203.7 974,3203.6 976.8,3203.5 979.6,3203.4 982.4,3203.4 985.2,3203.3 988,3203.3 990.8,3203.2 993.6,3203.2 996.4,3203.1 999.2,3203.1 1002,3203 1004.8,3203 1007.6,3202.9 1010.4,3202.9 1013.2,3202.8 1016,3202.8 1018.8,3202.8 1021.6,3202.7 1024.4,3202.7 1027.2,3202.7 1030,3202.6 1032.8,3202.6 1035.6,3202.5 1038.4,3202.5 1041.2,3202.4 1044,3202.4 1046.8,3202.3 1049.6,3202.2 1052.4,3202.2 1055.2,3202.1 1058,3202 1060.8,3201.9 1063.6,3201.8 1066.4,3201.7 1069.2,3201.6 1072,3201.5 1074.8,3201.4 1077.6,3201.3 1080.4,3201.1 1083.2,3201 1086,3200.8 1088.8,3200.7 1091.6,3200.5 1094.4,3200.3 1097.2,3200.1 1100,3199.9 1102.8,3199.7 1105.6,3199.5 1108.4,3199.2 1111.2,3198.9 1114,3198.7 1116.8,3198.4 1119.6,3198.1 1122.4,3197.8 1125.2,3197.5 1128,3197.1 1130.8,3196.8 1133.6,3196.4 1136.4,3196 1139.2,3195.6 1142,3195.2 1144.8,3194.8 1147.6,3194.3 1150.4,3193.8 1153.2,3193.4 1156,3192.9 1158.8,3192.4 1161.6,3191.8 1164.4,3191.3 1167.2,3190.7 1170,3190.1 1172.8,3189.5 1175.6,3188.9 1178.4,3188.3 1181.2,3187.6 1184,3187 1186.8,3186.3 1189.6,3185.6 1192.4,3184.9 1195.2,3184.1 1198,3183.4 1200.8,3182.6 1203.6,3181.8 1206.4,3181 1209.2,3180.2 1212,3179.4 1214.8,3178.5 1217.6,3177.7 1220.4,3176.8 1223.2,3175.9 1226,3175.1 1228.8,3174.2 1231.6,3173.3 1234.4,3172.3 1237.2,3171.4 1240,3170.5 1242.8,3169.5 1245.6,3168.6 1248.4,3167.7 1251.2,3166.7 1254,3165.8 1256.8,3164.8 1259.6,3163.8 1262.4,3162.9 1265.2,3161.9 1268,3161 1270.8,3160 1273.6,3159.1 1276.4,3158.2 1279.2,3157.2 1282,3156.3 1284.7,3155.4 1287.5,3154.4 1290.3,3153.5 1293.1,3152.6 1295.9,3151.7 1298.7,3150.8 1301.5,3149.9 1304.3,3149 1307.1,3148.1 1309.9,3147.1 1312.7,3146.2 1315.5,3145.3 1318.3,3144.4 1321.1,3143.4 1323.9,3142.5 1326.7,3141.5 1329.5,3140.5 1332.3,3139.5 1335.1,3138.5 1337.9,3137.5 1340.7,3136.4 1343.5,3135.3 1346.3,3134.1 1349.1,3133 1351.9,3131.8 1354.7,3130.5 1357.5,3129.2 1360.3,3127.9 1363.1,3126.5 1365.9,3125.1 1368.7,3123.6 1371.5,3122 1374.3,3120.4 1377.1,3118.7 1379.9,3116.9 1382.7,3115.1 1385.5,3113.2 1388.3,3111.2 1391.1,3109 1393.9,3106.8 1396.7,3104.5 1399.5,3102.1 1402.3,3099.6 1405.1,3096.9 1407.9,3094.2 1410.7,3091.2 1413.5,3088.2 1416.3,3085 1419.1,3081.6 1421.9,3078 1424.7,3074.3 1427.5,3070.4 1430.3,3066.3 1433.1,3061.9 1435.9,3057.4 1438.7,3052.6 1441.5,3047.6 1444.3,3042.3 1447.1,3036.7 1449.9,3030.9 1452.7,3024.7 1455.5,3018.3 1458.3,3011.5 1461.1,3004.4 1463.9,2997 1466.7,2989.1 1469.5,2981 1472.3,2972.4 1475.1,2963.4 1477.9,2954.1 1480.7,2944.3 1483.5,2934 1486.3,2923.4 1489.1,2912.3 1491.9,2900.7 1494.7,2888.7 1497.5,2876.2 1500.3,2863.2 1503.1,2849.8 1505.9,2836 1508.7,2821.6 1511.5,2806.9 1514.3,2791.8 1517.1,2776.3 1519.9,2760.4 1522.7,2744.2 1525.5,2727.8 1528.3,2711.1 1531.1,2694.3 1533.9,2677.4 1536.7,2660.6 1539.5,2643.9 1542.3,2627.4 1545.1,2611.3 1547.9,2595.6 1550.7,2580.5 1553.5,2566.2 1556.3,2552.8 1559.1,2540.5 1561.9,2529.4 1564.7,2519.6 1567.5,2511.2 1570.3,2504.5 1573.1,2499.5 1575.9,2496.2 1578.7,2494.8 1581.5,2495.2 1584.3,2497.1 1587.1,2500.2 1589.9,2504.5 1592.7,2510 1595.5,2516.7 1598.3,2524.5 1601.1,2533.3 1603.9,2543.1 1606.7,2553.9 1609.5,2565.5 1612.3,2577.8 1615.1,2590.9 1617.9,2604.6 1620.6,2618.8 1623.4,2633.5 1626.2,2648.6 1629,2664 1631.8,2679.7 1634.6,2695.6 1637.4,2711.6 1640.2,2727.7 1643,2743.9 1645.8,2760 1648.6,2776.1 1651.4,2792.1 1654.2,2807.9 1657,2823.6 1659.8,2839.1 1662.6,2854.4 1665.4,2869.4 1668.2,2884.2 1671,2898.7 1673.8,2912.8 1676.6,2926.7 1679.4,2940.2 1682.2,2953.4 1685,2966.2 1687.8,2978.7 1690.6,2990.8 1693.4,3002.6 1696.2,3013.9 1699,3024.9 1701.8,3035.6 1704.6,3045.9 1707.4,3055.8 1710.2,3065.3 1713,3074.5 1715.8,3083.3 1718.6,3091.8 1721.4,3099.9 1724.2,3107.7 1727,3115.2 1729.8,3122.4 1732.6,3129.2 1735.4,3135.8 1738.2,3142 1741,3148 1743.8,3153.7 1746.6,3159.1 1749.4,3164.3 1752.2,3169.2 1755,3173.9 1757.8,3178.4 1760.6,3182.6 1763.4,3186.6 1766.2,3190.5 1769,3194.1 1771.8,3197.6 1774.6,3200.9 1777.4,3204 1780.2,3207 1783,3209.9 1785.8,3212.5 1788.6,3215.1 1791.4,3217.5 1794.2,3219.9 1797,3222.1 1799.8,3224.2 1802.6,3226.2 1805.4,3228.1 1808.2,3229.9 1811,3231.6 1813.8,3233.3 1816.6,3234.9 1819.4,3236.4 1822.2,3237.9 1825,3239.2 1827.8,3240.6 1830.6,3241.9 1833.4,3243.1 1836.2,3244.3 1839,3245.4 1841.8,3246.5 1844.6,3247.5 1847.4,3248.6 1850.2,3249.5 1853,3250.5 1855.8,3251.4 1858.6,3252.3 1861.4,3253.1 1864.2,3254 1867,3254.8 1869.8,3255.5 1872.6,3256.3 1875.4,3257 1878.2,3257.7 1881,3258.4 1883.8,3259.1 1886.6,3259.8 1889.4,3260.4 1892.2,3261 1895,3261.6 1897.8,3262.2 1900.6,3262.8 1903.4,3263.4 1906.2,3263.9 1909,3264.4 1911.8,3265 1914.6,3265.5 1917.4,3266 1920.2,3266.5 1923,3266.9 1925.8,3267.4 1928.6,3267.9 1931.4,3268.3 1934.2,3268.7 1937,3269.2 1939.8,3269.6 1942.6,3270 1945.4,3270.4 1948.2,3270.8 1951,3271.2 1953.8,3271.5 1956.5,3271.9 1959.3,3272.3 1962.1,3272.6 1964.9,3273 1967.7,3273.3 1970.5,3273.7 1973.3,3274 1976.1,3274.3 1978.9,3274.6 1981.7,3274.9 1984.5,3275.2 1987.3,3275.5 1990.1,3275.8 1992.9,3276.1 1995.7,3276.4 1998.5,3276.7 2001.3,3277 2004.1,3277.2 2006.9,3277.5 2009.7,3277.7 2012.5,3278 2015.3,3278.2 2018.1,3278.5 2020.9,3278.7 2023.7,3279 2026.5,3279.2 2029.3,3279.4 2032.1,3279.7 2034.9,3279.9 2037.7,3280.1 2040.5,3280.3 2043.3,3280.5 2046.1,3280.7 2048.9,3280.9 2051.7,3281.1 2054.5,3281.3 2057.3,3281.5 2060.1,3281.7 2062.9,3281.9 2065.7,3282.1 2068.5,3282.3 2071.3,3282.4 2074.1,3282.6 2076.9,3282.8 2079.7,3283 2082.5,3283.1 2085.3,3283.3 2088.1,3283.5 2090.9,3283.6 2093.7,3283.8 2096.5,3283.9 2099.3,3284.1 2102.1,3284.3 2104.9,3284.4 2107.7,3284.6 2110.5,3284.7 2113.3,3284.8 2116.1,3285 2118.9,3285.1 2121.7,3285.3 2124.5,3285.4"/>
<polyline fill="none" stroke="#000" stroke-width="3.8" points="445,3250.4 447.8,3250.5 450.6,3250.5 453.4,3250.5 456.2,3250.5 459,3250.5 461.8,3250.5 464.6,3250.5 467.4,3250.5 470.2,3250.5 473,3250.5 475.8,3250.5 478.6,3250.5 481.4,3250.5 484.2,3250.5 487,3250.5 489.8,3250.5 492.6,3250.5 495.4,3250.5 498.2,3250.5 501,3250.5 503.8,3250.5 506.6,3250.5 509.4,3250.5 512.2,3250.5 515,3250.5 517.8,3250.5 520.6,3250.5 523.4,3250.5 526.2,3250.5 529,3250.5 531.8,3250.5 534.6,3250.5 537.4,3250.5 540.2,3250.5 543,3250.6 545.8,3250.6 548.6,3250.6 551.4,3250.6 554.2,3250.6 557,3250.6 559.8,3250.6 562.6,3250.6 565.4,3250.6 568.2,3250.6 571,3250.6 573.8,3250.6 576.6,3250.6 579.4,3250.6 582.2,3250.6 585,3250.6 587.8,3250.6 590.6,3250.6 593.4,3250.6 596.2,3250.6 599,3250.6 601.8,3250.7 604.6,3250.7 607.4,3250.7 610.2,3250.7 612.9,3250.7 615.7,3250.7 618.5,3250.7 621.3,3250.7 624.1,3250.7 626.9,3250.7 629.7,3250.7 632.5,3250.7 635.3,3250.7 638.1,3250.7 640.9,3250.7 643.7,3250.7 646.5,3250.7 649.3,3250.8 652.1,3250.8 654.9,3250.8 657.7,3250.8 660.5,3250.8 663.3,3250.8 666.1,3250.8 668.9,3250.8 671.7,3250.8 674.5,3250.8 677.3,3250.8 680.1,3250.8 682.9,3250.9 685.7,3250.9 688.5,3250.9 691.3,3250.9 694.1,3250.9 696.9,3250.9 699.7,3250.9 702.5,3250.9 705.3,3250.9 708.1,3250.9 710.9,3250.9 713.7,3251 716.5,3251 719.3,3251 722.1,3251 724.9,3251 727.7,3251 730.5,3251 733.3,3251 736.1,3251 738.9,3251.1 741.7,3251.1 744.5,3251.1 747.3,3251.1 750.1,3251.1 752.9,3251.1 755.7,3251.1 758.5,3251.1 761.3,3251.1 764.1,3251.2 766.9,3251.2 769.7,3251.2 772.5,3251.2 775.3,3251.2 778.1,3251.2 780.9,3251.2 783.7,3251.3 786.5,3251.3 789.3,3251.3 792.1,3251.3 794.9,3251.3 797.7,3251.3 800.5,3251.4 803.3,3251.4 806.1,3251.4 808.9,3251.4 811.7,3251.4 814.5,3251.4 817.3,3251.5 820.1,3251.5 822.9,3251.5 825.7,3251.5 828.5,3251.5 831.3,3251.5 834.1,3251.6 836.9,3251.6 839.7,3251.6 842.5,3251.6 845.3,3251.6 848.1,3251.7 850.9,3251.7 853.7,3251.7 856.5,3251.7 859.3,3251.7 862.1,3251.8 864.9,3251.8 867.7,3251.8 870.5,3251.8 873.3,3251.8 876.1,3251.9 878.9,3251.9 881.7,3251.9 884.5,3251.9 887.3,3252 890.1,3252 892.9,3252 895.7,3252 898.5,3252.1 901.3,3252.1 904.1,3252.1 906.9,3252.1 909.7,3252.2 912.5,3252.2 915.3,3252.2 918.1,3252.3 920.9,3252.3 923.7,3252.3 926.5,3252.3 929.3,3252.4 932.1,3252.4 934.9,3252.4 937.7,3252.5 940.5,3252.5 943.3,3252.5 946.1,3252.5 948.8,3252.6 951.6,3252.6 954.4,3252.6 957.2,3252.7 960,3252.7 962.8,3252.7 965.6,3252.8 968.4,3252.8 971.2,3252.8 974,3252.9 976.8,3252.9 979.6,3252.9 982.4,3253 985.2,3253 988,3253 990.8,3253.1 993.6,3253.1 996.4,3253.2 999.2,3253.2 1002,3253.2 1004.8,3253.3 1007.6,3253.3 1010.4,3253.3 1013.2,3253.4 1016,3253.4 1018.8,3253.5 1021.6,3253.5 1024.4,3253.5 1027.2,3253.6 1030,3253.6 1032.8,3253.7 1035.6,3253.7 1038.4,3253.8 1041.2,3253.8 1044,3253.8 1046.8,3253.9 1049.6,3253.9 1052.4,3254 1055.2,3254 1058,3254.1 1060.8,3254.1 1063.6,3254.1 1066.4,3254.2 1069.2,3254.2 1072,3254.3 1074.8,3254.3 1077.6,3254.4 1080.4,3254.4 1083.2,3254.5 1086,3254.5 1088.8,3254.6 1091.6,3254.6 1094.4,3254.7 1097.2,3254.7 1100,3254.8 1102.8,3254.8 1105.6,3254.9 1108.4,3254.9 1111.2,3255 1114,3255 1116.8,3255.1 1119.6,3255.1 1122.4,3255.2 1125.2,3255.2 1128,3255.3 1130.8,3255.3 1133.6,3255.4 1136.4,3255.4 1139.2,3255.5 1142,3255.5 1144.8,3255.6 1147.6,3255.6 1150.4,3255.7 1153.2,3255.7 1156,3255.8 1158.8,3255.9 1161.6,3255.9 1164.4,3256 1167.2,3256 1170,3256.1 1172.8,3256.1 1175.6,3256.2 1178.4,3256.2 1181.2,3256.3 1184,3256.4 1186.8,3256.4 1189.6,3256.5 1192.4,3256.5 1195.2,3256.6 1198,3256.6 1200.8,3256.7 1203.6,3256.7 1206.4,3256.8 1209.2,3256.9 1212,3256.9 1214.8,3257 1217.6,3257 1220.4,3257.1 1223.2,3257.1 1226,3257.2 1228.8,3257.2 1231.6,3257.3 1234.4,3257.4 1237.2,3257.4 1240,3257.5 1242.8,3257.5 1245.6,3257.6 1248.4,3257.6 1251.2,3257.7 1254,3257.8 1256.8,3257.8 1259.6,3257.9 1262.4,3257.9 1265.2,3258 1268,3258 1270.8,3258.1 1273.6,3258.2 1276.4,3258.2 1279.2,3258.3 1282,3258.3 1284.7,3258.4 1287.5,3258.4 1290.3,3258.5 1293.1,3258.6 1295.9,3258.6 1298.7,3258.7 1301.5,3258.7 1304.3,3258.8 1307.1,3258.8 1309.9,3258.9 1312.7,3259 1315.5,3259 1318.3,3259.1 1321.1,3259.1 1323.9,3259.2 1326.7,3259.3 1329.5,3259.3 1332.3,3259.4 1335.1,3259.4 1337.9,3259.5 1340.7,3259.6 1343.5,3259.6 1346.3,3259.7 1349.1,3259.8 1351.9,3259.8 1354.7,3259.9 1357.5,3259.9 1360.3,3260 1363.1,3260.1 1365.9,3260.2 1368.7,3260.2 1371.5,3260.3 1374.3,3260.4 1377.1,3260.4 1379.9,3260.5 1382.7,3260.6 1385.5,3260.7 1388.3,3260.7 1391.1,3260.8 1393.9,3260.9 1396.7,3261 1399.5,3261.1 1402.3,3261.2 1405.1,3261.2 1407.9,3261.3 1410.7,3261.4 1413.5,3261.5 1416.3,3261.6 1419.1,3261.7 1421.9,3261.8 1424.7,3261.9 1427.5,3262.1 1430.3,3262.2 1433.1,3262.3 1435.9,3262.4 1438.7,3262.5 1441.5,3262.7 1444.3,3262.8 1447.1,3263 1449.9,3263.1 1452.7,3263.3 1455.5,3263.4 1458.3,3263.6 1461.1,3263.8 1463.9,3263.9 1466.7,3264.1 1469.5,3264.3 1472.3,3264.5 1475.1,3264.7 1477.9,3264.9 1480.7,3265.1 1483.5,3265.4 1486.3,3265.6 1489.1,3265.9 1491.9,3266.1 1494.7,3266.4 1497.5,3266.7 1500.3,3267 1503.1,3267.3 1505.9,3267.6 1508.7,3267.9 1511.5,3268.2 1514.3,3268.6 1517.1,3268.9 1519.9,3269.3 1522.7,3269.7 1525.5,3270 1528.3,3270.4 1531.1,3270.8 1533.9,3271.3 1536.7,3271.7 1539.5,3272.1 1542.3,3272.6 1545.1,3273 1547.9,3273.5 1550.7,3274 1553.5,3274.5 1556.3,3275 1559.1,3275.5 1561.9,3276 1564.7,3276.5 1567.5,3277 1570.3,3277.5 1573.1,3278.1 1575.9,3278.6 1578.7,3279.2 1581.5,3279.7 1584.3,3280.2 1587.1,3280.8 1589.9,3281.3 1592.7,3281.9 1595.5,3282.4 1598.3,3282.9 1601.1,3283.5 1603.9,3284 1606.7,3284.5 1609.5,3285 1612.3,3285.5 1615.1,3286 1617.9,3286.5 1620.6,3287 1623.4,3287.5 1626.2,3287.9 1629,3288.4 1631.8,3288.8 1634.6,3289.2 1637.4,3289.7 1640.2,3290.1 1643,3290.5 1645.8,3290.8 1648.6,3291.2 1651.4,3291.6 1654.2,3291.9 1657,3292.3 1659.8,3292.6 1662.6,3292.9 1665.4,3293.2 1668.2,3293.5 1671,3293.8 1673.8,3294.1 1676.6,3294.3 1679.4,3294.6 1682.2,3294.8 1685,3295.1 1687.8,3295.3 1690.6,3295.5 1693.4,3295.7 1696.2,3295.9 1699,3296.1 1701.8,3296.2 1704.6,3296.4 1707.4,3296.6 1710.2,3296.7 1713,3296.9 1715.8,3297 1718.6,3297.2 1721.4,3297.3 1724.2,3297.4 1727,3297.5 1729.8,3297.6 1732.6,3297.7 1735.4,3297.8 1738.2,3297.9 1741,3298 1743.8,3298.1 1746.6,3298.2 1749.4,3298.3 1752.2,3298.4 1755,3298.4 1757.8,3298.5 1760.6,3298.6 1763.4,3298.6 1766.2,3298.7 1769,3298.7 1771.8,3298.8 1774.6,3298.8 1777.4,3298.9 1780.2,3298.9 1783,3299 1785.8,3299 1788.6,3299.1 1791.4,3299.1 1794.2,3299.1 1797,3299.2 1799.8,3299.2 1802.6,3299.2 1805.4,3299.3 1808.2,3299.3 1811,3299.3 1813.8,3299.3 1816.6,3299.4 1819.4,3299.4 1822.2,3299.4 1825,3299.4 1827.8,3299.5 1830.6,3299.5 1833.4,3299.5 1836.2,3299.5 1839,3299.5 1841.8,3299.6 1844.6,3299.6 1847.4,3299.6 1850.2,3299.6 1853,3299.6 1855.8,3299.6 1858.6,3299.6 1861.4,3299.6 1864.2,3299.7 1867,3299.7 1869.8,3299.7 1872.6,3299.7 1875.4,3299.7 1878.2,3299.7 1881,3299.7 1883.8,3299.7 1886.6,3299.7 1889.4,3299.7 1892.2,3299.8 1895,3299.8 1897.8,3299.8 1900.6,3299.8 1903.4,3299.8 1906.2,3299.8 1909,3299.8 1911.8,3299.8 1914.6,3299.8 1917.4,3299.8 1920.2,3299.8 1923,3299.8 1925.8,3299.8 1928.6,3299.8 1931.4,3299.8 1934.2,3299.8 1937,3299.8 1939.8,3299.9 1942.6,3299.9 1945.4,3299.9 1948.2,3299.9 1951,3299.9 1953.8,3299.9 1956.5,3299.9 1959.3,3299.9 1962.1,3299.9 1964.9,3299.9 1967.7,3299.9 1970.5,3299.9 1973.3,3299.9 1976.1,3299.9 1978.9,3299.9 1981.7,3299.9 1984.5,3299.9 1987.3,3299.9 1990.1,3299.9 1992.9,3299.9 1995.7,3299.9 1998.5,3299.9 2001.3,3299.9 2004.1,3299.9 2006.9,3299.9 2009.7,3299.9 2012.5,3299.9 2015.3,3299.9 2018.1,3299.9 2020.9,3299.9 2023.7,3299.9 2026.5,3299.9 2029.3,3299.9 2032.1,3299.9 2034.9,3300 2037.7,3300 2040.5,3300 2043.3,3300 2046.1,3300 2048.9,3300 2051.7,3300 2054.5,3300 2057.3,3300 2060.1,3300 2062.9,3300 2065.7,3300 2068.5,3300 2071.3,3300 2074.1,3300 2076.9,3300 2079.7,3300 2082.5,3300 2085.3,3300 2088.1,3300 2090.9,3300 2093.7,3300 2096.5,3300 2099.3,3300 2102.1,3300 2104.9,3300 2107.7,3300 2110.5,3300 2113.3,3300 2116.1,3300 2118.9,3300 2121.7,3300 2124.5,3300"/>
<polyline fill="none" stroke="#808000" stroke-width="3.2" stroke-linejoin="round" points="445,3247.2 447.8,3247.2 450.6,3247.2 453.4,3247.2 456.2,3247.2 459,3247.2 461.8,3247.1 464.6,3247.1 467.4,3247.1 470.2,3247.1 473,3247.1 475.8,3247.1 478.6,3247.1 481.4,3247 484.2,3247 487,3247 489.8,3247 492.6,3247 495.4,3247 498.2,3247 501,3246.9 503.8,3246.9 506.6,3246.9 509.4,3246.9 512.2,3246.9 515,3246.9 517.8,3246.8 520.6,3246.8 523.4,3246.8 526.2,3246.8 529,3246.8 531.8,3246.8 534.6,3246.7 537.4,3246.7 540.2,3246.7 543,3246.7 545.8,3246.7 548.6,3246.7 551.4,3246.6 554.2,3246.6 557,3246.6 559.8,3246.6 562.6,3246.6 565.4,3246.6 568.2,3246.5 571,3246.5 573.8,3246.5 576.6,3246.5 579.4,3246.5 582.2,3246.5 585,3246.4 587.8,3246.4 590.6,3246.4 593.4,3246.4 596.2,3246.4 599,3246.3 601.8,3246.3 604.6,3246.3 607.4,3246.3 610.2,3246.3 612.9,3246.2 615.7,3246.2 618.5,3246.2 621.3,3246.2 624.1,3246.2 626.9,3246.1 629.7,3246.1 632.5,3246.1 635.3,3246.1 638.1,3246.1 640.9,3246 643.7,3246 646.5,3246 649.3,3246 652.1,3246 654.9,3245.9 657.7,3245.9 660.5,3245.9 663.3,3245.9 666.1,3245.8 668.9,3245.8 671.7,3245.8 674.5,3245.8 677.3,3245.8 680.1,3245.7 682.9,3245.7 685.7,3245.7 688.5,3245.7 691.3,3245.6 694.1,3245.6 696.9,3245.6 699.7,3245.6 702.5,3245.5 705.3,3245.5 708.1,3245.5 710.9,3245.5 713.7,3245.4 716.5,3245.4 719.3,3245.4 722.1,3245.4 724.9,3245.3 727.7,3245.3 730.5,3245.3 733.3,3245.3 736.1,3245.2 738.9,3245.2 741.7,3245.2 744.5,3245.2 747.3,3245.1 750.1,3245.1 752.9,3245.1 755.7,3245.1 758.5,3245 761.3,3245 764.1,3245 766.9,3244.9 769.7,3244.9 772.5,3244.9 775.3,3244.9 778.1,3244.8 780.9,3244.8 783.7,3244.8 786.5,3244.7 789.3,3244.7 792.1,3244.7 794.9,3244.6 797.7,3244.6 800.5,3244.6 803.3,3244.5 806.1,3244.5 808.9,3244.5 811.7,3244.4 814.5,3244.4 817.3,3244.4 820.1,3244.3 822.9,3244.3 825.7,3244.3 828.5,3244.2 831.3,3244.2 834.1,3244.2 836.9,3244.1 839.7,3244.1 842.5,3244.1 845.3,3244 848.1,3244 850.9,3243.9 853.7,3243.9 856.5,3243.9 859.3,3243.8 862.1,3243.8 864.9,3243.8 867.7,3243.7 870.5,3243.7 873.3,3243.6 876.1,3243.6 878.9,3243.5 881.7,3243.5 884.5,3243.5 887.3,3243.4 890.1,3243.4 892.9,3243.3 895.7,3243.3 898.5,3243.2 901.3,3243.2 904.1,3243.1 906.9,3243.1 909.7,3243.1 912.5,3243 915.3,3243 918.1,3242.9 920.9,3242.9 923.7,3242.8 926.5,3242.8 929.3,3242.7 932.1,3242.6 934.9,3242.6 937.7,3242.5 940.5,3242.5 943.3,3242.4 946.1,3242.4 948.8,3242.3 951.6,3242.3 954.4,3242.2 957.2,3242.1 960,3242.1 962.8,3242 965.6,3242 968.4,3241.9 971.2,3241.8 974,3241.8 976.8,3241.7 979.6,3241.6 982.4,3241.6 985.2,3241.5 988,3241.4 990.8,3241.3 993.6,3241.3 996.4,3241.2 999.2,3241.1 1002,3241.1 1004.8,3241 1007.6,3240.9 1010.4,3240.8 1013.2,3240.7 1016,3240.6 1018.8,3240.6 1021.6,3240.5 1024.4,3240.4 1027.2,3240.3 1030,3240.2 1032.8,3240.1 1035.6,3240 1038.4,3239.9 1041.2,3239.8 1044,3239.7 1046.8,3239.6 1049.6,3239.5 1052.4,3239.4 1055.2,3239.3 1058,3239.2 1060.8,3239.1 1063.6,3239 1066.4,3238.9 1069.2,3238.8 1072,3238.6 1074.8,3238.5 1077.6,3238.4 1080.4,3238.3 1083.2,3238.1 1086,3238 1088.8,3237.9 1091.6,3237.7 1094.4,3237.6 1097.2,3237.5 1100,3237.3 1102.8,3237.2 1105.6,3237 1108.4,3236.9 1111.2,3236.7 1114,3236.5 1116.8,3236.4 1119.6,3236.2 1122.4,3236 1125.2,3235.9 1128,3235.7 1130.8,3235.5 1133.6,3235.3 1136.4,3235.1 1139.2,3234.9 1142,3234.7 1144.8,3234.5 1147.6,3234.3 1150.4,3234.1 1153.2,3233.9 1156,3233.6 1158.8,3233.4 1161.6,3233.2 1164.4,3232.9 1167.2,3232.7 1170,3232.5 1172.8,3232.2 1175.6,3231.9 1178.4,3231.7 1181.2,3231.4 1184,3231.1 1186.8,3230.8 1189.6,3230.5 1192.4,3230.2 1195.2,3229.9 1198,3229.6 1200.8,3229.3 1203.6,3228.9 1206.4,3228.6 1209.2,3228.3 1212,3227.9 1214.8,3227.5 1217.6,3227.2 1220.4,3226.8 1223.2,3226.4 1226,3226 1228.8,3225.6 1231.6,3225.2 1234.4,3224.7 1237.2,3224.3 1240,3223.8 1242.8,3223.3 1245.6,3222.9 1248.4,3222.4 1251.2,3221.9 1254,3221.4 1256.8,3220.8 1259.6,3220.3 1262.4,3219.7 1265.2,3219.1 1268,3218.5 1270.8,3217.9 1273.6,3217.3 1276.4,3216.7 1279.2,3216 1282,3215.3 1284.7,3214.6 1287.5,3213.9 1290.3,3213.2 1293.1,3212.4 1295.9,3211.6 1298.7,3210.8 1301.5,3210 1304.3,3209.2 1307.1,3208.3 1309.9,3207.4 1312.7,3206.5 1315.5,3205.5 1318.3,3204.5 1321.1,3203.5 1323.9,3202.4 1326.7,3201.4 1329.5,3200.2 1332.3,3199.1 1335.1,3197.9 1337.9,3196.7 1340.7,3195.4 1343.5,3194.1 1346.3,3192.7 1349.1,3191.3 1351.9,3189.9 1354.7,3188.4 1357.5,3186.8 1360.3,3185.2 1363.1,3183.5 1365.9,3181.7 1368.7,3179.9 1371.5,3178.1 1374.3,3176.1 1377.1,3174.1 1379.9,3172 1382.7,3169.8 1385.5,3167.5 1388.3,3165.1 1391.1,3162.6 1393.9,3160 1396.7,3157.3 1399.5,3154.5 1402.3,3151.5 1405.1,3148.5 1407.9,3145.2 1410.7,3141.9 1413.5,3138.4 1416.3,3134.7 1419.1,3130.9 1421.9,3126.9 1424.7,3122.7 1427.5,3118.3 1430.3,3113.7 1433.1,3108.9 1435.9,3103.8 1438.7,3098.6 1441.5,3093.1 1444.3,3087.3 1447.1,3081.3 1449.9,3075 1452.7,3068.4 1455.5,3061.5 1458.3,3054.3 1461.1,3046.8 1463.9,3038.9 1466.7,3030.7 1469.5,3022.2 1472.3,3013.2 1475.1,3003.9 1477.9,2994.3 1480.7,2984.2 1483.5,2973.7 1486.3,2962.8 1489.1,2951.5 1491.9,2939.8 1494.7,2927.6 1497.5,2915 1500.3,2902 1503.1,2888.6 1505.9,2874.7 1508.7,2860.5 1511.5,2845.8 1514.3,2830.7 1517.1,2815.3 1519.9,2799.6 1522.7,2783.5 1525.5,2767.2 1528.3,2750.6 1531.1,2733.9 1533.9,2717.2 1536.7,2700.3 1539.5,2683.6 1542.3,2667 1545.1,2650.6 1547.9,2634.6 1550.7,2619.1 1553.5,2604.2 1556.3,2590 1559.1,2576.6 1561.9,2564.3 1564.7,2553.1 1567.5,2543.2 1570.3,2534.7 1573.1,2527.6 1575.9,2522.1 1578.7,2518.3 1581.5,2516.2 1584.3,2515.9 1587.1,2517.3 1589.9,2520.5 1592.7,2525.4 1595.5,2531.9 1598.3,2540 1601.1,2549.6 1603.9,2560.6 1606.7,2572.8 1609.5,2586.2 1612.3,2600.5 1615.1,2615.7 1617.9,2631.6 1620.6,2648.1 1623.4,2665 1626.2,2682.3 1629,2699.8 1631.8,2717.5 1634.6,2735.1 1637.4,2752.8 1640.2,2770.3 1643,2787.6 1645.8,2804.7 1648.6,2821.5 1651.4,2838 1654.2,2854.1 1657,2869.8 1659.8,2885.2 1662.6,2900.1 1665.4,2914.6 1668.2,2928.6 1671,2942.2 1673.8,2955.3 1676.6,2968 1679.4,2980.2 1682.2,2992 1685,3003.4 1687.8,3014.3 1690.6,3024.8 1693.4,3034.9 1696.2,3044.6 1699,3053.9 1701.8,3062.8 1704.6,3071.4 1707.4,3079.6 1710.2,3087.4 1713,3094.9 1715.8,3102.1 1718.6,3109 1721.4,3115.6 1724.2,3121.9 1727,3127.9 1729.8,3133.7 1732.6,3139.2 1735.4,3144.4 1738.2,3149.4 1741,3154.2 1743.8,3158.8 1746.6,3163.2 1749.4,3167.4 1752.2,3171.4 1755,3175.3 1757.8,3179 1760.6,3182.5 1763.4,3185.8 1766.2,3189.1 1769,3192.1 1771.8,3195.1 1774.6,3197.9 1777.4,3200.7 1780.2,3203.3 1783,3205.8 1785.8,3208.2 1788.6,3210.5 1791.4,3212.7 1794.2,3214.9 1797,3216.9 1799.8,3218.9 1802.6,3220.8 1805.4,3222.7 1808.2,3224.4 1811,3226.2 1813.8,3227.8 1816.6,3229.4 1819.4,3231 1822.2,3232.5 1825,3233.9 1827.8,3235.3 1830.6,3236.6 1833.4,3238 1836.2,3239.2 1839,3240.5 1841.8,3241.7 1844.6,3242.8 1847.4,3243.9 1850.2,3245 1853,3246.1 1855.8,3247.1 1858.6,3248.1 1861.4,3249.1 1864.2,3250 1867,3251 1869.8,3251.8 1872.6,3252.7 1875.4,3253.6 1878.2,3254.4 1881,3255.2 1883.8,3256 1886.6,3256.7 1889.4,3257.5 1892.2,3258.2 1895,3258.9 1897.8,3259.6 1900.6,3260.3 1903.4,3260.9 1906.2,3261.6 1909,3262.2 1911.8,3262.8 1914.6,3263.4 1917.4,3264 1920.2,3264.6 1923,3265.1 1925.8,3265.6 1928.6,3266.2 1931.4,3266.7 1934.2,3267.2 1937,3267.7 1939.8,3268.2 1942.6,3268.7 1945.4,3269.1 1948.2,3269.6 1951,3270 1953.8,3270.4 1956.5,3270.9 1959.3,3271.3 1962.1,3271.7 1964.9,3272.1 1967.7,3272.5 1970.5,3272.9 1973.3,3273.2 1976.1,3273.6 1978.9,3274 1981.7,3274.3 1984.5,3274.7 1987.3,3275 1990.1,3275.3 1992.9,3275.7 1995.7,3276 1998.5,3276.3 2001.3,3276.6 2004.1,3276.9 2006.9,3277.2 2009.7,3277.5 2012.5,3277.8 2015.3,3278.1 2018.1,3278.3 2020.9,3278.6 2023.7,3278.9 2026.5,3279.1 2029.3,3279.4 2032.1,3279.6 2034.9,3279.9 2037.7,3280.1 2040.5,3280.4 2043.3,3280.6 2046.1,3280.8 2048.9,3281 2051.7,3281.3 2054.5,3281.5 2057.3,3281.7 2060.1,3281.9 2062.9,3282.1 2065.7,3282.3 2068.5,3282.5 2071.3,3282.7 2074.1,3282.9 2076.9,3283.1 2079.7,3283.3 2082.5,3283.5 2085.3,3283.6 2088.1,3283.8 2090.9,3284 2093.7,3284.2 2096.5,3284.3 2099.3,3284.5 2102.1,3284.7 2104.9,3284.8 2107.7,3285 2110.5,3285.1 2113.3,3285.3 2116.1,3285.4 2118.9,3285.6 2121.7,3285.7 2124.5,3285.9"/>
<g fill="#fff" stroke="#808000" stroke-width="3" stroke-linejoin="miter"><path d="M425.5 3258.4L445 3224.9L464.5 3258.4Z"/><path d="M439.5 3258.4L459 3224.9L478.5 3258.4Z"/><path d="M453.5 3258.3L473 3224.8L492.5 3258.3Z"/><path d="M467.5 3258.2L487 3224.7L506.5 3258.2Z"/><path d="M481.5 3258.1L501 3224.6L520.5 3258.1Z"/><path d="M495.5 3258.1L515 3224.6L534.5 3258.1Z"/><path d="M509.5 3258L529 3224.5L548.5 3258Z"/><path d="M523.5 3257.9L543 3224.4L562.5 3257.9Z"/><path d="M537.5 3257.8L557 3224.3L576.5 3257.8Z"/><path d="M551.5 3257.7L571 3224.2L590.5 3257.7Z"/><path d="M565.5 3257.6L585 3224.1L604.5 3257.6Z"/><path d="M579.5 3257.5L599 3224L618.5 3257.5Z"/><path d="M593.5 3257.4L613 3223.9L632.5 3257.4Z"/><path d="M607.4 3257.3L626.9 3223.8L646.4 3257.3Z"/><path d="M621.4 3257.2L640.9 3223.7L660.4 3257.2Z"/><path d="M635.4 3257.1L654.9 3223.6L674.4 3257.1Z"/><path d="M649.4 3257L668.9 3223.5L688.4 3257Z"/><path d="M663.4 3256.9L682.9 3223.4L702.4 3256.9Z"/><path d="M677.4 3256.8L696.9 3223.3L716.4 3256.8Z"/><path d="M691.4 3256.7L710.9 3223.2L730.4 3256.7Z"/><path d="M705.4 3256.5L724.9 3223L744.4 3256.5Z"/><path d="M719.4 3256.4L738.9 3222.9L758.4 3256.4Z"/><path d="M733.4 3256.3L752.9 3222.8L772.4 3256.3Z"/><path d="M747.4 3256.1L766.9 3222.6L786.4 3256.1Z"/><path d="M761.4 3256L780.9 3222.5L800.4 3256Z"/><path d="M775.4 3255.8L794.9 3222.3L814.4 3255.8Z"/><path d="M789.4 3255.7L808.9 3222.2L828.4 3255.7Z"/><path d="M803.4 3255.5L822.9 3222L842.4 3255.5Z"/><path d="M817.4 3255.3L836.9 3221.8L856.4 3255.3Z"/><path d="M831.4 3255.1L850.9 3221.6L870.4 3255.1Z"/><path d="M845.4 3255L864.9 3221.5L884.4 3255Z"/><path d="M859.4 3254.7L878.9 3221.2L898.4 3254.7Z"/><path d="M873.4 3254.5L892.9 3221L912.4 3254.5Z"/><path d="M887.4 3254.3L906.9 3220.8L926.4 3254.3Z"/><path d="M901.4 3254.1L920.9 3220.6L940.4 3254.1Z"/><path d="M915.4 3253.8L934.9 3220.3L954.4 3253.8Z"/><path d="M929.4 3253.5L948.9 3220L968.4 3253.5Z"/><path d="M943.3 3253.2L962.8 3219.7L982.3 3253.2Z"/><path d="M957.3 3252.9L976.8 3219.4L996.3 3252.9Z"/><path d="M971.3 3252.5L990.8 3219L1010.3 3252.5Z"/><path d="M985.3 3252.2L1004.8 3218.7L1024.3 3252.2Z"/><path d="M999.3 3251.8L1018.8 3218.3L1038.3 3251.8Z"/><path d="M1013.3 3251.3L1032.8 3217.8L1052.3 3251.3Z"/><path d="M1027.3 3250.8L1046.8 3217.3L1066.3 3250.8Z"/><path d="M1041.3 3250.3L1060.8 3216.8L1080.3 3250.3Z"/><path d="M1055.3 3249.7L1074.8 3216.2L1094.3 3249.7Z"/><path d="M1069.3 3249.1L1088.8 3215.6L1108.3 3249.1Z"/><path d="M1083.3 3248.4L1102.8 3214.9L1122.3 3248.4Z"/><path d="M1097.3 3247.6L1116.8 3214.1L1136.3 3247.6Z"/><path d="M1111.3 3246.7L1130.8 3213.2L1150.3 3246.7Z"/><path d="M1125.3 3245.7L1144.8 3212.2L1164.3 3245.7Z"/><path d="M1139.3 3244.6L1158.8 3211.1L1178.3 3244.6Z"/><path d="M1153.3 3243.4L1172.8 3209.9L1192.3 3243.4Z"/><path d="M1167.3 3242L1186.8 3208.5L1206.3 3242Z"/><path d="M1181.3 3240.5L1200.8 3207L1220.3 3240.5Z"/><path d="M1195.3 3238.7L1214.8 3205.2L1234.3 3238.7Z"/><path d="M1209.3 3236.8L1228.8 3203.3L1248.3 3236.8Z"/><path d="M1223.3 3234.5L1242.8 3201L1262.3 3234.5Z"/><path d="M1237.3 3232L1256.8 3198.5L1276.3 3232Z"/><path d="M1251.3 3229.1L1270.8 3195.6L1290.3 3229.1Z"/><path d="M1265.3 3225.8L1284.8 3192.3L1304.3 3225.8Z"/><path d="M1279.2 3222L1298.7 3188.5L1318.2 3222Z"/><path d="M1293.2 3217.7L1312.7 3184.2L1332.2 3217.7Z"/><path d="M1307.2 3212.6L1326.7 3179.1L1346.2 3212.6Z"/><path d="M1321.2 3206.6L1340.7 3173.1L1360.2 3206.6Z"/><path d="M1335.2 3199.6L1354.7 3166.1L1374.2 3199.6Z"/><path d="M1349.2 3191.1L1368.7 3157.6L1388.2 3191.1Z"/><path d="M1363.2 3181L1382.7 3147.5L1402.2 3181Z"/><path d="M1377.2 3168.5L1396.7 3135L1416.2 3168.5Z"/><path d="M1391.2 3153.1L1410.7 3119.6L1430.2 3153.1Z"/><path d="M1405.2 3133.9L1424.7 3100.4L1444.2 3133.9Z"/><path d="M1419.2 3109.8L1438.7 3076.3L1458.2 3109.8Z"/><path d="M1433.2 3079.6L1452.7 3046.1L1472.2 3079.6Z"/><path d="M1447.2 3041.9L1466.7 3008.4L1486.2 3041.9Z"/><path d="M1461.2 2995.4L1480.7 2961.9L1500.2 2995.4Z"/><path d="M1475.2 2938.8L1494.7 2905.3L1514.2 2938.8Z"/><path d="M1489.2 2871.7L1508.7 2838.2L1528.2 2871.7Z"/><path d="M1503.2 2794.7L1522.7 2761.2L1542.2 2794.7Z"/><path d="M1517.2 2711.5L1536.7 2678L1556.2 2711.5Z"/><path d="M1531.2 2630.3L1550.7 2596.8L1570.2 2630.3Z"/><path d="M1545.2 2564.3L1564.7 2530.8L1584.2 2564.3Z"/><path d="M1559.2 2529.5L1578.7 2496L1598.2 2529.5Z"/><path d="M1573.2 2536.6L1592.7 2503.1L1612.2 2536.6Z"/><path d="M1587.2 2584L1606.7 2550.5L1626.2 2584Z"/><path d="M1601.2 2659.3L1620.7 2625.8L1640.2 2659.3Z"/><path d="M1615.1 2746.3L1634.6 2712.8L1654.1 2746.3Z"/><path d="M1629.1 2832.7L1648.6 2799.2L1668.1 2832.7Z"/><path d="M1643.1 2911.3L1662.6 2877.8L1682.1 2911.3Z"/><path d="M1657.1 2979.2L1676.6 2945.7L1696.1 2979.2Z"/><path d="M1671.1 3036L1690.6 3002.5L1710.1 3036Z"/><path d="M1685.1 3082.6L1704.6 3049.1L1724.1 3082.6Z"/><path d="M1699.1 3120.2L1718.6 3086.7L1738.1 3120.2Z"/><path d="M1713.1 3150.4L1732.6 3116.9L1752.1 3150.4Z"/><path d="M1727.1 3174.4L1746.6 3140.9L1766.1 3174.4Z"/><path d="M1741.1 3193.7L1760.6 3160.2L1780.1 3193.7Z"/><path d="M1755.1 3209.1L1774.6 3175.6L1794.1 3209.1Z"/><path d="M1769.1 3221.7L1788.6 3188.2L1808.1 3221.7Z"/><path d="M1783.1 3232L1802.6 3198.5L1822.1 3232Z"/><path d="M1797.1 3240.6L1816.6 3207.1L1836.1 3240.6Z"/><path d="M1811.1 3247.8L1830.6 3214.3L1850.1 3247.8Z"/><path d="M1825.1 3254L1844.6 3220.5L1864.1 3254Z"/><path d="M1839.1 3259.3L1858.6 3225.8L1878.1 3259.3Z"/><path d="M1853.1 3263.9L1872.6 3230.4L1892.1 3263.9Z"/><path d="M1867.1 3267.9L1886.6 3234.4L1906.1 3267.9Z"/><path d="M1881.1 3271.5L1900.6 3238L1920.1 3271.5Z"/><path d="M1895.1 3274.6L1914.6 3241.1L1934.1 3274.6Z"/><path d="M1909.1 3277.4L1928.6 3243.9L1948.1 3277.4Z"/><path d="M1923.1 3279.9L1942.6 3246.4L1962.1 3279.9Z"/><path d="M1937.1 3282.1L1956.6 3248.6L1976.1 3282.1Z"/><path d="M1951 3284.1L1970.5 3250.6L1990 3284.1Z"/><path d="M1965 3285.9L1984.5 3252.4L2004 3285.9Z"/><path d="M1979 3287.5L1998.5 3254L2018 3287.5Z"/><path d="M1993 3289L2012.5 3255.5L2032 3289Z"/><path d="M2007 3290.3L2026.5 3256.8L2046 3290.3Z"/><path d="M2021 3291.6L2040.5 3258.1L2060 3291.6Z"/><path d="M2035 3292.7L2054.5 3259.2L2074 3292.7Z"/><path d="M2049 3293.7L2068.5 3260.2L2088 3293.7Z"/><path d="M2063 3294.7L2082.5 3261.2L2102 3294.7Z"/><path d="M2077 3295.5L2096.5 3262L2116 3295.5Z"/><path d="M2091 3296.3L2110.5 3262.8L2130 3296.3Z"/><path d="M2105 3297.1L2124.5 3263.6L2144 3297.1Z"/></g>
<polyline fill="none" stroke="#800000" stroke-width="8.7" stroke-dasharray="11 24.799999999999997" points="445,3244.3 447.8,3244.2 450.6,3244.2 453.4,3244.1 456.2,3244.1 459,3244 461.8,3243.9 464.6,3243.9 467.4,3243.8 470.2,3243.8 473,3243.7 475.8,3243.6 478.6,3243.6 481.4,3243.5 484.2,3243.5 487,3243.4 489.8,3243.3 492.6,3243.3 495.4,3243.2 498.2,3243.1 501,3243.1 503.8,3243 506.6,3242.9 509.4,3242.8 512.2,3242.8 515,3242.7 517.8,3242.6 520.6,3242.6 523.4,3242.5 526.2,3242.4 529,3242.3 531.8,3242.2 534.6,3242.2 537.4,3242.1 540.2,3242 543,3241.9 545.8,3241.8 548.6,3241.8 551.4,3241.7 554.2,3241.6 557,3241.5 559.8,3241.4 562.6,3241.3 565.4,3241.2 568.2,3241.1 571,3241 573.8,3240.9 576.6,3240.8 579.4,3240.7 582.2,3240.6 585,3240.5 587.8,3240.4 590.6,3240.3 593.4,3240.2 596.2,3240.1 599,3240 601.8,3239.9 604.6,3239.8 607.4,3239.7 610.2,3239.6 612.9,3239.5 615.7,3239.3 618.5,3239.2 621.3,3239.1 624.1,3239 626.9,3238.8 629.7,3238.7 632.5,3238.6 635.3,3238.5 638.1,3238.3 640.9,3238.2 643.7,3238.1 646.5,3237.9 649.3,3237.8 652.1,3237.7 654.9,3237.5 657.7,3237.4 660.5,3237.2 663.3,3237.1 666.1,3236.9 668.9,3236.8 671.7,3236.6 674.5,3236.5 677.3,3236.3 680.1,3236.2 682.9,3236 685.7,3235.9 688.5,3235.7 691.3,3235.5 694.1,3235.4 696.9,3235.2 699.7,3235 702.5,3234.8 705.3,3234.7 708.1,3234.5 710.9,3234.3 713.7,3234.1 716.5,3233.9 719.3,3233.8 722.1,3233.6 724.9,3233.4 727.7,3233.2 730.5,3233 733.3,3232.8 736.1,3232.6 738.9,3232.4 741.7,3232.2 744.5,3232 747.3,3231.8 750.1,3231.6 752.9,3231.4 755.7,3231.2 758.5,3231 761.3,3230.8 764.1,3230.6 766.9,3230.3 769.7,3230.1 772.5,3229.9 775.3,3229.7 778.1,3229.5 780.9,3229.3 783.7,3229 786.5,3228.8 789.3,3228.6 792.1,3228.4 794.9,3228.1 797.7,3227.9 800.5,3227.7 803.3,3227.5 806.1,3227.3 808.9,3227 811.7,3226.8 814.5,3226.6 817.3,3226.4 820.1,3226.1 822.9,3225.9 825.7,3225.7 828.5,3225.5 831.3,3225.3 834.1,3225 836.9,3224.8 839.7,3224.6 842.5,3224.4 845.3,3224.2 848.1,3224 850.9,3223.8 853.7,3223.6 856.5,3223.4 859.3,3223.2 862.1,3223 864.9,3222.9 867.7,3222.7 870.5,3222.5 873.3,3222.3 876.1,3222.2 878.9,3222 881.7,3221.9 884.5,3221.7 887.3,3221.6 890.1,3221.4 892.9,3221.3 895.7,3221.2 898.5,3221 901.3,3220.9 904.1,3220.8 906.9,3220.7 909.7,3220.6 912.5,3220.6 915.3,3220.5 918.1,3220.4 920.9,3220.4 923.7,3220.3 926.5,3220.3 929.3,3220.2 932.1,3220.2 934.9,3220.2 937.7,3220.2 940.5,3220.2 943.3,3220.2 946.1,3220.2 948.8,3220.2 951.6,3220.3 954.4,3220.3 957.2,3220.4 960,3220.4 962.8,3220.5 965.6,3220.6 968.4,3220.7 971.2,3220.8 974,3220.9 976.8,3221 979.6,3221.1 982.4,3221.2 985.2,3221.4 988,3221.5 990.8,3221.7 993.6,3221.8 996.4,3222 999.2,3222.2 1002,3222.4 1004.8,3222.5 1007.6,3222.7 1010.4,3222.9 1013.2,3223.1 1016,3223.4 1018.8,3223.6 1021.6,3223.8 1024.4,3224 1027.2,3224.3 1030,3224.5 1032.8,3224.7 1035.6,3225 1038.4,3225.2 1041.2,3225.5 1044,3225.7 1046.8,3226 1049.6,3226.3 1052.4,3226.5 1055.2,3226.8 1058,3227.1 1060.8,3227.4 1063.6,3227.6 1066.4,3227.9 1069.2,3228.2 1072,3228.5 1074.8,3228.8 1077.6,3229.1 1080.4,3229.3 1083.2,3229.6 1086,3229.9 1088.8,3230.2 1091.6,3230.5 1094.4,3230.8 1097.2,3231.1 1100,3231.4 1102.8,3231.6 1105.6,3231.9 1108.4,3232.2 1111.2,3232.5 1114,3232.8 1116.8,3233.1 1119.6,3233.4 1122.4,3233.6 1125.2,3233.9 1128,3234.2 1130.8,3234.5 1133.6,3234.8 1136.4,3235 1139.2,3235.3 1142,3235.6 1144.8,3235.9 1147.6,3236.1 1150.4,3236.4 1153.2,3236.7 1156,3237 1158.8,3237.2 1161.6,3237.5 1164.4,3237.7 1167.2,3238 1170,3238.3 1172.8,3238.5 1175.6,3238.8 1178.4,3239 1181.2,3239.3 1184,3239.5 1186.8,3239.8 1189.6,3240 1192.4,3240.3 1195.2,3240.5 1198,3240.7 1200.8,3241 1203.6,3241.2 1206.4,3241.4 1209.2,3241.7 1212,3241.9 1214.8,3242.1 1217.6,3242.4 1220.4,3242.6 1223.2,3242.8 1226,3243 1228.8,3243.2 1231.6,3243.4 1234.4,3243.7 1237.2,3243.9 1240,3244.1 1242.8,3244.3 1245.6,3244.5 1248.4,3244.7 1251.2,3244.9 1254,3245.1 1256.8,3245.3 1259.6,3245.5 1262.4,3245.7 1265.2,3245.9 1268,3246.1 1270.8,3246.2 1273.6,3246.4 1276.4,3246.6 1279.2,3246.8 1282,3247 1284.7,3247.2 1287.5,3247.3 1290.3,3247.5 1293.1,3247.7 1295.9,3247.9 1298.7,3248 1301.5,3248.2 1304.3,3248.4 1307.1,3248.6 1309.9,3248.7 1312.7,3248.9 1315.5,3249.1 1318.3,3249.2 1321.1,3249.4 1323.9,3249.5 1326.7,3249.7 1329.5,3249.9 1332.3,3250 1335.1,3250.2 1337.9,3250.3 1340.7,3250.5 1343.5,3250.6 1346.3,3250.8 1349.1,3250.9 1351.9,3251.1 1354.7,3251.3 1357.5,3251.4 1360.3,3251.6 1363.1,3251.7 1365.9,3251.9 1368.7,3252 1371.5,3252.2 1374.3,3252.3 1377.1,3252.5 1379.9,3252.6 1382.7,3252.8 1385.5,3252.9 1388.3,3253.1 1391.1,3253.2 1393.9,3253.4 1396.7,3253.5 1399.5,3253.7 1402.3,3253.8 1405.1,3254 1407.9,3254.2 1410.7,3254.3 1413.5,3254.5 1416.3,3254.7 1419.1,3254.8 1421.9,3255 1424.7,3255.2 1427.5,3255.3 1430.3,3255.5 1433.1,3255.7 1435.9,3255.9 1438.7,3256.1 1441.5,3256.3 1444.3,3256.5 1447.1,3256.7 1449.9,3256.9 1452.7,3257.1 1455.5,3257.3 1458.3,3257.5 1461.1,3257.7 1463.9,3258 1466.7,3258.2 1469.5,3258.4 1472.3,3258.7 1475.1,3259 1477.9,3259.2 1480.7,3259.5 1483.5,3259.8 1486.3,3260.1 1489.1,3260.4 1491.9,3260.7 1494.7,3261 1497.5,3261.3 1500.3,3261.6 1503.1,3262 1505.9,3262.3 1508.7,3262.7 1511.5,3263.1 1514.3,3263.5 1517.1,3263.8 1519.9,3264.3 1522.7,3264.7 1525.5,3265.1 1528.3,3265.5 1531.1,3266 1533.9,3266.4 1536.7,3266.9 1539.5,3267.4 1542.3,3267.9 1545.1,3268.4 1547.9,3268.9 1550.7,3269.4 1553.5,3269.9 1556.3,3270.4 1559.1,3271 1561.9,3271.5 1564.7,3272.1 1567.5,3272.6 1570.3,3273.2 1573.1,3273.8 1575.9,3274.3 1578.7,3274.9 1581.5,3275.5 1584.3,3276.1 1587.1,3276.6 1589.9,3277.2 1592.7,3277.8 1595.5,3278.3 1598.3,3278.9 1601.1,3279.5 1603.9,3280 1606.7,3280.6 1609.5,3281.1 1612.3,3281.6 1615.1,3282.2 1617.9,3282.7 1620.6,3283.2 1623.4,3283.7 1626.2,3284.2 1629,3284.7 1631.8,3285.1 1634.6,3285.6 1637.4,3286 1640.2,3286.5 1643,3286.9 1645.8,3287.3 1648.6,3287.7 1651.4,3288.1 1654.2,3288.5 1657,3288.8 1659.8,3289.2 1662.6,3289.5 1665.4,3289.8 1668.2,3290.2 1671,3290.5 1673.8,3290.8 1676.6,3291 1679.4,3291.3 1682.2,3291.6 1685,3291.8 1687.8,3292.1 1690.6,3292.3 1693.4,3292.5 1696.2,3292.7 1699,3293 1701.8,3293.2 1704.6,3293.3 1707.4,3293.5 1710.2,3293.7 1713,3293.9 1715.8,3294 1718.6,3294.2 1721.4,3294.3 1724.2,3294.5 1727,3294.6 1729.8,3294.7 1732.6,3294.9 1735.4,3295 1738.2,3295.1 1741,3295.2 1743.8,3295.3 1746.6,3295.4 1749.4,3295.5 1752.2,3295.6 1755,3295.7 1757.8,3295.8 1760.6,3295.9 1763.4,3295.9 1766.2,3296 1769,3296.1 1771.8,3296.2 1774.6,3296.2 1777.4,3296.3 1780.2,3296.4 1783,3296.4 1785.8,3296.5 1788.6,3296.5 1791.4,3296.6 1794.2,3296.6 1797,3296.7 1799.8,3296.7 1802.6,3296.8 1805.4,3296.8 1808.2,3296.9 1811,3296.9 1813.8,3296.9 1816.6,3297 1819.4,3297 1822.2,3297.1 1825,3297.1 1827.8,3297.1 1830.6,3297.2 1833.4,3297.2 1836.2,3297.2 1839,3297.3 1841.8,3297.3 1844.6,3297.3 1847.4,3297.3 1850.2,3297.4 1853,3297.4 1855.8,3297.4 1858.6,3297.5 1861.4,3297.5 1864.2,3297.5 1867,3297.5 1869.8,3297.5 1872.6,3297.6 1875.4,3297.6 1878.2,3297.6 1881,3297.6 1883.8,3297.7 1886.6,3297.7 1889.4,3297.7 1892.2,3297.7 1895,3297.7 1897.8,3297.7 1900.6,3297.8 1903.4,3297.8 1906.2,3297.8 1909,3297.8 1911.8,3297.8 1914.6,3297.9 1917.4,3297.9 1920.2,3297.9 1923,3297.9 1925.8,3297.9 1928.6,3297.9 1931.4,3297.9 1934.2,3298 1937,3298 1939.8,3298 1942.6,3298 1945.4,3298 1948.2,3298 1951,3298 1953.8,3298.1 1956.5,3298.1 1959.3,3298.1 1962.1,3298.1 1964.9,3298.1 1967.7,3298.1 1970.5,3298.1 1973.3,3298.1 1976.1,3298.2 1978.9,3298.2 1981.7,3298.2 1984.5,3298.2 1987.3,3298.2 1990.1,3298.2 1992.9,3298.2 1995.7,3298.2 1998.5,3298.3 2001.3,3298.3 2004.1,3298.3 2006.9,3298.3 2009.7,3298.3 2012.5,3298.3 2015.3,3298.3 2018.1,3298.3 2020.9,3298.3 2023.7,3298.3 2026.5,3298.4 2029.3,3298.4 2032.1,3298.4 2034.9,3298.4 2037.7,3298.4 2040.5,3298.4 2043.3,3298.4 2046.1,3298.4 2048.9,3298.4 2051.7,3298.4 2054.5,3298.5 2057.3,3298.5 2060.1,3298.5 2062.9,3298.5 2065.7,3298.5 2068.5,3298.5 2071.3,3298.5 2074.1,3298.5 2076.9,3298.5 2079.7,3298.5 2082.5,3298.5 2085.3,3298.5 2088.1,3298.6 2090.9,3298.6 2093.7,3298.6 2096.5,3298.6 2099.3,3298.6 2102.1,3298.6 2104.9,3298.6 2107.7,3298.6 2110.5,3298.6 2113.3,3298.6 2116.1,3298.6 2118.9,3298.6 2121.7,3298.6 2124.5,3298.7"/>
<polyline fill="none" stroke="#008000" stroke-width="8.8" stroke-dasharray="39 29 1.8 29" stroke-dashoffset="96" points="445,3249.7 447.8,3249.7 450.6,3249.7 453.4,3249.7 456.2,3249.7 459,3249.7 461.8,3249.7 464.6,3249.6 467.4,3249.6 470.2,3249.6 473,3249.6 475.8,3249.6 478.6,3249.6 481.4,3249.6 484.2,3249.6 487,3249.6 489.8,3249.6 492.6,3249.6 495.4,3249.6 498.2,3249.6 501,3249.6 503.8,3249.6 506.6,3249.6 509.4,3249.6 512.2,3249.6 515,3249.6 517.8,3249.6 520.6,3249.6 523.4,3249.6 526.2,3249.6 529,3249.6 531.8,3249.6 534.6,3249.6 537.4,3249.6 540.2,3249.6 543,3249.6 545.8,3249.6 548.6,3249.6 551.4,3249.6 554.2,3249.6 557,3249.6 559.8,3249.6 562.6,3249.6 565.4,3249.6 568.2,3249.6 571,3249.6 573.8,3249.6 576.6,3249.6 579.4,3249.6 582.2,3249.6 585,3249.6 587.8,3249.6 590.6,3249.6 593.4,3249.6 596.2,3249.6 599,3249.6 601.8,3249.6 604.6,3249.5 607.4,3249.5 610.2,3249.5 612.9,3249.5 615.7,3249.5 618.5,3249.5 621.3,3249.5 624.1,3249.5 626.9,3249.5 629.7,3249.5 632.5,3249.5 635.3,3249.5 638.1,3249.5 640.9,3249.5 643.7,3249.5 646.5,3249.5 649.3,3249.5 652.1,3249.5 654.9,3249.5 657.7,3249.5 660.5,3249.5 663.3,3249.5 666.1,3249.5 668.9,3249.5 671.7,3249.5 674.5,3249.5 677.3,3249.5 680.1,3249.5 682.9,3249.5 685.7,3249.5 688.5,3249.5 691.3,3249.5 694.1,3249.5 696.9,3249.5 699.7,3249.5 702.5,3249.5 705.3,3249.5 708.1,3249.5 710.9,3249.5 713.7,3249.5 716.5,3249.5 719.3,3249.5 722.1,3249.5 724.9,3249.5 727.7,3249.5 730.5,3249.5 733.3,3249.5 736.1,3249.5 738.9,3249.5 741.7,3249.5 744.5,3249.5 747.3,3249.5 750.1,3249.5 752.9,3249.5 755.7,3249.5 758.5,3249.5 761.3,3249.5 764.1,3249.5 766.9,3249.5 769.7,3249.5 772.5,3249.5 775.3,3249.5 778.1,3249.5 780.9,3249.5 783.7,3249.5 786.5,3249.5 789.3,3249.5 792.1,3249.5 794.9,3249.5 797.7,3249.5 800.5,3249.5 803.3,3249.5 806.1,3249.5 808.9,3249.5 811.7,3249.5 814.5,3249.5 817.3,3249.5 820.1,3249.5 822.9,3249.5 825.7,3249.5 828.5,3249.5 831.3,3249.5 834.1,3249.5 836.9,3249.5 839.7,3249.5 842.5,3249.5 845.3,3249.5 848.1,3249.5 850.9,3249.5 853.7,3249.5 856.5,3249.5 859.3,3249.5 862.1,3249.5 864.9,3249.5 867.7,3249.5 870.5,3249.5 873.3,3249.5 876.1,3249.5 878.9,3249.5 881.7,3249.5 884.5,3249.5 887.3,3249.5 890.1,3249.5 892.9,3249.5 895.7,3249.5 898.5,3249.5 901.3,3249.5 904.1,3249.5 906.9,3249.5 909.7,3249.5 912.5,3249.5 915.3,3249.5 918.1,3249.5 920.9,3249.5 923.7,3249.5 926.5,3249.5 929.3,3249.5 932.1,3249.5 934.9,3249.5 937.7,3249.5 940.5,3249.5 943.3,3249.5 946.1,3249.5 948.8,3249.5 951.6,3249.5 954.4,3249.5 957.2,3249.5 960,3249.5 962.8,3249.5 965.6,3249.5 968.4,3249.5 971.2,3249.5 974,3249.5 976.8,3249.5 979.6,3249.5 982.4,3249.5 985.2,3249.5 988,3249.5 990.8,3249.5 993.6,3249.5 996.4,3249.5 999.2,3249.5 1002,3249.5 1004.8,3249.4 1007.6,3249.4 1010.4,3249.4 1013.2,3249.4 1016,3249.4 1018.8,3249.4 1021.6,3249.4 1024.4,3249.4 1027.2,3249.4 1030,3249.4 1032.8,3249.4 1035.6,3249.4 1038.4,3249.3 1041.2,3249.3 1044,3249.3 1046.8,3249.3 1049.6,3249.3 1052.4,3249.3 1055.2,3249.3 1058,3249.2 1060.8,3249.2 1063.6,3249.2 1066.4,3249.2 1069.2,3249.2 1072,3249.1 1074.8,3249.1 1077.6,3249.1 1080.4,3249.1 1083.2,3249.1 1086,3249 1088.8,3249 1091.6,3249 1094.4,3248.9 1097.2,3248.9 1100,3248.9 1102.8,3248.8 1105.6,3248.8 1108.4,3248.8 1111.2,3248.7 1114,3248.7 1116.8,3248.7 1119.6,3248.6 1122.4,3248.6 1125.2,3248.5 1128,3248.5 1130.8,3248.4 1133.6,3248.4 1136.4,3248.3 1139.2,3248.3 1142,3248.2 1144.8,3248.2 1147.6,3248.1 1150.4,3248.1 1153.2,3248 1156,3247.9 1158.8,3247.9 1161.6,3247.8 1164.4,3247.7 1167.2,3247.6 1170,3247.6 1172.8,3247.5 1175.6,3247.4 1178.4,3247.3 1181.2,3247.2 1184,3247.1 1186.8,3247 1189.6,3246.9 1192.4,3246.8 1195.2,3246.7 1198,3246.6 1200.8,3246.5 1203.6,3246.4 1206.4,3246.3 1209.2,3246.2 1212,3246 1214.8,3245.9 1217.6,3245.8 1220.4,3245.7 1223.2,3245.5 1226,3245.4 1228.8,3245.2 1231.6,3245.1 1234.4,3244.9 1237.2,3244.8 1240,3244.6 1242.8,3244.4 1245.6,3244.3 1248.4,3244.1 1251.2,3243.9 1254,3243.7 1256.8,3243.5 1259.6,3243.3 1262.4,3243.1 1265.2,3242.9 1268,3242.7 1270.8,3242.5 1273.6,3242.3 1276.4,3242.1 1279.2,3241.9 1282,3241.6 1284.7,3241.4 1287.5,3241.2 1290.3,3240.9 1293.1,3240.7 1295.9,3240.4 1298.7,3240.2 1301.5,3239.9 1304.3,3239.7 1307.1,3239.4 1309.9,3239.1 1312.7,3238.9 1315.5,3238.6 1318.3,3238.3 1321.1,3238 1323.9,3237.8 1326.7,3237.5 1329.5,3237.2 1332.3,3236.9 1335.1,3236.7 1337.9,3236.4 1340.7,3236.1 1343.5,3235.8 1346.3,3235.6 1349.1,3235.3 1351.9,3235 1354.7,3234.8 1357.5,3234.5 1360.3,3234.3 1363.1,3234.1 1365.9,3233.8 1368.7,3233.6 1371.5,3233.4 1374.3,3233.2 1377.1,3233 1379.9,3232.8 1382.7,3232.6 1385.5,3232.5 1388.3,3232.3 1391.1,3232.2 1393.9,3232.1 1396.7,3232 1399.5,3231.9 1402.3,3231.9 1405.1,3231.8 1407.9,3231.8 1410.7,3231.8 1413.5,3231.8 1416.3,3231.9 1419.1,3231.9 1421.9,3232 1424.7,3232.1 1427.5,3232.2 1430.3,3232.4 1433.1,3232.5 1435.9,3232.7 1438.7,3232.9 1441.5,3233.2 1444.3,3233.4 1447.1,3233.7 1449.9,3234 1452.7,3234.3 1455.5,3234.6 1458.3,3235 1461.1,3235.4 1463.9,3235.8 1466.7,3236.2 1469.5,3236.6 1472.3,3237.1 1475.1,3237.5 1477.9,3238 1480.7,3238.5 1483.5,3239 1486.3,3239.6 1489.1,3240.1 1491.9,3240.7 1494.7,3241.3 1497.5,3241.9 1500.3,3242.5 1503.1,3243.1 1505.9,3243.8 1508.7,3244.4 1511.5,3245.1 1514.3,3245.8 1517.1,3246.5 1519.9,3247.2 1522.7,3247.9 1525.5,3248.6 1528.3,3249.3 1531.1,3250.1 1533.9,3250.8 1536.7,3251.6 1539.5,3252.3 1542.3,3253.1 1545.1,3253.9 1547.9,3254.7 1550.7,3255.5 1553.5,3256.3 1556.3,3257.1 1559.1,3257.9 1561.9,3258.7 1564.7,3259.5 1567.5,3260.3 1570.3,3261.1 1573.1,3261.9 1575.9,3262.8 1578.7,3263.6 1581.5,3264.4 1584.3,3265.2 1587.1,3266 1589.9,3266.8 1592.7,3267.6 1595.5,3268.3 1598.3,3269.1 1601.1,3269.9 1603.9,3270.6 1606.7,3271.4 1609.5,3272.1 1612.3,3272.9 1615.1,3273.6 1617.9,3274.3 1620.6,3275 1623.4,3275.6 1626.2,3276.3 1629,3276.9 1631.8,3277.6 1634.6,3278.2 1637.4,3278.8 1640.2,3279.4 1643,3280 1645.8,3280.5 1648.6,3281.1 1651.4,3281.6 1654.2,3282.1 1657,3282.6 1659.8,3283.1 1662.6,3283.5 1665.4,3284 1668.2,3284.4 1671,3284.9 1673.8,3285.3 1676.6,3285.7 1679.4,3286.1 1682.2,3286.4 1685,3286.8 1687.8,3287.1 1690.6,3287.5 1693.4,3287.8 1696.2,3288.1 1699,3288.4 1701.8,3288.7 1704.6,3289 1707.4,3289.3 1710.2,3289.5 1713,3289.8 1715.8,3290 1718.6,3290.3 1721.4,3290.5 1724.2,3290.7 1727,3290.9 1729.8,3291.1 1732.6,3291.3 1735.4,3291.5 1738.2,3291.7 1741,3291.9 1743.8,3292.1 1746.6,3292.2 1749.4,3292.4 1752.2,3292.6 1755,3292.7 1757.8,3292.8 1760.6,3293 1763.4,3293.1 1766.2,3293.3 1769,3293.4 1771.8,3293.5 1774.6,3293.6 1777.4,3293.7 1780.2,3293.9 1783,3294 1785.8,3294.1 1788.6,3294.2 1791.4,3294.3 1794.2,3294.4 1797,3294.5 1799.8,3294.6 1802.6,3294.7 1805.4,3294.7 1808.2,3294.8 1811,3294.9 1813.8,3295 1816.6,3295.1 1819.4,3295.1 1822.2,3295.2 1825,3295.3 1827.8,3295.4 1830.6,3295.4 1833.4,3295.5 1836.2,3295.6 1839,3295.6 1841.8,3295.7 1844.6,3295.7 1847.4,3295.8 1850.2,3295.9 1853,3295.9 1855.8,3296 1858.6,3296 1861.4,3296.1 1864.2,3296.1 1867,3296.2 1869.8,3296.2 1872.6,3296.3 1875.4,3296.3 1878.2,3296.4 1881,3296.4 1883.8,3296.5 1886.6,3296.5 1889.4,3296.5 1892.2,3296.6 1895,3296.6 1897.8,3296.7 1900.6,3296.7 1903.4,3296.8 1906.2,3296.8 1909,3296.8 1911.8,3296.9 1914.6,3296.9 1917.4,3296.9 1920.2,3297 1923,3297 1925.8,3297 1928.6,3297.1 1931.4,3297.1 1934.2,3297.1 1937,3297.2 1939.8,3297.2 1942.6,3297.2 1945.4,3297.3 1948.2,3297.3 1951,3297.3 1953.8,3297.3 1956.5,3297.4 1959.3,3297.4 1962.1,3297.4 1964.9,3297.5 1967.7,3297.5 1970.5,3297.5 1973.3,3297.5 1976.1,3297.6 1978.9,3297.6 1981.7,3297.6 1984.5,3297.6 1987.3,3297.7 1990.1,3297.7 1992.9,3297.7 1995.7,3297.7 1998.5,3297.7 2001.3,3297.8 2004.1,3297.8 2006.9,3297.8 2009.7,3297.8 2012.5,3297.9 2015.3,3297.9 2018.1,3297.9 2020.9,3297.9 2023.7,3297.9 2026.5,3298 2029.3,3298 2032.1,3298 2034.9,3298 2037.7,3298 2040.5,3298 2043.3,3298.1 2046.1,3298.1 2048.9,3298.1 2051.7,3298.1 2054.5,3298.1 2057.3,3298.2 2060.1,3298.2 2062.9,3298.2 2065.7,3298.2 2068.5,3298.2 2071.3,3298.2 2074.1,3298.2 2076.9,3298.3 2079.7,3298.3 2082.5,3298.3 2085.3,3298.3 2088.1,3298.3 2090.9,3298.3 2093.7,3298.4 2096.5,3298.4 2099.3,3298.4 2102.1,3298.4 2104.9,3298.4 2107.7,3298.4 2110.5,3298.4 2113.3,3298.4 2116.1,3298.5 2118.9,3298.5 2121.7,3298.5 2124.5,3298.5"/>
<path fill="none" stroke="#9900CC" stroke-width="2.2" d="M448 3242.4v15M484.2 3242.4v15M520.4 3242.4v15M556.6 3242.4v15M592.8 3242.4v15M629 3242.4v15M665.2 3242.4v15M701.4 3242.4v15M737.6 3242.4v15M773.8 3242.4v15M810 3242.4v15M846.2 3242.4v15M882.4 3242.4v15M918.6 3242.4v15M954.8 3242.2v15M991 3241.9v15M1027.2 3241.3v15M1063.4 3240.2v15M1099.6 3238.3v15M1135.8 3235.3v15M1172 3231.1v15M1208.2 3225.9v15M1244.4 3220.7v15M1280.6 3217.9v15M1316.8 3219.5v15M1353 3225.1v15M1389.2 3232.2v15M1425.4 3239v15M1461.6 3245.2v15M1497.8 3251.3v15M1534 3258.1v15M1570.2 3265.8v15M1606.4 3273.6v15M1642.6 3280.2v15M1678.8 3284.8v15M1715 3287.6v15M1751.2 3289.2v15M1787.4 3290.1v15M1823.6 3290.7v15M1859.8 3291.1v15M1896 3291.3v15M1932.2 3291.5v15M1968.4 3291.6v15M2004.6 3291.7v15M2040.8 3291.8v15M2077 3291.9v15M2113.2 3292v15"/>
<polyline fill="none" stroke="#FF6600" stroke-width="8.7" stroke-dasharray="32 48" points="445,3249.3 447.8,3249.3 450.6,3249.3 453.4,3249.2 456.2,3249.2 459,3249.1 461.8,3249.1 464.6,3249.1 467.4,3249 470.2,3249 473,3248.9 475.8,3248.9 478.6,3248.8 481.4,3248.8 484.2,3248.7 487,3248.6 489.8,3248.6 492.6,3248.5 495.4,3248.4 498.2,3248.3 501,3248.2 503.8,3248.1 506.6,3248.1 509.4,3248 512.2,3247.8 515,3247.7 517.8,3247.6 520.6,3247.5 523.4,3247.4 526.2,3247.2 529,3247.1 531.8,3246.9 534.6,3246.8 537.4,3246.6 540.2,3246.4 543,3246.2 545.8,3246 548.6,3245.8 551.4,3245.6 554.2,3245.4 557,3245.2 559.8,3245 562.6,3244.7 565.4,3244.5 568.2,3244.2 571,3244 573.8,3243.7 576.6,3243.4 579.4,3243.1 582.2,3242.9 585,3242.6 587.8,3242.3 590.6,3242.1 593.4,3241.8 596.2,3241.5 599,3241.3 601.8,3241 604.6,3240.8 607.4,3240.6 610.2,3240.4 612.9,3240.3 615.7,3240.2 618.5,3240.1 621.3,3240 624.1,3239.9 626.9,3239.9 629.7,3239.9 632.5,3240 635.3,3240.1 638.1,3240.2 640.9,3240.3 643.7,3240.5 646.5,3240.7 649.3,3240.9 652.1,3241.2 654.9,3241.4 657.7,3241.7 660.5,3241.9 663.3,3242.2 666.1,3242.5 668.9,3242.8 671.7,3243.1 674.5,3243.4 677.3,3243.7 680.1,3243.9 682.9,3244.2 685.7,3244.5 688.5,3244.7 691.3,3245 694.1,3245.3 696.9,3245.5 699.7,3245.7 702.5,3246 705.3,3246.2 708.1,3246.4 710.9,3246.6 713.7,3246.8 716.5,3247 719.3,3247.2 722.1,3247.4 724.9,3247.5 727.7,3247.7 730.5,3247.8 733.3,3248 736.1,3248.1 738.9,3248.3 741.7,3248.4 744.5,3248.5 747.3,3248.6 750.1,3248.7 752.9,3248.9 755.7,3249 758.5,3249 761.3,3249.1 764.1,3249.2 766.9,3249.3 769.7,3249.4 772.5,3249.5 775.3,3249.6 778.1,3249.6 780.9,3249.7 783.7,3249.8 786.5,3249.8 789.3,3249.9 792.1,3249.9 794.9,3250 797.7,3250.1 800.5,3250.1 803.3,3250.2 806.1,3250.2 808.9,3250.3 811.7,3250.3 814.5,3250.4 817.3,3250.4 820.1,3250.5 822.9,3250.5 825.7,3250.5 828.5,3250.6 831.3,3250.6 834.1,3250.7 836.9,3250.7 839.7,3250.8 842.5,3250.8 845.3,3250.8 848.1,3250.9 850.9,3250.9 853.7,3250.9 856.5,3251 859.3,3251 862.1,3251.1 864.9,3251.1 867.7,3251.1 870.5,3251.2 873.3,3251.2 876.1,3251.2 878.9,3251.3 881.7,3251.3 884.5,3251.3 887.3,3251.4 890.1,3251.4 892.9,3251.5 895.7,3251.5 898.5,3251.5 901.3,3251.6 904.1,3251.6 906.9,3251.6 909.7,3251.7 912.5,3251.7 915.3,3251.7 918.1,3251.8 920.9,3251.8 923.7,3251.9 926.5,3251.9 929.3,3251.9 932.1,3252 934.9,3252 937.7,3252 940.5,3252.1 943.3,3252.1 946.1,3252.1 948.8,3252.2 951.6,3252.2 954.4,3252.3 957.2,3252.3 960,3252.3 962.8,3252.4 965.6,3252.4 968.4,3252.5 971.2,3252.5 974,3252.5 976.8,3252.6 979.6,3252.6 982.4,3252.7 985.2,3252.7 988,3252.7 990.8,3252.8 993.6,3252.8 996.4,3252.9 999.2,3252.9 1002,3252.9 1004.8,3253 1007.6,3253 1010.4,3253.1 1013.2,3253.1 1016,3253.2 1018.8,3253.2 1021.6,3253.2 1024.4,3253.3 1027.2,3253.3 1030,3253.4 1032.8,3253.4 1035.6,3253.5 1038.4,3253.5 1041.2,3253.6 1044,3253.6 1046.8,3253.6 1049.6,3253.7 1052.4,3253.7 1055.2,3253.8 1058,3253.8 1060.8,3253.9 1063.6,3253.9 1066.4,3254 1069.2,3254 1072,3254.1 1074.8,3254.1 1077.6,3254.2 1080.4,3254.2 1083.2,3254.3 1086,3254.3 1088.8,3254.4 1091.6,3254.4 1094.4,3254.5 1097.2,3254.5 1100,3254.6 1102.8,3254.6 1105.6,3254.7 1108.4,3254.7 1111.2,3254.8 1114,3254.8 1116.8,3254.9 1119.6,3254.9 1122.4,3255 1125.2,3255.1 1128,3255.1 1130.8,3255.2 1133.6,3255.2 1136.4,3255.3 1139.2,3255.3 1142,3255.4 1144.8,3255.4 1147.6,3255.5 1150.4,3255.5 1153.2,3255.6 1156,3255.7 1158.8,3255.7 1161.6,3255.8 1164.4,3255.8 1167.2,3255.9 1170,3255.9 1172.8,3256 1175.6,3256 1178.4,3256.1 1181.2,3256.2 1184,3256.2 1186.8,3256.3 1189.6,3256.3 1192.4,3256.4 1195.2,3256.4 1198,3256.5 1200.8,3256.6 1203.6,3256.6 1206.4,3256.7 1209.2,3256.7 1212,3256.8 1214.8,3256.8 1217.6,3256.9 1220.4,3257 1223.2,3257 1226,3257.1 1228.8,3257.1 1231.6,3257.2 1234.4,3257.2 1237.2,3257.3 1240,3257.4 1242.8,3257.4 1245.6,3257.5 1248.4,3257.5 1251.2,3257.6 1254,3257.7 1256.8,3257.7 1259.6,3257.8 1262.4,3257.8 1265.2,3257.9 1268,3257.9 1270.8,3258 1273.6,3258.1 1276.4,3258.1 1279.2,3258.2 1282,3258.2 1284.7,3258.3 1287.5,3258.3 1290.3,3258.4 1293.1,3258.5 1295.9,3258.5 1298.7,3258.6 1301.5,3258.6 1304.3,3258.7 1307.1,3258.8 1309.9,3258.8 1312.7,3258.9 1315.5,3258.9 1318.3,3259 1321.1,3259.1 1323.9,3259.1 1326.7,3259.2 1329.5,3259.2 1332.3,3259.3 1335.1,3259.4 1337.9,3259.4 1340.7,3259.5 1343.5,3259.5 1346.3,3259.6 1349.1,3259.7 1351.9,3259.7 1354.7,3259.8 1357.5,3259.9 1360.3,3259.9 1363.1,3260 1365.9,3260.1 1368.7,3260.1 1371.5,3260.2 1374.3,3260.3 1377.1,3260.4 1379.9,3260.4 1382.7,3260.5 1385.5,3260.6 1388.3,3260.7 1391.1,3260.7 1393.9,3260.8 1396.7,3260.9 1399.5,3261 1402.3,3261.1 1405.1,3261.2 1407.9,3261.3 1410.7,3261.4 1413.5,3261.5 1416.3,3261.6 1419.1,3261.7 1421.9,3261.8 1424.7,3261.9 1427.5,3262 1430.3,3262.1 1433.1,3262.2 1435.9,3262.3 1438.7,3262.5 1441.5,3262.6 1444.3,3262.7 1447.1,3262.9 1449.9,3263 1452.7,3263.2 1455.5,3263.4 1458.3,3263.5 1461.1,3263.7 1463.9,3263.9 1466.7,3264.1 1469.5,3264.2 1472.3,3264.4 1475.1,3264.7 1477.9,3264.9 1480.7,3265.1 1483.5,3265.3 1486.3,3265.6 1489.1,3265.8 1491.9,3266.1 1494.7,3266.3 1497.5,3266.6 1500.3,3266.9 1503.1,3267.2 1505.9,3267.5 1508.7,3267.8 1511.5,3268.2 1514.3,3268.5 1517.1,3268.9 1519.9,3269.2 1522.7,3269.6 1525.5,3270 1528.3,3270.4 1531.1,3270.8 1533.9,3271.2 1536.7,3271.6 1539.5,3272.1 1542.3,3272.5 1545.1,3273 1547.9,3273.5 1550.7,3273.9 1553.5,3274.4 1556.3,3274.9 1559.1,3275.4 1561.9,3275.9 1564.7,3276.5 1567.5,3277 1570.3,3277.5 1573.1,3278 1575.9,3278.6 1578.7,3279.1 1581.5,3279.6 1584.3,3280.2 1587.1,3280.7 1589.9,3281.3 1592.7,3281.8 1595.5,3282.3 1598.3,3282.9 1601.1,3283.4 1603.9,3283.9 1606.7,3284.4 1609.5,3285 1612.3,3285.5 1615.1,3286 1617.9,3286.5 1620.6,3286.9 1623.4,3287.4 1626.2,3287.9 1629,3288.3 1631.8,3288.8 1634.6,3289.2 1637.4,3289.6 1640.2,3290 1643,3290.4 1645.8,3290.8 1648.6,3291.2 1651.4,3291.5 1654.2,3291.9 1657,3292.2 1659.8,3292.6 1662.6,3292.9 1665.4,3293.2 1668.2,3293.5 1671,3293.8 1673.8,3294 1676.6,3294.3 1679.4,3294.5 1682.2,3294.8 1685,3295 1687.8,3295.2 1690.6,3295.5 1693.4,3295.7 1696.2,3295.8 1699,3296 1701.8,3296.2 1704.6,3296.4 1707.4,3296.5 1710.2,3296.7 1713,3296.8 1715.8,3297 1718.6,3297.1 1721.4,3297.3 1724.2,3297.4 1727,3297.5 1729.8,3297.6 1732.6,3297.7 1735.4,3297.8 1738.2,3297.9 1741,3298 1743.8,3298.1 1746.6,3298.2 1749.4,3298.2 1752.2,3298.3 1755,3298.4 1757.8,3298.5 1760.6,3298.5 1763.4,3298.6 1766.2,3298.7 1769,3298.7 1771.8,3298.8 1774.6,3298.8 1777.4,3298.9 1780.2,3298.9 1783,3298.9 1785.8,3299 1788.6,3299 1791.4,3299.1 1794.2,3299.1 1797,3299.1 1799.8,3299.2 1802.6,3299.2 1805.4,3299.2 1808.2,3299.3 1811,3299.3 1813.8,3299.3 1816.6,3299.3 1819.4,3299.4 1822.2,3299.4 1825,3299.4 1827.8,3299.4 1830.6,3299.5 1833.4,3299.5 1836.2,3299.5 1839,3299.5 1841.8,3299.5 1844.6,3299.5 1847.4,3299.6 1850.2,3299.6 1853,3299.6 1855.8,3299.6 1858.6,3299.6 1861.4,3299.6 1864.2,3299.6 1867,3299.6 1869.8,3299.7 1872.6,3299.7 1875.4,3299.7 1878.2,3299.7 1881,3299.7 1883.8,3299.7 1886.6,3299.7 1889.4,3299.7 1892.2,3299.7 1895,3299.7 1897.8,3299.7 1900.6,3299.8 1903.4,3299.8 1906.2,3299.8 1909,3299.8 1911.8,3299.8 1914.6,3299.8 1917.4,3299.8 1920.2,3299.8 1923,3299.8 1925.8,3299.8 1928.6,3299.8 1931.4,3299.8 1934.2,3299.8 1937,3299.8 1939.8,3299.8 1942.6,3299.8 1945.4,3299.8 1948.2,3299.8 1951,3299.8 1953.8,3299.8 1956.5,3299.9 1959.3,3299.9 1962.1,3299.9 1964.9,3299.9 1967.7,3299.9 1970.5,3299.9 1973.3,3299.9 1976.1,3299.9 1978.9,3299.9 1981.7,3299.9 1984.5,3299.9 1987.3,3299.9 1990.1,3299.9 1992.9,3299.9 1995.7,3299.9 1998.5,3299.9 2001.3,3299.9 2004.1,3299.9 2006.9,3299.9 2009.7,3299.9 2012.5,3299.9 2015.3,3299.9 2018.1,3299.9 2020.9,3299.9 2023.7,3299.9 2026.5,3299.9 2029.3,3299.9 2032.1,3299.9 2034.9,3299.9 2037.7,3299.9 2040.5,3299.9 2043.3,3299.9 2046.1,3299.9 2048.9,3299.9 2051.7,3299.9 2054.5,3299.9 2057.3,3299.9 2060.1,3299.9 2062.9,3299.9 2065.7,3299.9 2068.5,3300 2071.3,3300 2074.1,3300 2076.9,3300 2079.7,3300 2082.5,3300 2085.3,3300 2088.1,3300 2090.9,3300 2093.7,3300 2096.5,3300 2099.3,3300 2102.1,3300 2104.9,3300 2107.7,3300 2110.5,3300 2113.3,3300 2116.1,3300 2118.9,3300 2121.7,3300 2124.5,3300"/>
<rect x="441.8" y="2312.5" width="6.4" height="1013.2"/>
<rect x="414.8" y="3307.3" width="1712.9" height="6.4"/>
<rect x="414.8" y="3141.5" width="30.2" height="6.4"/>
<rect x="414.8" y="2975.7" width="30.2" height="6.4"/>
<rect x="414.8" y="2809.9" width="30.2" height="6.4"/>
<rect x="414.8" y="2644.1" width="30.2" height="6.4"/>
<rect x="414.8" y="2478.3" width="30.2" height="6.4"/>
<rect x="414.8" y="2312.5" width="30.2" height="6.4"/>
<rect x="429.8" y="3274.1" width="15.2" height="6.4"/>
<rect x="429.8" y="3241" width="15.2" height="6.4"/>
<rect x="429.8" y="3207.8" width="15.2" height="6.4"/>
<rect x="429.8" y="3174.7" width="15.2" height="6.4"/>
<rect x="429.8" y="3108.3" width="15.2" height="6.4"/>
<rect x="429.8" y="3075.2" width="15.2" height="6.4"/>
<rect x="429.8" y="3042" width="15.2" height="6.4"/>
<rect x="429.8" y="3008.9" width="15.2" height="6.4"/>
<rect x="429.8" y="2942.5" width="15.2" height="6.4"/>
<rect x="429.8" y="2909.4" width="15.2" height="6.4"/>
<rect x="429.8" y="2876.2" width="15.2" height="6.4"/>
<rect x="429.8" y="2843.1" width="15.2" height="6.4"/>
<rect x="429.8" y="2776.7" width="15.2" height="6.4"/>
<rect x="429.8" y="2743.6" width="15.2" height="6.4"/>
<rect x="429.8" y="2710.4" width="15.2" height="6.4"/>
<rect x="429.8" y="2677.3" width="15.2" height="6.4"/>
<rect x="429.8" y="2610.9" width="15.2" height="6.4"/>
<rect x="429.8" y="2577.8" width="15.2" height="6.4"/>
<rect x="429.8" y="2544.6" width="15.2" height="6.4"/>
<rect x="429.8" y="2511.5" width="15.2" height="6.4"/>
<rect x="429.8" y="2445.1" width="15.2" height="6.4"/>
<rect x="429.8" y="2412" width="15.2" height="6.4"/>
<rect x="429.8" y="2378.8" width="15.2" height="6.4"/>
<rect x="429.8" y="2345.7" width="15.2" height="6.4"/>
<rect x="581.8" y="3310.5" width="6.4" height="30.3"/>
<rect x="861.7" y="3310.5" width="6.4" height="30.3"/>
<rect x="1141.6" y="3310.5" width="6.4" height="30.3"/>
<rect x="1421.5" y="3310.5" width="6.4" height="30.3"/>
<rect x="1701.4" y="3310.5" width="6.4" height="30.3"/>
<rect x="1981.3" y="3310.5" width="6.4" height="30.3"/>
<rect x="2121.3" y="3310.5" width="6.4" height="15.2"/>
<rect x="2051.3" y="3310.5" width="6.4" height="15.2"/>
<rect x="1911.4" y="3310.5" width="6.4" height="15.2"/>
<rect x="1841.4" y="3310.5" width="6.4" height="15.2"/>
<rect x="1771.4" y="3310.5" width="6.4" height="15.2"/>
<rect x="1631.4" y="3310.5" width="6.4" height="15.2"/>
<rect x="1561.5" y="3310.5" width="6.4" height="15.2"/>
<rect x="1491.5" y="3310.5" width="6.4" height="15.2"/>
<rect x="1351.5" y="3310.5" width="6.4" height="15.2"/>
<rect x="1281.5" y="3310.5" width="6.4" height="15.2"/>
<rect x="1211.6" y="3310.5" width="6.4" height="15.2"/>
<rect x="1071.6" y="3310.5" width="6.4" height="15.2"/>
<rect x="1001.6" y="3310.5" width="6.4" height="15.2"/>
<rect x="931.7" y="3310.5" width="6.4" height="15.2"/>
<rect x="791.7" y="3310.5" width="6.4" height="15.2"/>
<rect x="721.7" y="3310.5" width="6.4" height="15.2"/>
<rect x="651.7" y="3310.5" width="6.4" height="15.2"/>
<rect x="511.8" y="3310.5" width="6.4" height="15.2"/>
<rect x="441.8" y="3310.5" width="6.4" height="15.2"/>
<text transform="translate(392 3342.5) scale(0.95 1)" text-anchor="end" font-family='"Liberation Sans", Arial, Helvetica, sans-serif' font-weight="bold" font-size="89">0</text>
<text transform="translate(392.3 3176.7) scale(0.95 1)" text-anchor="end" font-family='"Liberation Sans", Arial, Helvetica, sans-serif' font-weight="bold" font-size="89">1x10<tspan font-size="58.5" dx="2.6" dy="-35.5">4</tspan></text>
<text transform="translate(392.3 3010.9) scale(0.95 1)" text-anchor="end" font-family='"Liberation Sans", Arial, Helvetica, sans-serif' font-weight="bold" font-size="89">2x10<tspan font-size="58.5" dx="2.6" dy="-35.5">4</tspan></text>
<text transform="translate(392.3 2845.1) scale(0.95 1)" text-anchor="end" font-family='"Liberation Sans", Arial, Helvetica, sans-serif' font-weight="bold" font-size="89">3x10<tspan font-size="58.5" dx="2.6" dy="-35.5">4</tspan></text>
<text transform="translate(392.3 2679.3) scale(0.95 1)" text-anchor="end" font-family='"Liberation Sans", Arial, Helvetica, sans-serif' font-weight="bold" font-size="89">4x10<tspan font-size="58.5" dx="2.6" dy="-35.5">4</tspan></text>
<text transform="translate(392.3 2513.5) scale(0.95 1)" text-anchor="end" font-family='"Liberation Sans", Arial, Helvetica, sans-serif' font-weight="bold" font-size="89">5x10<tspan font-size="58.5" dx="2.6" dy="-35.5">4</tspan></text>
<text transform="translate(392.3 2347.7) scale(0.95 1)" text-anchor="end" font-family='"Liberation Sans", Arial, Helvetica, sans-serif' font-weight="bold" font-size="89">6x10<tspan font-size="58.5" dx="2.6" dy="-35.5">4</tspan></text>
<text transform="translate(585 3429.5) scale(0.95 1)" text-anchor="middle" font-family='"Liberation Sans", Arial, Helvetica, sans-serif' font-weight="bold" font-size="89">292</text>
<text transform="translate(864.9 3429.5) scale(0.95 1)" text-anchor="middle" font-family='"Liberation Sans", Arial, Helvetica, sans-serif' font-weight="bold" font-size="89">290</text>
<text transform="translate(1144.8 3429.5) scale(0.95 1)" text-anchor="middle" font-family='"Liberation Sans", Arial, Helvetica, sans-serif' font-weight="bold" font-size="89">288</text>
<text transform="translate(1424.7 3429.5) scale(0.95 1)" text-anchor="middle" font-family='"Liberation Sans", Arial, Helvetica, sans-serif' font-weight="bold" font-size="89">286</text>
<text transform="translate(1704.6 3429.5) scale(0.95 1)" text-anchor="middle" font-family='"Liberation Sans", Arial, Helvetica, sans-serif' font-weight="bold" font-size="89">284</text>
<text transform="translate(1984.5 3429.5) scale(0.95 1)" text-anchor="middle" font-family='"Liberation Sans", Arial, Helvetica, sans-serif' font-weight="bold" font-size="89">282</text>
<text transform="translate(120 2793) rotate(-90)" text-anchor="middle" font-family='"Liberation Serif", "Times New Roman", Times, serif' font-size="117.2">Intensity</text>
<text x="481" y="2416.2" fill="#000" font-family='"Liberation Sans", Arial, Helvetica, sans-serif' font-size="98" font-weight="bold" text-anchor="start">C:</text>
<text x="626" y="2417.5" fill="#000" font-family='"Liberation Sans", Arial, Helvetica, sans-serif' font-size="81.2" font-weight="normal" text-anchor="start">AHL-AC6-C1s</text>
<text x="1745" y="2414" fill="#0000FF" font-family='"Liberation Sans", Arial, Helvetica, sans-serif' font-size="72" font-weight="normal" text-anchor="start">C-C/C-H</text>
<text x="1745" y="2502" fill="#0000FF" font-family='"Liberation Sans", Arial, Helvetica, sans-serif' font-size="72" font-weight="normal" text-anchor="start">77.7%</text>
<line x1="1750.5" y1="2411.7" x2="1619.4" y2="2504.6" stroke="#0000FF" stroke-width="9"/>
<polygon fill="#0000FF" points="1575.3,2535.8 1612.9,2492 1629.1,2514.9"/>
<text x="1714" y="2766.6" fill="#008000" font-family='"Liberation Sans", Arial, Helvetica, sans-serif' font-size="72" font-weight="normal" text-anchor="start">C-OH/C-O-C</text>
<text x="1714" y="2853.9" fill="#008000" font-family='"Liberation Sans", Arial, Helvetica, sans-serif' font-size="72" font-weight="normal" text-anchor="start">6.1%</text>
<line x1="1788" y1="2881.7" x2="1514.5" y2="3208.6" stroke="#008000" stroke-width="9"/>
<polygon fill="#008000" points="1479.8,3250 1505,3198.1 1526.5,3216"/>
<text x="970" y="2571" fill="#9900CC" font-family='"Liberation Sans", Arial, Helvetica, sans-serif' font-size="72" font-weight="normal" text-anchor="start">C=O/O-C-O</text>
<text x="970" y="2668.8" fill="#9900CC" font-family='"Liberation Sans", Arial, Helvetica, sans-serif' font-size="72" letter-spacing="5.6">4.6%</text>
<line x1="1079.6" y1="2691.5" x2="1304.7" y2="3187.4" stroke="#9900CC" stroke-width="9"/>
<polygon fill="#9900CC" points="1327,3236.6 1291.1,3191.4 1316.6,3179.8"/>
<text x="665" y="2662.4" fill="#800000" font-family='"Liberation Sans", Arial, Helvetica, sans-serif' font-size="72" font-weight="normal" text-anchor="start">O-C=O</text>
<text x="665" y="2750.8" fill="#800000" font-family='"Liberation Sans", Arial, Helvetica, sans-serif' font-size="72" font-weight="normal" text-anchor="start">10.2%</text>
<line x1="769.3" y1="2782.5" x2="939.3" y2="3179.9" stroke="#800000" stroke-width="9"/>
<polygon fill="#800000" points="960.5,3229.5 925.6,3183.5 951.3,3172.5"/>
<text x="482" y="2997.3" fill="#FF6600" font-size="72" font-family='"Liberation Sans", Arial, Helvetica, sans-serif'><tspan font-family='"Liberation Serif", "Times New Roman", Times, serif'>π</tspan>-<tspan font-family='"Liberation Serif", "Times New Roman", Times, serif'>π</tspan><tspan font-size="48" dy="-30">*</tspan><tspan dy="30" dx="4"> shake up</tspan></text>
<text x="482" y="3089" fill="#FF6600" font-family='"Liberation Sans", Arial, Helvetica, sans-serif' font-size="72" font-weight="normal" text-anchor="start">1.5%</text>
<line x1="540.4" y1="3122.8" x2="614.2" y2="3208.4" stroke="#FF6600" stroke-width="9"/>
<polygon fill="#FF6600" points="649.5,3249.3 602.3,3216 623.5,3197.7"/>
<text x="1285.5" y="3581.5" fill="#000" font-family='"Liberation Serif", "Times New Roman", Times, serif' font-size="117.2" font-weight="normal" text-anchor="middle">Binding energy (eV)</text>
</svg></body></html>
